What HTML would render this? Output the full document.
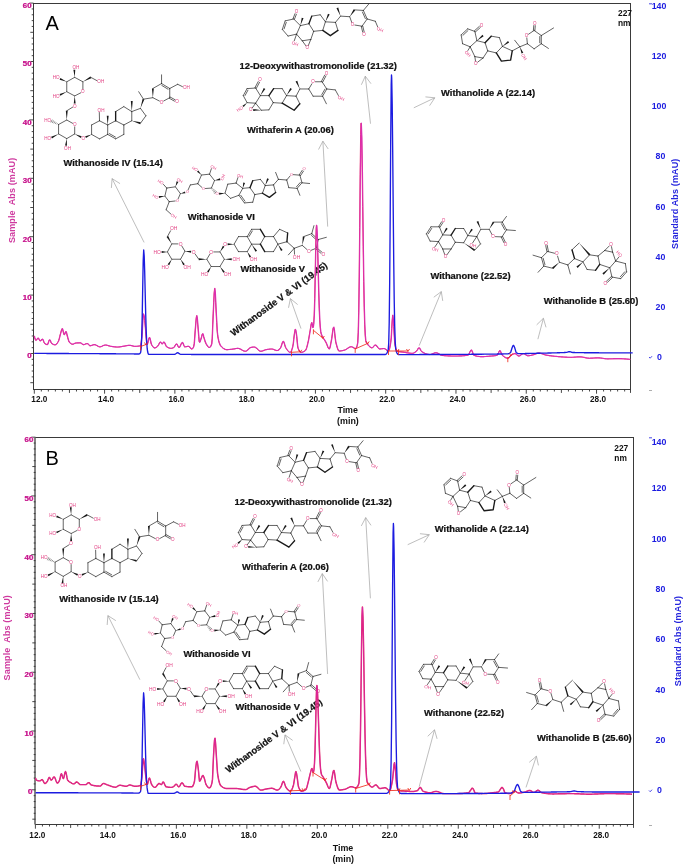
<!DOCTYPE html>
<html lang="en"><head><meta charset="utf-8"><title>Withanolide chromatograms</title>
<style>html,body{margin:0;padding:0;background:#fff}svg{display:block}</style></head>
<body>
<svg width="685" height="866" viewBox="0 0 685 866">
<rect width="685" height="866" fill="#fff"/>
<rect x="33.5" y="3.5" width="597" height="386" fill="none" stroke="#3a3a3a" stroke-width="1"/>
<path d="M33.5 382.7h-3.2M33.5 376.86h-1.8M33.5 371.02h-1.8M33.5 365.18h-1.8M33.5 359.34h-1.8M33.5 353.5h-4.2M33.5 347.66h-1.8M33.5 341.82h-1.8M33.5 335.98h-1.8M33.5 330.14h-1.8M33.5 324.3h-3.2M33.5 318.46h-1.8M33.5 312.62h-1.8M33.5 306.78h-1.8M33.5 300.94h-1.8M33.5 295.1h-4.2M33.5 289.26h-1.8M33.5 283.42h-1.8M33.5 277.58h-1.8M33.5 271.74h-1.8M33.5 265.9h-3.2M33.5 260.06h-1.8M33.5 254.22h-1.8M33.5 248.38h-1.8M33.5 242.54h-1.8M33.5 236.7h-4.2M33.5 230.86h-1.8M33.5 225.02h-1.8M33.5 219.18h-1.8M33.5 213.34h-1.8M33.5 207.5h-3.2M33.5 201.66h-1.8M33.5 195.82h-1.8M33.5 189.98h-1.8M33.5 184.14h-1.8M33.5 178.3h-4.2M33.5 172.46h-1.8M33.5 166.62h-1.8M33.5 160.78h-1.8M33.5 154.94h-1.8M33.5 149.1h-3.2M33.5 143.26h-1.8M33.5 137.42h-1.8M33.5 131.58h-1.8M33.5 125.74h-1.8M33.5 119.9h-4.2M33.5 114.06h-1.8M33.5 108.22h-1.8M33.5 102.38h-1.8M33.5 96.54h-1.8M33.5 90.7h-3.2M33.5 84.86h-1.8M33.5 79.02h-1.8M33.5 73.18h-1.8M33.5 67.34h-1.8M33.5 61.5h-4.2M33.5 55.66h-1.8M33.5 49.82h-1.8M33.5 43.98h-1.8M33.5 38.14h-1.8M33.5 32.3h-3.2M33.5 26.46h-1.8M33.5 20.62h-1.8M33.5 14.78h-1.8M33.5 8.94h-1.8M33.5 3.1h-4.2M34.3 389.5v4.2M41.33 389.5v2M48.36 389.5v2M55.38 389.5v2M62.41 389.5v2M69.44 389.5v3.4M76.47 389.5v2M83.5 389.5v2M90.52 389.5v2M97.55 389.5v2M104.58 389.5v4.2M111.61 389.5v2M118.64 389.5v2M125.66 389.5v2M132.69 389.5v2M139.72 389.5v3.4M146.75 389.5v2M153.78 389.5v2M160.8 389.5v2M167.83 389.5v2M174.86 389.5v4.2M181.89 389.5v2M188.92 389.5v2M195.94 389.5v2M202.97 389.5v2M210 389.5v3.4M217.03 389.5v2M224.06 389.5v2M231.08 389.5v2M238.11 389.5v2M245.14 389.5v4.2M252.17 389.5v2M259.2 389.5v2M266.22 389.5v2M273.25 389.5v2M280.28 389.5v3.4M287.31 389.5v2M294.34 389.5v2M301.36 389.5v2M308.39 389.5v2M315.42 389.5v4.2M322.45 389.5v2M329.48 389.5v2M336.5 389.5v2M343.53 389.5v2M350.56 389.5v3.4M357.59 389.5v2M364.62 389.5v2M371.64 389.5v2M378.67 389.5v2M385.7 389.5v4.2M392.73 389.5v2M399.76 389.5v2M406.78 389.5v2M413.81 389.5v2M420.84 389.5v3.4M427.87 389.5v2M434.9 389.5v2M441.92 389.5v2M448.95 389.5v2M455.98 389.5v4.2M463.01 389.5v2M470.04 389.5v2M477.06 389.5v2M484.09 389.5v2M491.12 389.5v3.4M498.15 389.5v2M505.18 389.5v2M512.2 389.5v2M519.23 389.5v2M526.26 389.5v4.2M533.29 389.5v2M540.32 389.5v2M547.34 389.5v2M554.37 389.5v2M561.4 389.5v3.4M568.43 389.5v2M575.46 389.5v2M582.48 389.5v2M589.51 389.5v2M596.54 389.5v4.2M603.57 389.5v2M610.6 389.5v2M617.62 389.5v2M624.65 389.5v2M630.5 389.5v3.4" stroke="#333" stroke-width="0.9" fill="none"/>
<text x="32" y="358.4" font-size="8.1" font-weight="bold" fill="#e86ab8" text-anchor="end" font-family="'Liberation Sans', Arial, sans-serif">0</text>
<text x="31.5" y="358.4" font-size="8.1" font-weight="bold" fill="#c4188e" text-anchor="end" font-family="'Liberation Sans', Arial, sans-serif">0</text>
<text x="32" y="300" font-size="8.1" font-weight="bold" fill="#e86ab8" text-anchor="end" font-family="'Liberation Sans', Arial, sans-serif">10</text>
<text x="31.5" y="300" font-size="8.1" font-weight="bold" fill="#c4188e" text-anchor="end" font-family="'Liberation Sans', Arial, sans-serif">10</text>
<text x="32" y="241.6" font-size="8.1" font-weight="bold" fill="#e86ab8" text-anchor="end" font-family="'Liberation Sans', Arial, sans-serif">20</text>
<text x="31.5" y="241.6" font-size="8.1" font-weight="bold" fill="#c4188e" text-anchor="end" font-family="'Liberation Sans', Arial, sans-serif">20</text>
<text x="32" y="183.2" font-size="8.1" font-weight="bold" fill="#e86ab8" text-anchor="end" font-family="'Liberation Sans', Arial, sans-serif">30</text>
<text x="31.5" y="183.2" font-size="8.1" font-weight="bold" fill="#c4188e" text-anchor="end" font-family="'Liberation Sans', Arial, sans-serif">30</text>
<text x="32" y="124.8" font-size="8.1" font-weight="bold" fill="#e86ab8" text-anchor="end" font-family="'Liberation Sans', Arial, sans-serif">40</text>
<text x="31.5" y="124.8" font-size="8.1" font-weight="bold" fill="#c4188e" text-anchor="end" font-family="'Liberation Sans', Arial, sans-serif">40</text>
<text x="32" y="66.4" font-size="8.1" font-weight="bold" fill="#e86ab8" text-anchor="end" font-family="'Liberation Sans', Arial, sans-serif">50</text>
<text x="31.5" y="66.4" font-size="8.1" font-weight="bold" fill="#c4188e" text-anchor="end" font-family="'Liberation Sans', Arial, sans-serif">50</text>
<text x="32" y="8" font-size="8.1" font-weight="bold" fill="#e86ab8" text-anchor="end" font-family="'Liberation Sans', Arial, sans-serif">60</text>
<text x="31.5" y="8" font-size="8.1" font-weight="bold" fill="#c4188e" text-anchor="end" font-family="'Liberation Sans', Arial, sans-serif">60</text>
<text x="39.3" y="401.9" font-size="8.2" font-weight="bold" fill="#111" text-anchor="middle" font-family="'Liberation Sans', Arial, sans-serif">12.0</text>
<text x="106.08" y="401.9" font-size="8.2" font-weight="bold" fill="#111" text-anchor="middle" font-family="'Liberation Sans', Arial, sans-serif">14.0</text>
<text x="176.36" y="401.9" font-size="8.2" font-weight="bold" fill="#111" text-anchor="middle" font-family="'Liberation Sans', Arial, sans-serif">16.0</text>
<text x="246.64" y="401.9" font-size="8.2" font-weight="bold" fill="#111" text-anchor="middle" font-family="'Liberation Sans', Arial, sans-serif">18.0</text>
<text x="316.92" y="401.9" font-size="8.2" font-weight="bold" fill="#111" text-anchor="middle" font-family="'Liberation Sans', Arial, sans-serif">20.0</text>
<text x="387.2" y="401.9" font-size="8.2" font-weight="bold" fill="#111" text-anchor="middle" font-family="'Liberation Sans', Arial, sans-serif">22.0</text>
<text x="457.48" y="401.9" font-size="8.2" font-weight="bold" fill="#111" text-anchor="middle" font-family="'Liberation Sans', Arial, sans-serif">24.0</text>
<text x="527.76" y="401.9" font-size="8.2" font-weight="bold" fill="#111" text-anchor="middle" font-family="'Liberation Sans', Arial, sans-serif">26.0</text>
<text x="598.04" y="401.9" font-size="8.2" font-weight="bold" fill="#111" text-anchor="middle" font-family="'Liberation Sans', Arial, sans-serif">28.0</text>
<text x="661.8" y="359.95" font-size="8.8" font-weight="bold" fill="#1c1ce0" text-anchor="end" font-family="'Liberation Sans', Arial, sans-serif">0</text>
<text x="665.3" y="309.81" font-size="8.8" font-weight="bold" fill="#1c1ce0" text-anchor="end" font-family="'Liberation Sans', Arial, sans-serif">20</text>
<text x="665.3" y="259.67" font-size="8.8" font-weight="bold" fill="#1c1ce0" text-anchor="end" font-family="'Liberation Sans', Arial, sans-serif">40</text>
<text x="665.3" y="209.53" font-size="8.8" font-weight="bold" fill="#1c1ce0" text-anchor="end" font-family="'Liberation Sans', Arial, sans-serif">60</text>
<text x="665.3" y="159.39" font-size="8.8" font-weight="bold" fill="#1c1ce0" text-anchor="end" font-family="'Liberation Sans', Arial, sans-serif">80</text>
<text x="666.4" y="109.25" font-size="8.8" font-weight="bold" fill="#1c1ce0" text-anchor="end" font-family="'Liberation Sans', Arial, sans-serif">100</text>
<text x="666.4" y="59.11" font-size="8.8" font-weight="bold" fill="#1c1ce0" text-anchor="end" font-family="'Liberation Sans', Arial, sans-serif">120</text>
<text x="666.4" y="8.97" font-size="8.8" font-weight="bold" fill="#1c1ce0" text-anchor="end" font-family="'Liberation Sans', Arial, sans-serif">140</text>
<text x="337.4" y="412.7" font-size="8.9" font-weight="bold" fill="#111" text-anchor="start" font-family="'Liberation Sans', Arial, sans-serif">Time</text>
<text x="337.1" y="423.5" font-size="8.9" font-weight="bold" fill="#111" text-anchor="start" font-family="'Liberation Sans', Arial, sans-serif">(min)</text>
<text x="0" y="0" font-size="9" font-weight="bold" fill="#cf3a9f" text-anchor="middle" font-family="'Liberation Sans', Arial, sans-serif" letter-spacing="0.13" style="white-space:pre" transform="translate(15 200.4) rotate(-90)">Sample  Abs (mAU)</text>
<text x="0" y="0" font-size="9" font-weight="bold" fill="#2626dd" text-anchor="middle" font-family="'Liberation Sans', Arial, sans-serif" letter-spacing="0.15" transform="translate(678.2 203.7) rotate(-90)">Standard Abs (mAU)</text>
<text x="618" y="15.6" font-size="8.4" font-weight="bold" fill="#111" text-anchor="start" font-family="'Liberation Sans', Arial, sans-serif">227</text>
<text x="618" y="26.1" font-size="8.4" font-weight="bold" fill="#111" text-anchor="start" font-family="'Liberation Sans', Arial, sans-serif">nm</text>
<text x="45.4" y="30.2" font-size="20" font-weight="normal" fill="#000" text-anchor="start" font-family="'Liberation Sans', Arial, sans-serif">A</text>
<path d="M649 3.8h3M649 357l1.2 1.2l1.8 -2" stroke="#1c1ce0" stroke-width="0.8" fill="none"/>
<path d="M649 390.5h3" stroke="#999" stroke-width="0.8"/>
<path d="M144.1 242.4L112.1 178.6M120.04 183.63L112.1 178.6L111.38 187.97" stroke="#a2a2a2" stroke-width="0.7" fill="none"/>
<path d="M301 328.6L290.4 298.6M297.65 304.58L290.4 298.6L288.52 307.81" stroke="#a2a2a2" stroke-width="0.7" fill="none"/>
<path d="M327.7 226.6L322.9 141.2M328.19 148.97L322.9 141.2L318.52 149.52" stroke="#a2a2a2" stroke-width="0.7" fill="none"/>
<path d="M370.5 123.7L365.3 76.2M370.99 83.68L365.3 76.2L361.36 84.74" stroke="#a2a2a2" stroke-width="0.7" fill="none"/>
<path d="M413.8 107.8L434.8 97.8M429.61 105.64L434.8 97.8L425.44 96.89" stroke="#a2a2a2" stroke-width="0.7" fill="none"/>
<path d="M419.2 345.6L441.3 291.6M442.73 300.89L441.3 291.6L433.77 297.22" stroke="#a2a2a2" stroke-width="0.7" fill="none"/>
<path d="M537.9 339.2L543.4 318.3M546.03 327.32L543.4 318.3L536.67 324.86" stroke="#a2a2a2" stroke-width="0.7" fill="none"/>
<text x="63.5" y="165.9" font-size="9.4" font-weight="bold" fill="#111" text-anchor="start" font-family="'Liberation Sans', Arial, sans-serif" stroke="#111" stroke-width="0.22">Withanoside IV (15.14)</text>
<text x="187.7" y="220.1" font-size="9.4" font-weight="bold" fill="#111" text-anchor="start" font-family="'Liberation Sans', Arial, sans-serif" stroke="#111" stroke-width="0.22">Withanoside VI</text>
<text x="240.5" y="272.4" font-size="9.4" font-weight="bold" fill="#111" text-anchor="start" font-family="'Liberation Sans', Arial, sans-serif" stroke="#111" stroke-width="0.22">Withanoside V</text>
<text x="0" y="0" font-size="9.4" font-weight="bold" fill="#111" text-anchor="start" font-family="'Liberation Sans', Arial, sans-serif" stroke="#111" stroke-width="0.22" transform="translate(233.4 336.5) rotate(-36.4)">Withanoside V &amp; VI (19.45)</text>
<text x="396.8" y="68.7" font-size="9.4" font-weight="bold" fill="#111" text-anchor="end" font-family="'Liberation Sans', Arial, sans-serif" stroke="#111" stroke-width="0.22">12-Deoxywithastromonolide (21.32)</text>
<text x="247.1" y="133.2" font-size="9.4" font-weight="bold" fill="#111" text-anchor="start" font-family="'Liberation Sans', Arial, sans-serif" stroke="#111" stroke-width="0.22">Withaferin A (20.06)</text>
<text x="441.1" y="95.5" font-size="9.4" font-weight="bold" fill="#111" text-anchor="start" font-family="'Liberation Sans', Arial, sans-serif" stroke="#111" stroke-width="0.22">Withanolide A (22.14)</text>
<text x="430.4" y="279" font-size="9.4" font-weight="bold" fill="#111" text-anchor="start" font-family="'Liberation Sans', Arial, sans-serif" stroke="#111" stroke-width="0.22">Withanone (22.52)</text>
<text x="543.7" y="304" font-size="9.4" font-weight="bold" fill="#111" text-anchor="start" font-family="'Liberation Sans', Arial, sans-serif" stroke="#111" stroke-width="0.22">Withanolide B (25.60)</text>
<g font-family="'Liberation Sans', Arial, sans-serif"><path d="M74.7 77.33L82.89 81.8M82.89 81.8L82.89 89.33M80.76 92.82L74.7 95.94M74.7 95.94L66.76 91.72M66.76 91.72L66.76 81.8M66.76 81.8L74.7 77.33M90.83 77.33L96.92 80.65M72.67 107.14L66.76 110.83M66.76 120.01L72.62 123.31M74.7 126.87L74.7 133.91M74.7 133.91L66.76 138.62M66.76 138.62L58.57 133.91M58.57 133.91L58.57 124.48M58.57 124.48L66.76 120.01M91.58 134.4L91.58 124.98M91.58 124.98L99.52 120.76M99.52 120.76L107.7 124.98M107.7 124.98L107.7 134.4M107.7 134.4L99.52 138.87M99.52 138.87L91.58 134.4M99.52 120.76L99.32 112.48M107.7 124.98L115.65 120.76M115.65 120.76L123.83 124.98M123.83 124.98L123.83 134.4M123.83 134.4L115.65 138.87M115.65 138.87L107.7 134.4M115.43 137.03L109.39 133.63M115.65 111.58L123.83 106.61M123.83 106.61L131.77 111.58M131.77 111.58L131.77 120.76M131.77 120.76L123.83 124.98M131.77 111.58L140.46 108.35M140.46 108.35L145.92 115.79M145.92 115.79L140.46 123.24M143.44 99.17L138.72 91.72M143.44 99.17L152.87 97.68M152.87 88.5L161.55 83.54M161.55 83.54L169.74 88.5M161.76 85.41L167.98 89.19M169.74 88.5L169.74 97.68M169.74 97.68L163.65 101M159.42 101.05L152.87 97.68M161.55 83.54L161.55 74.85M169.38 98.34L174.48 101.15M170.1 97.02L175.2 99.84M169.74 88.5L177.68 84.28M177.68 84.28L182.49 86.68" stroke="#1a1a1a" stroke-width="0.68" fill="none" stroke-linecap="round"/><path d="M57.27 123.58L57.06 124.01M55.97 122.68L55.55 123.54M54.67 121.78L54.04 123.07M53.37 120.88L52.53 122.61M52.07 119.98L51.02 122.14" stroke="#1a1a1a" stroke-width="0.5" fill="none" stroke-linecap="round"/><path d="M115.65 120.76L115.65 111.58" stroke="#1a1a1a" stroke-width="1.36" fill="none" stroke-linecap="round"/><path d="M74.7 77.33L75.27 69.75L73.38 69.84ZM66.76 81.8L60.4 77.93L59.63 79.67ZM66.76 91.72L59.59 94.06L60.4 95.78ZM82.89 81.8L91.3 78.16L90.37 76.5ZM74.7 95.94L73.75 103.48L75.65 103.48ZM66.76 120.01L67.71 110.83L65.81 110.83ZM58.57 133.91L51.09 136.69L51.95 138.38ZM66.76 138.62L65.07 145.57L66.96 145.77ZM74.7 133.91L80.82 137.94L81.65 136.23ZM91.58 134.4L85.17 136.27L85.96 138ZM107.7 124.98L108.65 115.79L106.75 115.79ZM131.77 111.58L132.72 100.91L130.82 100.91ZM131.77 120.76L140.2 124.15L140.72 122.32ZM140.46 108.35L144.34 99.46L142.53 98.88ZM152.87 97.68L153.82 88.5L151.92 88.5Z" fill="#1a1a1a"/><text x="82.89" y="93.38" font-size="4.6" text-anchor="middle" fill="#e23f82">O</text><text x="72.5" y="69.06" font-size="4.6" text-anchor="start" fill="#e23f82">OH</text><text x="59.53" y="79.48" font-size="4.6" text-anchor="end" fill="#e23f82">HO</text><text x="59.53" y="97.6" font-size="4.6" text-anchor="end" fill="#e23f82">HO</text><text x="97.32" y="83.46" font-size="4.6" text-anchor="start" fill="#e23f82">OH</text><text x="74.7" y="107.52" font-size="4.6" text-anchor="middle" fill="#e23f82">O</text><text x="74.7" y="126.13" font-size="4.6" text-anchor="middle" fill="#e23f82">O</text><text x="51.09" y="121.67" font-size="4.6" text-anchor="end" fill="#e23f82">HO</text><text x="51.09" y="140.28" font-size="4.6" text-anchor="end" fill="#e23f82">HO</text><text x="64.07" y="149.71" font-size="4.6" text-anchor="start" fill="#e23f82">OH</text><text x="83.39" y="139.78" font-size="4.6" text-anchor="middle" fill="#e23f82">O</text><text x="97.57" y="111.74" font-size="4.6" text-anchor="start" fill="#e23f82">OH</text><text x="161.55" y="103.8" font-size="4.6" text-anchor="middle" fill="#e23f82">O</text><text x="176.94" y="103.31" font-size="4.6" text-anchor="middle" fill="#e23f82">O</text><text x="182.93" y="89.41" font-size="4.6" text-anchor="start" fill="#e23f82">OH</text></g>
<g font-family="'Liberation Sans', Arial, sans-serif"><path d="M166.75 188.05L175.43 186.81M175.43 186.81L180.4 193.64M180.4 193.64L178.15 198.76M175.18 200.97L169.23 201.7M169.23 201.7L164.89 196.12M164.89 196.12L166.75 188.05M166.75 188.05L163.47 184.42M169.23 201.7L166.13 209.77M166.13 209.77L170.75 213.92M188.1 189.84L190.32 184.95M190.32 184.95L197.77 183.71M197.77 183.71L201.49 175.03M201.49 175.03L209.55 174.16M209.55 174.16L214.52 180.61M214.52 180.61L211.41 188.05M211.41 188.05L205.48 188.51M201.76 187.26L197.77 183.71M209.55 174.16L211.36 168.74M225 193.21L227.77 184.19M227.77 184.19L236.1 183.08M236.1 183.08L242.75 188.35M242.75 188.35L238.87 195.29M238.87 195.29L230.55 198.34M230.55 198.34L225 193.21M236.1 183.08L237.92 177.61M242.75 188.35L249.97 187.66M249.97 187.66L254.82 194.59M254.82 194.59L252.74 202.22M252.74 202.22L244.42 202.92M244.42 202.92L238.87 195.29M244.96 201.12L240.75 195.32M252.74 180.72L260.37 179.34M260.37 179.34L265.22 185.58M265.22 185.58L262.45 193.21M262.45 193.21L254.82 194.59M265.22 185.58L273.54 184.88M273.54 184.88L275.62 192.51M273.54 184.88L278.4 179.34M278.4 179.34L275.62 172.4M278.4 179.34L286.72 180.03M286.72 180.03L289.94 176.13M293.42 174.65L299.9 175.18M300.52 175.59L303.5 171.12M299.27 174.76L302.25 170.29M299.9 175.18L301.98 182.8M301.98 182.8L309.6 183.5M301.98 182.8L297.12 188.35M300.27 182.48L296.58 186.7M297.12 188.35L299.9 195.29M297.12 188.35L288.8 187.66M288.8 187.66L286.72 180.03" stroke="#1a1a1a" stroke-width="0.68" fill="none" stroke-linecap="round"/><path d="M212.06 189.1L212.41 188.77M212.71 190.14L213.41 189.49M213.36 191.19L214.41 190.2M214.01 192.23L215.41 190.92M214.66 193.28L216.41 191.63" stroke="#1a1a1a" stroke-width="0.5" fill="none" stroke-linecap="round"/><path d="M249.97 187.66L252.74 180.72M275.62 192.51L269.38 197.37M269.38 197.37L262.45 193.21" stroke="#1a1a1a" stroke-width="1.36" fill="none" stroke-linecap="round"/><path d="M175.43 186.81L178.37 182.07L176.61 181.36ZM164.89 196.12L158.79 196.1L159.08 197.97ZM180.4 193.64L185.41 193.25L184.91 191.42ZM201.49 175.03L198.33 170.53L196.99 171.87ZM214.52 180.61L220.36 180.17L219.91 178.33ZM225 193.21L219.02 192.85L219.21 194.74ZM242.75 188.35L245.06 183.03L243.22 182.57ZM265.22 185.58L268.88 179L267.11 178.29Z" fill="#1a1a1a"/><text x="177.3" y="202.19" font-size="4.1" text-anchor="middle" fill="#e23f82">O</text><text x="163.55" y="184.32" font-size="4.1" text-anchor="end" fill="#e23f82" transform="rotate(30 162.03 182.84)">HO</text><text x="176.77" y="181.22" font-size="4.1" text-anchor="start" fill="#e23f82" transform="rotate(30 178.29 179.74)">OH</text><text x="158.34" y="198.84" font-size="4.1" text-anchor="end" fill="#e23f82" transform="rotate(30 156.82 197.36)">HO</text><text x="170.82" y="216.83" font-size="4.1" text-anchor="start" fill="#e23f82" transform="rotate(30 172.33 215.35)">OH</text><text x="187.22" y="193.25" font-size="4.1" text-anchor="middle" fill="#e23f82">O</text><text x="203.35" y="190.15" font-size="4.1" text-anchor="middle" fill="#e23f82">O</text><text x="197.67" y="171.17" font-size="4.1" text-anchor="end" fill="#e23f82" transform="rotate(30 196.15 169.69)">HO</text><text x="210.52" y="168.19" font-size="4.1" text-anchor="start" fill="#e23f82" transform="rotate(30 212.03 166.71)">OH</text><text x="220.69" y="180.23" font-size="4.1" text-anchor="start" fill="#e23f82" transform="rotate(-70 222.21 178.75)">OH</text><text x="217" y="195.49" font-size="4.1" text-anchor="middle" fill="#e23f82">O</text><text x="237.08" y="177.07" font-size="4.1" text-anchor="start" fill="#e23f82" transform="rotate(20 238.59 175.59)">OH</text><text x="291.3" y="175.96" font-size="4.1" text-anchor="middle" fill="#e23f82">O</text><text x="304.06" y="170.41" font-size="4.1" text-anchor="middle" fill="#e23f82">O</text></g>
<g font-family="'Liberation Sans', Arial, sans-serif"><path d="M171.79 243.9L178 243.9M181.86 246.08L184.93 251.2M184.93 251.2L180.55 259.23M180.55 259.23L171.79 259.23M171.79 259.23L167.41 251.93M167.41 251.93L171.79 243.9M167.41 236.6L170.57 230.81M195.15 254.01L198.8 259.23M206.82 259.23L209.89 254.11M213.75 251.93L219.96 251.93M219.96 251.93L224.34 259.23M224.34 259.23L219.96 266.53M219.96 266.53L211.2 266.53M211.2 266.53L206.82 259.23M234.09 244.19L238.47 236.6M238.47 236.6L247.23 236.6M247.23 236.6L251.61 244.19M251.61 244.19L247.23 251.64M247.23 251.64L238.47 251.64M238.47 251.64L234.09 244.19M247.23 236.6L251.61 229.3M249.04 236.49L252.37 230.95M251.61 229.3L260.36 229.3M264.74 236.6L260.36 244.19M260.36 244.19L251.61 244.19M264.74 236.6L273.5 236.6M273.5 236.6L277.88 244.19M277.88 244.19L273.5 251.64M273.5 251.64L264.74 251.64M273.5 236.6L279.64 229.3M279.64 229.3L287.66 232.95M286.93 241.71L277.88 244.19M286.93 241.71L294.23 248.28M294.23 248.28L288.39 254.85M294.23 248.28L294.54 254.2M294.23 248.28L302.26 245.36M303.72 236.6L311.75 233.68M311.75 233.68L313.94 225.65M311.75 233.68L318.32 239.52M311.54 235.5L316.54 239.94M318.32 239.52L326.35 237.33M318.32 239.52L316.13 248.28M315.65 248.85L321 253.34M316.61 247.7L321.96 252.2M316.13 248.28L311.2 250.25M306.93 249.5L302.26 245.36" stroke="#1a1a1a" stroke-width="0.68" fill="none" stroke-linecap="round"/><path d="M260.36 229.3L264.74 236.6M264.74 251.64L260.36 244.19M287.66 232.95L286.93 241.71" stroke="#1a1a1a" stroke-width="1.36" fill="none" stroke-linecap="round"/><path d="M171.79 243.9L168.22 236.11L166.59 237.09ZM184.93 251.2L191.07 252.66L191.23 250.77ZM180.55 259.23L183.21 265.3L184.82 264.3ZM171.79 259.23L167.62 264.29L169.25 265.27ZM167.41 251.93L161.64 250.98L161.64 252.88ZM206.82 259.23L198.8 258.28L198.8 260.18ZM219.96 251.93L224.46 246.84L222.88 245.79ZM224.34 259.23L231.72 260.18L231.72 258.28ZM219.96 266.53L223.25 272.75L224.8 271.64ZM211.2 266.53L207.04 271.59L208.66 272.57ZM234.09 244.19L227.62 243.24L227.62 245.14ZM247.23 251.64L249.51 257.49L251.16 256.54ZM251.61 244.19L255.49 251.72L257.07 250.67ZM277.88 244.19L281.02 250.97L282.63 249.96ZM302.26 245.36L304.66 236.75L302.79 236.44Z" fill="#1a1a1a"/><text x="180.55" y="245.66" font-size="4.9" text-anchor="middle" fill="#e23f82">O</text><text x="169.98" y="230.33" font-size="4.9" text-anchor="start" fill="#e23f82">OH</text><text x="193.69" y="253.69" font-size="4.9" text-anchor="middle" fill="#e23f82">O</text><text x="183.55" y="268.73" font-size="4.9" text-anchor="start" fill="#e23f82">OH</text><text x="168.93" y="268.73" font-size="4.9" text-anchor="end" fill="#e23f82">HO</text><text x="160.9" y="253.69" font-size="4.9" text-anchor="end" fill="#e23f82">HO</text><text x="211.2" y="253.69" font-size="4.9" text-anchor="middle" fill="#e23f82">O</text><text x="225.07" y="245.95" font-size="4.9" text-anchor="middle" fill="#e23f82">O</text><text x="232.46" y="260.99" font-size="4.9" text-anchor="start" fill="#e23f82">OH</text><text x="223.7" y="276.03" font-size="4.9" text-anchor="start" fill="#e23f82">OH</text><text x="208.35" y="276.03" font-size="4.9" text-anchor="end" fill="#e23f82">HO</text><text x="249.79" y="260.99" font-size="4.9" text-anchor="start" fill="#e23f82">OH</text><text x="292.86" y="258.51" font-size="4.9" text-anchor="start" fill="#e23f82">OH</text><text x="323.43" y="256.17" font-size="4.9" text-anchor="middle" fill="#e23f82">O</text><text x="308.83" y="252.96" font-size="4.9" text-anchor="middle" fill="#e23f82">O</text></g>
<g font-family="'Liberation Sans', Arial, sans-serif"><path d="M294.42 19.25L296.4 14.22M293.02 18.7L295.01 13.67M293.72 18.98L285.18 20.87M285.18 20.87L282.33 29.41M286.26 22.37L284.1 28.86M282.33 29.41L288.03 36.05M288.03 36.05L296.57 34.16M296.57 34.16L300.36 25.62M300.36 25.62L293.72 18.98M296.57 34.16L294.3 40.67M300.36 25.62L308.9 23.72M308.9 23.72L313.64 31.31M313.64 31.31L310.8 39.47M310.8 39.47L302.26 40.8M302.26 40.8L296.57 34.16M302.26 40.8L306 45.93M310.8 39.47L308.27 45.65M311.75 16.13L320.28 14.8M320.28 14.8L325.41 21.82M325.41 21.82L322.75 30.36M322.75 30.36L313.64 31.31M325.41 21.82L335.46 22.39M335.46 22.39L337.93 30.36M335.46 22.39L340.59 16.13M340.59 16.13L349.7 16.7M354.44 9.87L363.36 10.44M363.36 10.44L368.67 4.17M363.36 10.44L367.15 18.98M362.44 12.07L365.33 18.56M367.15 18.98L375.31 21.25M375.31 21.25L377.62 26.69M367.15 18.98L362.03 26.19M361.3 26.36L362.66 32.05M362.76 26.01L364.12 31.71M362.03 26.19L354.85 25.04M351.76 22.46L349.7 16.7" stroke="#1a1a1a" stroke-width="0.68" fill="none" stroke-linecap="round"/><path d="M308.9 23.72L311.75 16.13M337.93 30.36L330.34 35.67M330.34 35.67L322.75 30.36" stroke="#1a1a1a" stroke-width="1.36" fill="none" stroke-linecap="round"/><path d="M300.36 25.62L303.55 18.3L301.73 17.75ZM325.41 21.82L329.69 14.62L327.96 13.84ZM340.59 16.13L338.25 7.62L336.48 8.32ZM349.7 16.7L355.22 10.41L353.66 9.33Z" fill="#1a1a1a"/><text x="296.57" y="13.38" font-size="4.5" text-anchor="middle" fill="#e23f82">O</text><text x="291.86" y="44.5" font-size="4.5" text-anchor="start" fill="#e23f82" transform="rotate(25 293.53 42.88)">OH</text><text x="307.38" y="49.44" font-size="4.5" text-anchor="middle" fill="#e23f82">O</text><text x="376.87" y="30.46" font-size="4.5" text-anchor="start" fill="#e23f82" transform="rotate(25 378.54 28.84)">OH</text><text x="363.93" y="35.78" font-size="4.5" text-anchor="middle" fill="#e23f82">O</text><text x="352.54" y="26.29" font-size="4.5" text-anchor="middle" fill="#e23f82">O</text></g>
<g font-family="'Liberation Sans', Arial, sans-serif"><path d="M256.28 88.38L259.54 82.28M254.96 87.67L258.22 81.58M255.62 88.03L247.08 88.6M247.08 88.6L243.28 95.62M247.94 90.15L245.06 95.49M243.28 95.62L247.08 102.64M247.08 102.64L255.62 103.21M255.62 103.21L260.36 95.62M260.36 95.62L255.62 88.03M255.62 103.21L252.23 107.94M255.62 103.21L261.31 110.23M261.31 110.23L268.9 109.85M268.9 109.85L273.26 102.64M273.26 102.64L268.9 95.62M268.9 95.62L260.36 95.62M273.64 88.6L282.18 88.6M282.18 88.6L286.55 95.62M286.55 95.62L282.18 103.21M282.18 103.21L273.26 102.64M286.55 95.62L296.03 96.19M296.03 96.19L299.83 103.78M296.03 96.19L299.83 88.98M299.83 88.98L308.75 88.98M308.75 88.98L311.9 83.77M315.45 81.76L322.03 81.76M322.7 82.11L325.98 75.84M321.37 81.42L324.65 75.14M322.03 81.76L326.77 88.98M326.77 88.98L335.31 89.92M335.31 89.92L338.36 95.46M326.77 88.98L322.6 96.19M324.98 89.09L321.8 94.57M322.6 96.19L326.39 103.78M322.6 96.19L313.11 96.19M313.11 96.19L308.75 88.98" stroke="#1a1a1a" stroke-width="0.68" fill="none" stroke-linecap="round"/><path d="M268.9 95.62L273.64 88.6M299.83 103.78L294.14 110.23M294.14 110.23L282.18 103.21" stroke="#1a1a1a" stroke-width="1.36" fill="none" stroke-linecap="round"/><path d="M247.08 102.64L242.45 105.66L243.74 107.05ZM260.36 95.62L265.35 89.08L263.72 88.11ZM261.31 110.23L253.25 108.98L253.18 110.88ZM286.55 95.62L291.9 89.11L290.3 88.08ZM299.83 88.98L297.29 80.63L295.54 81.38Z" fill="#1a1a1a"/><text x="259.98" y="81.49" font-size="4.5" text-anchor="middle" fill="#e23f82">O</text><text x="243.05" y="109.57" font-size="4.5" text-anchor="end" fill="#e23f82" transform="rotate(-30 241.39 107.95)">HO</text><text x="250.87" y="111.47" font-size="4.5" text-anchor="middle" fill="#e23f82">O</text><text x="313.11" y="83.38" font-size="4.5" text-anchor="middle" fill="#e23f82">O</text><text x="326.39" y="75.04" font-size="4.5" text-anchor="middle" fill="#e23f82">O</text><text x="337.82" y="99.13" font-size="4.5" text-anchor="start" fill="#e23f82" transform="rotate(25 339.49 97.51)">OH</text></g>
<g font-family="'Liberation Sans', Arial, sans-serif"><path d="M475.36 32.01L480.37 27.46M474.35 30.9L479.36 26.35M474.85 31.46L467.7 28.8M467.7 28.8L461.16 34.93M467.94 30.63L462.97 35.29M461.16 34.93L462.59 43.72M462.59 43.72L470.15 46.79M470.15 46.79L476.9 40.66M476.9 40.66L474.85 31.46M470.15 46.79L467.89 50.51M476.9 40.66L485.07 42.7M485.07 42.7L487.73 50.87M487.73 50.87L483.03 58.03M483.03 58.03L474.85 56.6M474.85 56.6L470.15 46.79M474.85 56.6L475.53 61.23M483.03 58.03L477.73 62.12M491.2 36.16L499.38 37.59M499.38 37.59L502.44 46.38M502.44 46.38L496.31 52.92M496.31 52.92L487.73 50.87M502.44 46.38L512.25 50.87M512.25 50.87L519.82 46.79M519.82 46.79L514.71 40.25M519.82 46.79L527.38 43.72M527.38 43.72L526.79 37.88M528.5 34.24L534.12 30.44M534.87 30.5L535.28 25.68M533.37 30.37L533.79 25.55M534.12 30.44L541.27 35.55M541.27 35.55L553.54 27.98M541.27 35.55L541.27 43.72M539.77 36.53L539.77 42.74M541.27 43.72L548.43 48.42M541.27 43.72L534.12 48.83M534.12 48.83L527.38 43.72" stroke="#1a1a1a" stroke-width="0.68" fill="none" stroke-linecap="round"/><path d="M485.07 42.7L491.2 36.16M512.25 50.87L510.62 60.07M510.62 60.07L501.42 61.09M501.42 61.09L496.31 52.92" stroke="#1a1a1a" stroke-width="1.36" fill="none" stroke-linecap="round"/><path d="M476.9 40.66L483.64 36.28L482.42 34.82ZM502.44 46.38L509.15 42.43L508 40.92ZM519.82 46.79L521.53 53.56L523.29 52.85Z" fill="#1a1a1a"/><text x="481.6" y="26.95" font-size="4.5" text-anchor="middle" fill="#e23f82">O</text><text x="465.01" y="54.13" font-size="4.5" text-anchor="start" fill="#e23f82" transform="rotate(45 466.68 52.51)">OH</text><text x="475.87" y="65.17" font-size="4.5" text-anchor="middle" fill="#e23f82">O</text><text x="521.62" y="56.99" font-size="4.5" text-anchor="start" fill="#e23f82" transform="rotate(60 523.29 55.37)">OH</text><text x="526.56" y="37.17" font-size="4.5" text-anchor="middle" fill="#e23f82">O</text><text x="534.73" y="24.9" font-size="4.5" text-anchor="middle" fill="#e23f82">O</text></g>
<g font-family="'Liberation Sans', Arial, sans-serif"><path d="M439.98 227.22L442.91 222.53M438.71 226.43L441.63 221.74M439.34 226.82L430.95 226.82M430.95 226.82L426.42 233.87M431.67 228.48L428.22 233.84M426.42 233.87L430.11 241.09M430.11 241.09L438.5 241.6M438.5 241.6L442.7 234.88M442.7 234.88L439.34 226.82M438.5 241.6L434.81 247.01M442.7 234.88L451.09 235.22M451.09 235.22L455.29 242.27M455.29 242.27L451.09 248.98M451.09 248.98L442.7 248.98M442.7 248.98L438.5 241.6M442.7 248.98L444.72 254.46M451.09 248.98L446.95 254.76M455.29 228.5L463.68 228.5M463.68 228.5L467.88 235.55M467.88 235.55L463.68 242.77M463.68 242.77L455.29 242.27M467.88 235.55L476.78 236.56M476.78 236.56L480.47 243.95M480.47 243.95L474.59 250.32M476.78 236.56L472.55 242.96M476.78 236.56L480.8 229.34M480.8 229.34L489.2 229.34M493.56 222.12L502.29 222.12M502.29 222.12L506.49 216.42M502.29 222.12L506.49 229.84M501.48 223.77L504.67 229.63M506.49 229.84L515.39 230.52M506.49 229.84L501.96 236.9M501.28 237.22L503.93 242.63M502.63 236.57L505.27 241.97M501.96 236.9L495.45 236.65M491.93 234.45L489.2 229.34" stroke="#1a1a1a" stroke-width="0.68" fill="none" stroke-linecap="round"/><path d="M451.09 235.22L455.29 228.5" stroke="#1a1a1a" stroke-width="1.36" fill="none" stroke-linecap="round"/><path d="M442.7 234.88L447.7 228.67L446.09 227.66ZM467.88 235.55L472.86 229.87L471.29 228.81ZM463.68 242.77L474.05 251.11L475.13 249.54ZM480.8 229.34L478.32 221.08L476.57 221.82ZM489.2 229.34L494.38 222.61L492.75 221.63Z" fill="#1a1a1a"/><text x="443.54" y="221.76" font-size="4.6" text-anchor="middle" fill="#e23f82">O</text><text x="431.76" y="250.64" font-size="4.6" text-anchor="start" fill="#e23f82" transform="rotate(15 433.47 248.98)">OH</text><text x="445.55" y="258.36" font-size="4.6" text-anchor="middle" fill="#e23f82">O</text><text x="469.53" y="246.61" font-size="4.6" text-anchor="start" fill="#e23f82" transform="rotate(10 471.24 244.95)">OH</text><text x="505.65" y="246.11" font-size="4.6" text-anchor="middle" fill="#e23f82">O</text><text x="493.06" y="238.22" font-size="4.6" text-anchor="middle" fill="#e23f82">O</text></g>
<g font-family="'Liberation Sans', Arial, sans-serif"><path d="M548.4 251.34L547.19 245.29M546.93 251.63L545.72 245.59M547.66 251.49L554.58 253.25M557.58 256.13L559.41 262.23M552.7 268.27L543.8 266.09M543.8 266.09L538.09 272.3M543.8 266.09L541.45 257.7M544.96 264.68L543.18 258.3M541.45 257.7L533.06 255.18M541.45 257.7L547.66 251.49M559.41 262.23L567.81 264.92M567.81 264.92L570.32 273.98M567.81 264.92L574.52 258.54M572 249.81L579.05 243.09M589.63 254.84L582.92 261.9M582.92 261.9L574.52 258.54M582.92 261.9L587.11 269.45M587.11 269.45L595.51 270.29M599.7 264.41L598.02 256.02M598.02 256.02L589.63 254.84M599.7 264.41L609.77 267.77M609.77 267.77L615.65 261.06M615.65 261.06L618.86 257.05M615.65 261.06L612.63 252.16M612.63 252.16L604.74 250.48M604.74 250.48L598.02 256.02M612.63 252.16L611.45 246.61M604.74 250.48L609.26 245.96M609.77 267.77L611.96 277M611.44 276.46L606.46 281.19M612.47 277.55L607.49 282.28M611.96 277L620.69 278.68M620.69 278.68L626.56 271.97M620.26 276.89L624.73 271.79M626.56 271.97L625.39 263.57M625.39 263.57L615.65 261.06" stroke="#1a1a1a" stroke-width="0.68" fill="none" stroke-linecap="round"/><path d="M574.52 258.54L572 249.81M595.51 270.29L599.7 264.41" stroke="#1a1a1a" stroke-width="1.36" fill="none" stroke-linecap="round"/><path d="M559.41 262.23L552.06 267.57L553.33 268.98ZM579.05 243.09L588.92 255.48L590.34 254.21ZM582.92 261.9L576.4 266.57L577.68 267.97ZM609.77 267.77L602.41 273.28L603.7 274.68Z" fill="#1a1a1a"/><text x="545.98" y="244.75" font-size="4.6" text-anchor="middle" fill="#e23f82">O</text><text x="556.9" y="255.49" font-size="4.6" text-anchor="middle" fill="#e23f82">O</text><text x="622.05" y="256.84" font-size="4.6" text-anchor="end" fill="#e23f82" transform="rotate(50 620.35 255.18)">HO</text><text x="610.95" y="245.92" font-size="4.6" text-anchor="middle" fill="#e23f82">O</text><text x="605.24" y="285.04" font-size="4.6" text-anchor="middle" fill="#e23f82">O</text></g>
<path d="M34.4 335.8L34.9 337.75L35.4 339.28L35.9 340.12L36.4 340.09L36.9 339.54L37.4 338.8L37.9 338.19L38.4 338.02L38.9 338.63L39.4 339.67L39.9 340.6L40.4 340.89L40.9 340.57L41.4 340L41.9 339.43L42.4 339.11L42.9 339.39L43.4 340.35L43.9 341.61L44.4 342.79L44.9 343.5L45.4 343.83L45.9 344.13L46.4 344.36L46.9 344.53L47.4 344.6L47.9 344.18L48.4 342.85L48.9 341.24L49.4 340.04L49.9 339.88L50.4 340.58L50.9 341.7L51.4 342.81L51.9 343.5L52.4 343.82L52.9 344.11L53.4 344.36L53.9 344.56L54.4 344.71L54.9 344.79L55.4 344.78L55.9 344.59L56.4 344.22L56.9 343.69L57.4 343.03L57.9 342.28L58.4 341.47L58.9 340.37L59.4 338.65L59.9 336.63L60.4 334.64L60.9 332.91L61.4 330.98L61.9 329.31L62.4 328.6L62.9 329.55L63.4 331.65L63.9 333.75L64.4 334.7L64.9 334.03L65.4 332.68L65.9 331.62L66.4 331.85L66.9 333.56L67.4 335.77L67.9 337.57L68.4 339.35L68.9 340.97L69.4 342L69.9 342.56L70.4 343.05L70.9 343.47L71.4 343.81L71.9 344.05L72.4 344.18L72.9 344.19L73.4 344.07L73.9 343.86L74.4 343.61L74.9 343.35L75.4 343.14L75.9 343.01L76.4 342.97L76.9 342.93L77.4 342.9L77.9 342.87L78.4 342.84L78.9 342.83L79.4 342.81L79.9 342.8L80.4 342.8L80.9 342.92L81.4 343.22L81.9 343.62L82.4 344.03L82.9 344.38L83.4 344.58L83.9 344.58L84.4 344.47L84.9 344.3L85.4 344.09L85.9 343.88L86.4 343.69L86.9 343.55L87.4 343.5L87.9 343.69L88.4 344.14L88.9 344.72L89.4 345.26L89.9 345.63L90.4 345.69L90.9 345.63L91.4 345.5L91.9 345.33L92.4 345.15L92.9 344.97L93.4 344.8L93.9 344.67L94.4 344.61L94.9 344.62L95.4 344.73L95.9 344.92L96.4 345.17L96.9 345.46L97.4 345.76L97.9 346.06L98.4 346.34L98.9 346.56L99.4 346.72L99.9 346.8L100.4 346.77L100.9 346.67L101.4 346.51L101.9 346.3L102.4 346.07L102.9 345.83L103.4 345.59L103.9 345.37L104.4 345.19L104.9 345.06L105.4 345L105.9 345.02L106.4 345.07L106.9 345.17L107.4 345.29L107.9 345.44L108.4 345.6L108.9 345.76L109.4 345.91L109.9 346.06L110.4 346.19L110.9 346.28L111.4 346.36L111.9 346.43L112.4 346.51L112.9 346.58L113.4 346.65L113.9 346.72L114.4 346.78L114.9 346.84L115.4 346.89L115.9 346.93L116.4 346.97L116.9 346.99L117.4 347L117.9 347L118.4 346.98L118.9 346.94L119.4 346.89L119.9 346.82L120.4 346.75L120.9 346.67L121.4 346.58L121.9 346.49L122.4 346.4L122.9 346.31L123.4 346.22L123.9 346.14L124.4 346.07L124.9 345.99L125.4 345.9L125.9 345.8L126.4 345.7L126.9 345.6L127.4 345.51L127.9 345.44L128.4 345.37L128.9 345.33L129.4 345.3L129.9 345.31L130.4 345.36L130.9 345.44L131.4 345.55L131.9 345.68L132.4 345.81L132.9 345.95L133.4 346.07L133.9 346.18L134.4 346.26L134.9 346.3L135.4 346.3L135.9 346.29L136.4 346.28L136.9 346.25L137.4 346.22L137.9 346.17L138.4 346.12L138.9 346.05L139.4 345.96L139.9 345.87L140.4 345.75L140.9 345.11L141.4 342.28L141.9 337.94L142.4 332.06L142.9 320.63L143.4 313.9L143.9 314.81L144.4 316.98L144.9 320.28L145.4 325.82L145.9 331.55L146.4 338.33L146.9 343.53L147.4 344.46L147.9 343.12L148.4 341L148.9 338.88L149.4 337.54L149.9 337.74L150.4 339.42L150.9 341.75L151.4 343.83L151.9 344.93L152.4 345.73L152.9 346.46L153.4 347.07L153.9 347.54L154.4 347.82L154.9 347.9L155.4 347.79L155.9 347.56L156.4 347.23L156.9 346.82L157.4 346.37L157.9 345.89L158.4 345.32L158.9 344.4L159.4 343.36L159.9 342.47L160.4 342.01L160.9 342.24L161.4 342.95L161.9 343.66L162.4 343.88L162.9 343.36L163.4 342.54L163.9 342.02L164.4 342.22L164.9 342.98L165.4 344.07L165.9 345.22L166.4 346.22L166.9 346.8L167.4 347.09L167.9 347.36L168.4 347.6L168.9 347.82L169.4 348L169.9 348.14L170.4 348.24L170.9 348.29L171.4 348.29L171.9 348.22L172.4 348.08L172.9 347.89L173.4 347.66L173.9 347.4L174.4 346.91L174.9 346.11L175.4 345.2L175.9 344.41L176.4 343.95L176.9 344.03L177.4 344.69L177.9 345.65L178.4 346.61L178.9 347.27L179.4 347.35L179.9 346.82L180.4 345.9L180.9 344.79L181.4 343.7L181.9 342.84L182.4 342.41L182.9 342.73L183.4 343.79L183.9 345.14L184.4 346.31L184.9 346.8L185.4 346.78L185.9 346.71L186.4 346.62L186.9 346.52L187.4 346.42L187.9 346.35L188.4 346.3L188.9 346.36L189.4 346.7L189.9 347.23L190.4 347.83L190.9 348.41L191.4 348.83L191.9 349L192.4 348.82L192.9 348.28L193.4 347.42L193.9 346.25L194.4 343.64L194.9 336.88L195.4 330L195.9 323.85L196.4 318.06L196.9 315.5L197.4 318.15L197.9 324.02L198.4 330L198.9 336.37L199.4 341.76L199.9 342.19L200.4 341.11L200.9 339.55L201.4 338L201.9 336.15L202.4 334.25L202.9 333.64L203.4 334.89L203.9 336.92L204.4 338.62L204.9 340.25L205.4 341.82L205.9 343.11L206.4 344.02L206.9 344.88L207.4 345.67L207.9 346.36L208.4 346.91L208.9 347.27L209.4 347.4L209.9 347.26L210.4 346.85L210.9 346.14L211.4 345.13L211.9 343.8L212.4 338.09L212.9 324.82L213.4 313.03L213.9 302.09L214.4 292.45L214.9 288.3L215.4 292.72L215.9 302.67L216.4 313.25L216.9 322.48L217.4 331.46L217.9 335.95L218.4 338.69L218.9 340.94L219.4 342.74L219.9 344.12L220.4 345.13L220.9 345.82L221.4 346.38L221.9 346.9L222.4 347.38L222.9 347.83L223.4 348.22L223.9 348.58L224.4 348.88L224.9 349.13L225.4 349.33L225.9 349.48L226.4 349.57L226.9 349.6L227.4 349.59L227.9 349.58L228.4 349.55L228.9 349.52L229.4 349.48L229.9 349.43L230.4 349.38L230.9 349.32L231.4 349.26L231.9 349.2L232.4 349.13L232.9 349.07L233.4 349.01L233.9 348.94L234.4 348.86L234.9 348.76L235.4 348.65L235.9 348.54L236.4 348.45L236.9 348.37L237.4 348.32L237.9 348.3L238.4 348.34L238.9 348.44L239.4 348.59L239.9 348.8L240.4 349.03L240.9 349.3L241.4 349.58L241.9 349.86L242.4 350.15L242.9 350.41L243.4 350.66L243.9 350.87L244.4 351.04L244.9 351.15L245.4 351.2L245.9 351.15L246.4 350.95L246.9 350.64L247.4 350.24L247.9 349.78L248.4 349.29L248.9 348.8L249.4 348.33L249.9 347.93L250.4 347.62L250.9 347.42L251.4 347.32L251.9 347.23L252.4 347.15L252.9 347.09L253.4 347.04L253.9 347.01L254.4 347L254.9 347.1L255.4 347.31L255.9 347.62L256.4 348.01L256.9 348.44L257.4 348.91L257.9 349.39L258.4 349.85L258.9 350.28L259.4 350.65L259.9 350.94L260.4 351.13L260.9 351.2L261.4 351.17L261.9 351.08L262.4 350.95L262.9 350.78L263.4 350.59L263.9 350.39L264.4 350.18L264.9 349.99L265.4 349.82L265.9 349.68L266.4 349.58L266.9 349.5L267.4 349.43L267.9 349.35L268.4 349.28L268.9 349.21L269.4 349.15L269.9 349.1L270.4 349.05L270.9 349.02L271.4 349L271.9 349L272.4 349.05L272.9 349.16L273.4 349.31L273.9 349.49L274.4 349.69L274.9 349.89L275.4 350.09L275.9 350.26L276.4 350.39L276.9 350.48L277.4 350.5L277.9 350.38L278.4 350.12L278.9 349.74L279.4 349.26L279.9 348.72L280.4 348.14L280.9 347.4L281.4 346.1L281.9 344.51L282.4 342.95L282.9 341.77L283.4 341.3L283.9 341.82L284.4 343.13L284.9 344.81L285.4 346.48L285.9 347.73L286.4 348.5L286.9 349.23L287.4 349.92L287.9 350.57L288.4 351.14L288.9 351.62L289.4 351.98L289.9 352.22L290.4 352.3L290.9 352.01L291.4 351.19L291.9 349.94L292.4 348.35L292.9 346.49L293.4 343.88L293.9 339.25L294.4 335L294.9 331.6L295.4 329.38L295.9 330.23L296.4 333.06L296.9 336.56L297.4 342.08L297.9 346.96L298.4 348.64L298.9 349.74L299.4 350.65L299.9 351.36L300.4 351.88L300.9 352.19L301.4 352.3L301.9 352.27L302.4 352.17L302.9 352.01L303.4 351.78L303.9 351.51L304.4 351.18L304.9 350.8L305.4 350.37L305.9 349.89L306.4 348.93L306.9 347.43L307.4 345.55L307.9 343.45L308.4 341.3L308.9 338.83L309.4 335.91L309.9 332.85L310.4 330L310.9 326.88L311.4 323.86L311.9 322.5L312.4 324.41L312.9 327.52L313.4 327.06L313.9 323.43L314.4 314.98L314.9 298.61L315.4 274.19L315.9 247.3L316.4 228.36L316.7 225.2L316.9 226.32L317.4 235.45L317.9 252.29L318.4 272.45L318.9 292.04L319.4 308.14L319.9 319.78L320.4 327.26L320.9 331.63L321.4 333.88L321.9 335.14L322.4 336.11L322.9 337.08L323.4 337.96L323.9 338.78L324.4 339.56L324.9 340.32L325.4 341.11L325.9 341.94L326.4 342.9L326.9 344.11L327.4 345.43L327.9 346.72L328.4 347.83L328.9 348.61L329.4 348.9L329.9 348.16L330.4 346.28L330.9 343.76L331.4 341.1L331.9 338.36L332.4 334.61L332.9 330.74L333.4 327.86L333.9 327.07L334.4 329.32L334.9 333.57L335.4 338.26L335.9 341.85L336.4 343.87L336.9 345.76L337.4 347.5L337.9 348.98L338.4 350.12L338.9 350.82L339.4 351L339.9 350.98L340.4 350.94L340.9 350.88L341.4 350.8L341.9 350.7L342.4 350.59L342.9 350.47L343.4 350.35L343.9 350.21L344.4 350.08L344.9 349.94L345.4 349.75L345.9 349.5L346.4 349.21L346.9 348.88L347.4 348.54L347.9 348.2L348.4 347.86L348.9 347.54L349.4 347.26L349.9 347.02L350.4 346.84L350.9 346.73L351.4 346.7L351.9 346.79L352.4 346.98L352.9 347.24L353.4 347.54L353.9 347.84L354.4 348.12L354.9 348.34L355.4 348.48L355.9 348.46L356.4 347.95L356.9 346.86L357.4 345.17L357.9 342.43L358.4 332.45L358.9 312.05L359.4 276.84L359.9 227.68L360.4 174.37L360.9 134.24L361.3 123L361.4 123.54L361.9 137.18L362.4 167.15L362.9 206.4L363.4 246.44L363.9 281.2L364.4 307.34L364.9 324.8L365.4 335.11L365.9 340.63L366.4 342.21L366.9 343.23L367.4 343.92L367.9 344.5L368.4 345.08L368.9 345.65L369.4 346.19L369.9 346.68L370.4 347.1L370.9 347.43L371.4 347.67L371.9 347.79L372.4 347.73L372.9 347.39L373.4 346.84L373.9 346.21L374.4 345.62L374.9 345.17L375.4 345L375.9 345.14L376.4 345.51L376.9 346.05L377.4 346.68L377.9 347.35L378.4 347.97L378.9 348.48L379.4 348.81L379.9 348.9L380.4 348.88L380.9 348.84L381.4 348.78L381.9 348.71L382.4 348.65L382.9 348.58L383.4 348.53L383.9 348.51L384.4 348.52L384.9 348.68L385.4 348.98L385.9 349.36L386.4 349.79L386.9 350.22L387.4 350.59L387.9 350.87L388.4 351L388.9 350.72L389.4 349.62L389.9 347.78L390.4 345.27L390.9 342.19L391.4 337.81L391.9 328.38L392.4 320.16L392.9 315L393.4 319.27L393.9 326.37L394.4 335.05L394.9 342.84L395.4 345.99L395.9 348.08L396.4 349.64L396.9 350.64L397.4 351.04L397.9 351.22L398.4 351.37L398.9 351.5L399.4 351.61L399.9 351.7L400.4 351.78L400.9 351.85L401.4 351.91L401.9 351.96L402.4 352.01L402.9 352.07L403.4 352.13L403.9 352.2L404.4 352.28L404.9 352.36L405.4 352.44L405.9 352.53L406.4 352.61L406.9 352.7L407.4 352.78L407.9 352.86L408.4 352.94L408.9 353.01L409.4 353.07L409.9 353.13L410.4 353.19L410.9 353.23L411.4 353.26L411.9 353.29L412.4 353.3L412.9 353.28L413.4 353.16L413.9 352.96L414.4 352.68L414.9 352.35L415.4 351.97L415.9 351.57L416.4 351.16L416.9 350.69L417.4 349.97L417.9 349.14L418.4 348.39L418.9 347.89L419.4 347.85L419.9 348.37L420.4 349.24L420.9 350.23L421.4 351.08L421.9 351.56L422.4 351.88L422.9 352.18L423.4 352.47L423.9 352.74L424.4 353L424.9 353.24L425.4 353.46L425.9 353.66L426.4 353.85L426.9 354.01L427.4 354.15L427.9 354.27L428.4 354.36L428.9 354.44L429.4 354.48L429.9 354.5L430.4 354.48L430.9 354.39L431.4 354.26L431.9 354.08L432.4 353.88L432.9 353.67L433.4 353.45L433.9 353.23L434.4 353.04L434.9 352.88L435.4 352.77L435.9 352.71L436.4 352.72L436.9 352.81L437.4 352.99L437.9 353.21L438.4 353.49L438.9 353.79L439.4 354.1L439.9 354.41L440.4 354.71L440.9 354.97L441.4 355.18L441.9 355.33L442.4 355.41L442.9 355.46L443.4 355.5L443.9 355.55L444.4 355.59L444.9 355.63L445.4 355.66L445.9 355.7L446.4 355.73L446.9 355.76L447.4 355.79L447.9 355.82L448.4 355.85L448.9 355.87L449.4 355.89L449.9 355.91L450.4 355.93L450.9 355.95L451.4 355.96L451.9 355.97L452.4 355.98L452.9 355.99L453.4 355.99L453.9 356L454.4 356L454.9 356L455.4 356L455.9 356L456.4 355.99L456.9 355.99L457.4 355.98L457.9 355.97L458.4 355.96L458.9 355.94L459.4 355.93L459.9 355.91L460.4 355.89L460.9 355.86L461.4 355.84L461.9 355.81L462.4 355.77L462.9 355.74L463.4 355.7L463.9 355.66L464.4 355.61L464.9 355.56L465.4 355.5L465.9 355.44L466.4 355.38L466.9 355.31L467.4 355.24L467.9 355.16L468.4 355.06L468.9 354.4L469.4 353.28L469.9 352.18L470.4 351.25L470.9 350.32L471.4 349.9L471.9 350.44L472.4 351.55L472.9 352.81L473.4 354.41L473.9 355.14L474.4 355.35L474.9 355.53L475.4 355.7L475.9 355.84L476.4 355.98L476.9 356.1L477.4 356.2L477.9 356.29L478.4 356.37L478.9 356.43L479.4 356.48L479.9 356.52L480.4 356.56L480.9 356.58L481.4 356.59L481.9 356.6L482.4 356.6L482.9 356.59L483.4 356.58L483.9 356.57L484.4 356.55L484.9 356.52L485.4 356.49L485.9 356.46L486.4 356.43L486.9 356.39L487.4 356.35L487.9 356.31L488.4 356.27L488.9 356.22L489.4 356.18L489.9 356.13L490.4 356.08L490.9 356.04L491.4 355.99L491.9 355.95L492.4 355.91L492.9 355.87L493.4 355.83L493.9 355.78L494.4 355.73L494.9 355.66L495.4 355.59L495.9 355.49L496.4 355.38L496.9 355.25L497.4 355.1L497.9 354.48L498.4 353.36L498.9 352.3L499.4 351.14L499.9 350.5L500.4 351.03L500.9 352.1L501.4 353.12L501.9 354.27L502.4 355.1L502.9 355.57L503.4 356L503.9 356.41L504.4 356.78L504.9 357.11L505.4 357.4L505.9 357.65L506.4 357.86L506.9 358.02L507.4 358.13L507.9 358.19L508.4 358.17L508.9 357.84L509.4 357.27L509.9 356.58L510.4 355.89L510.9 355.32L511.4 354.99L511.9 354.71L512.4 354.45L512.9 354.2L513.4 353.99L513.9 353.81L514.4 353.68L514.9 353.61L515.4 353.62L515.9 353.83L516.4 354.19L516.9 354.65L517.4 355.14L517.9 355.57L518.4 355.88L518.9 356L519.4 355.92L519.9 355.71L520.4 355.4L520.9 355.03L521.4 354.64L521.9 354.27L522.4 353.95L522.9 353.71L523.4 353.6L523.9 353.64L524.4 353.81L524.9 354.07L525.4 354.38L525.9 354.72L526.4 355.05L526.9 355.35L527.4 355.57L527.9 355.69L528.4 355.7L528.9 355.67L529.4 355.61L529.9 355.54L530.4 355.45L530.9 355.35L531.4 355.23L531.9 355.1L532.4 354.97L532.9 354.84L533.4 354.71L533.9 354.58L534.4 354.45L534.9 354.28L535.4 354.08L535.9 353.87L536.4 353.65L536.9 353.44L537.4 353.26L537.9 353.11L538.4 353.02L538.9 353L539.4 353.03L539.9 353.09L540.4 353.19L540.9 353.31L541.4 353.46L541.9 353.62L542.4 353.79L542.9 353.97L543.4 354.16L543.9 354.35L544.4 354.52L544.9 354.69L545.4 354.84L545.9 354.98L546.4 355.08L546.9 355.17L547.4 355.25L547.9 355.33L548.4 355.41L548.9 355.49L549.4 355.56L549.9 355.64L550.4 355.71L550.9 355.77L551.4 355.84L551.9 355.9L552.4 355.97L552.9 356.03L553.4 356.08L553.9 356.14L554.4 356.2L554.9 356.25L555.4 356.3L555.9 356.35L556.4 356.4L556.9 356.44L557.4 356.48L557.9 356.53L558.4 356.57L558.9 356.61L559.4 356.65L559.9 356.69L560.4 356.73L560.9 356.77L561.4 356.81L561.9 356.85L562.4 356.89L562.9 356.93L563.4 356.96L563.9 357L564.4 357.03L564.9 357.07L565.4 357.1L565.9 357.13L566.4 357.16L566.9 357.19L567.4 357.21L567.9 357.23L568.4 357.25L568.9 357.27L569.4 357.28L569.9 357.29L570.4 357.3L570.9 357.3L571.4 357.3L571.9 357.29L572.4 357.27L572.9 357.24L573.4 357.21L573.9 357.18L574.4 357.14L574.9 357.1L575.4 357.06L575.9 357.02L576.4 356.98L576.9 356.94L577.4 356.9L577.9 356.87L578.4 356.84L578.9 356.82L579.4 356.81L579.9 356.8L580.4 356.81L580.9 356.84L581.4 356.88L581.9 356.95L582.4 357.03L582.9 357.12L583.4 357.22L583.9 357.32L584.4 357.43L584.9 357.54L585.4 357.66L585.9 357.76L586.4 357.86L586.9 357.96L587.4 358.04L587.9 358.1L588.4 358.16L588.9 358.19L589.4 358.2L589.9 358.2L590.4 358.19L590.9 358.17L591.4 358.15L591.9 358.12L592.4 358.09L592.9 358.06L593.4 358.02L593.9 357.99L594.4 357.95L594.9 357.92L595.4 357.89L595.9 357.86L596.4 357.84L596.9 357.82L597.4 357.81L597.9 357.8L598.4 357.8L598.9 357.82L599.4 357.86L599.9 357.9L600.4 357.95L600.9 358.01L601.4 358.08L601.9 358.15L602.4 358.22L602.9 358.3L603.4 358.38L603.9 358.45L604.4 358.52L604.9 358.59L605.4 358.65L605.9 358.7L606.4 358.74L606.9 358.78L607.4 358.8L607.9 358.8L608.4 358.8L608.9 358.79L609.4 358.79L609.9 358.78L610.4 358.77L610.9 358.76L611.4 358.74L611.9 358.73L612.4 358.71L612.9 358.7L613.4 358.69L613.9 358.67L614.4 358.66L614.9 358.64L615.4 358.63L615.9 358.62L616.4 358.61L616.9 358.61L617.4 358.6L617.9 358.6L618.4 358.6L618.9 358.6L619.4 358.61L619.9 358.62L620.4 358.63L620.9 358.65L621.4 358.67L621.9 358.69L622.4 358.71L622.9 358.74L623.4 358.76L623.9 358.79L624.4 358.83L624.9 358.86L625.4 358.9L625.9 358.94L626.4 358.98L626.9 359.02L627.4 359.06L627.9 359.11L628.4 359.15L628.9 359.2L629.4 359.25L629.9 359.3L630.4 359.36" stroke="#e8356e" stroke-width="1.0" fill="none" stroke-linejoin="round" transform="translate(-0.3 0.1)"/>
<path d="M34.4 335.8L34.9 337.75L35.4 339.28L35.9 340.12L36.4 340.09L36.9 339.54L37.4 338.8L37.9 338.19L38.4 338.02L38.9 338.63L39.4 339.67L39.9 340.6L40.4 340.89L40.9 340.57L41.4 340L41.9 339.43L42.4 339.11L42.9 339.39L43.4 340.35L43.9 341.61L44.4 342.79L44.9 343.5L45.4 343.83L45.9 344.13L46.4 344.36L46.9 344.53L47.4 344.6L47.9 344.18L48.4 342.85L48.9 341.24L49.4 340.04L49.9 339.88L50.4 340.58L50.9 341.7L51.4 342.81L51.9 343.5L52.4 343.82L52.9 344.11L53.4 344.36L53.9 344.56L54.4 344.71L54.9 344.79L55.4 344.78L55.9 344.59L56.4 344.22L56.9 343.69L57.4 343.03L57.9 342.28L58.4 341.47L58.9 340.37L59.4 338.65L59.9 336.63L60.4 334.64L60.9 332.91L61.4 330.98L61.9 329.31L62.4 328.6L62.9 329.55L63.4 331.65L63.9 333.75L64.4 334.7L64.9 334.03L65.4 332.68L65.9 331.62L66.4 331.85L66.9 333.56L67.4 335.77L67.9 337.57L68.4 339.35L68.9 340.97L69.4 342L69.9 342.56L70.4 343.05L70.9 343.47L71.4 343.81L71.9 344.05L72.4 344.18L72.9 344.19L73.4 344.07L73.9 343.86L74.4 343.61L74.9 343.35L75.4 343.14L75.9 343.01L76.4 342.97L76.9 342.93L77.4 342.9L77.9 342.87L78.4 342.84L78.9 342.83L79.4 342.81L79.9 342.8L80.4 342.8L80.9 342.92L81.4 343.22L81.9 343.62L82.4 344.03L82.9 344.38L83.4 344.58L83.9 344.58L84.4 344.47L84.9 344.3L85.4 344.09L85.9 343.88L86.4 343.69L86.9 343.55L87.4 343.5L87.9 343.69L88.4 344.14L88.9 344.72L89.4 345.26L89.9 345.63L90.4 345.69L90.9 345.63L91.4 345.5L91.9 345.33L92.4 345.15L92.9 344.97L93.4 344.8L93.9 344.67L94.4 344.61L94.9 344.62L95.4 344.73L95.9 344.92L96.4 345.17L96.9 345.46L97.4 345.76L97.9 346.06L98.4 346.34L98.9 346.56L99.4 346.72L99.9 346.8L100.4 346.77L100.9 346.67L101.4 346.51L101.9 346.3L102.4 346.07L102.9 345.83L103.4 345.59L103.9 345.37L104.4 345.19L104.9 345.06L105.4 345L105.9 345.02L106.4 345.07L106.9 345.17L107.4 345.29L107.9 345.44L108.4 345.6L108.9 345.76L109.4 345.91L109.9 346.06L110.4 346.19L110.9 346.28L111.4 346.36L111.9 346.43L112.4 346.51L112.9 346.58L113.4 346.65L113.9 346.72L114.4 346.78L114.9 346.84L115.4 346.89L115.9 346.93L116.4 346.97L116.9 346.99L117.4 347L117.9 347L118.4 346.98L118.9 346.94L119.4 346.89L119.9 346.82L120.4 346.75L120.9 346.67L121.4 346.58L121.9 346.49L122.4 346.4L122.9 346.31L123.4 346.22L123.9 346.14L124.4 346.07L124.9 345.99L125.4 345.9L125.9 345.8L126.4 345.7L126.9 345.6L127.4 345.51L127.9 345.44L128.4 345.37L128.9 345.33L129.4 345.3L129.9 345.31L130.4 345.36L130.9 345.44L131.4 345.55L131.9 345.68L132.4 345.81L132.9 345.95L133.4 346.07L133.9 346.18L134.4 346.26L134.9 346.3L135.4 346.3L135.9 346.29L136.4 346.28L136.9 346.25L137.4 346.22L137.9 346.17L138.4 346.12L138.9 346.05L139.4 345.96L139.9 345.87L140.4 345.75L140.9 345.11L141.4 342.28L141.9 337.94L142.4 332.06L142.9 320.63L143.4 313.9L143.9 314.81L144.4 316.98L144.9 320.28L145.4 325.82L145.9 331.55L146.4 338.33L146.9 343.53L147.4 344.46L147.9 343.12L148.4 341L148.9 338.88L149.4 337.54L149.9 337.74L150.4 339.42L150.9 341.75L151.4 343.83L151.9 344.93L152.4 345.73L152.9 346.46L153.4 347.07L153.9 347.54L154.4 347.82L154.9 347.9L155.4 347.79L155.9 347.56L156.4 347.23L156.9 346.82L157.4 346.37L157.9 345.89L158.4 345.32L158.9 344.4L159.4 343.36L159.9 342.47L160.4 342.01L160.9 342.24L161.4 342.95L161.9 343.66L162.4 343.88L162.9 343.36L163.4 342.54L163.9 342.02L164.4 342.22L164.9 342.98L165.4 344.07L165.9 345.22L166.4 346.22L166.9 346.8L167.4 347.09L167.9 347.36L168.4 347.6L168.9 347.82L169.4 348L169.9 348.14L170.4 348.24L170.9 348.29L171.4 348.29L171.9 348.22L172.4 348.08L172.9 347.89L173.4 347.66L173.9 347.4L174.4 346.91L174.9 346.11L175.4 345.2L175.9 344.41L176.4 343.95L176.9 344.03L177.4 344.69L177.9 345.65L178.4 346.61L178.9 347.27L179.4 347.35L179.9 346.82L180.4 345.9L180.9 344.79L181.4 343.7L181.9 342.84L182.4 342.41L182.9 342.73L183.4 343.79L183.9 345.14L184.4 346.31L184.9 346.8L185.4 346.78L185.9 346.71L186.4 346.62L186.9 346.52L187.4 346.42L187.9 346.35L188.4 346.3L188.9 346.36L189.4 346.7L189.9 347.23L190.4 347.83L190.9 348.41L191.4 348.83L191.9 349L192.4 348.82L192.9 348.28L193.4 347.42L193.9 346.25L194.4 343.64L194.9 336.88L195.4 330L195.9 323.85L196.4 318.06L196.9 315.5L197.4 318.15L197.9 324.02L198.4 330L198.9 336.37L199.4 341.76L199.9 342.19L200.4 341.11L200.9 339.55L201.4 338L201.9 336.15L202.4 334.25L202.9 333.64L203.4 334.89L203.9 336.92L204.4 338.62L204.9 340.25L205.4 341.82L205.9 343.11L206.4 344.02L206.9 344.88L207.4 345.67L207.9 346.36L208.4 346.91L208.9 347.27L209.4 347.4L209.9 347.26L210.4 346.85L210.9 346.14L211.4 345.13L211.9 343.8L212.4 338.09L212.9 324.82L213.4 313.03L213.9 302.09L214.4 292.45L214.9 288.3L215.4 292.72L215.9 302.67L216.4 313.25L216.9 322.48L217.4 331.46L217.9 335.95L218.4 338.69L218.9 340.94L219.4 342.74L219.9 344.12L220.4 345.13L220.9 345.82L221.4 346.38L221.9 346.9L222.4 347.38L222.9 347.83L223.4 348.22L223.9 348.58L224.4 348.88L224.9 349.13L225.4 349.33L225.9 349.48L226.4 349.57L226.9 349.6L227.4 349.59L227.9 349.58L228.4 349.55L228.9 349.52L229.4 349.48L229.9 349.43L230.4 349.38L230.9 349.32L231.4 349.26L231.9 349.2L232.4 349.13L232.9 349.07L233.4 349.01L233.9 348.94L234.4 348.86L234.9 348.76L235.4 348.65L235.9 348.54L236.4 348.45L236.9 348.37L237.4 348.32L237.9 348.3L238.4 348.34L238.9 348.44L239.4 348.59L239.9 348.8L240.4 349.03L240.9 349.3L241.4 349.58L241.9 349.86L242.4 350.15L242.9 350.41L243.4 350.66L243.9 350.87L244.4 351.04L244.9 351.15L245.4 351.2L245.9 351.15L246.4 350.95L246.9 350.64L247.4 350.24L247.9 349.78L248.4 349.29L248.9 348.8L249.4 348.33L249.9 347.93L250.4 347.62L250.9 347.42L251.4 347.32L251.9 347.23L252.4 347.15L252.9 347.09L253.4 347.04L253.9 347.01L254.4 347L254.9 347.1L255.4 347.31L255.9 347.62L256.4 348.01L256.9 348.44L257.4 348.91L257.9 349.39L258.4 349.85L258.9 350.28L259.4 350.65L259.9 350.94L260.4 351.13L260.9 351.2L261.4 351.17L261.9 351.08L262.4 350.95L262.9 350.78L263.4 350.59L263.9 350.39L264.4 350.18L264.9 349.99L265.4 349.82L265.9 349.68L266.4 349.58L266.9 349.5L267.4 349.43L267.9 349.35L268.4 349.28L268.9 349.21L269.4 349.15L269.9 349.1L270.4 349.05L270.9 349.02L271.4 349L271.9 349L272.4 349.05L272.9 349.16L273.4 349.31L273.9 349.49L274.4 349.69L274.9 349.89L275.4 350.09L275.9 350.26L276.4 350.39L276.9 350.48L277.4 350.5L277.9 350.38L278.4 350.12L278.9 349.74L279.4 349.26L279.9 348.72L280.4 348.14L280.9 347.4L281.4 346.1L281.9 344.51L282.4 342.95L282.9 341.77L283.4 341.3L283.9 341.82L284.4 343.13L284.9 344.81L285.4 346.48L285.9 347.73L286.4 348.5L286.9 349.23L287.4 349.92L287.9 350.57L288.4 351.14L288.9 351.62L289.4 351.98L289.9 352.22L290.4 352.3L290.9 352.01L291.4 351.19L291.9 349.94L292.4 348.35L292.9 346.49L293.4 343.88L293.9 339.25L294.4 335L294.9 331.6L295.4 329.38L295.9 330.23L296.4 333.06L296.9 336.56L297.4 342.08L297.9 346.96L298.4 348.64L298.9 349.74L299.4 350.65L299.9 351.36L300.4 351.88L300.9 352.19L301.4 352.3L301.9 352.27L302.4 352.17L302.9 352.01L303.4 351.78L303.9 351.51L304.4 351.18L304.9 350.8L305.4 350.37L305.9 349.89L306.4 348.93L306.9 347.43L307.4 345.55L307.9 343.45L308.4 341.3L308.9 338.83L309.4 335.91L309.9 332.85L310.4 330L310.9 326.88L311.4 323.86L311.9 322.5L312.4 324.41L312.9 327.52L313.4 327.06L313.9 323.43L314.4 314.98L314.9 298.61L315.4 274.19L315.9 247.3L316.4 228.36L316.7 225.2L316.9 226.32L317.4 235.45L317.9 252.29L318.4 272.45L318.9 292.04L319.4 308.14L319.9 319.78L320.4 327.26L320.9 331.63L321.4 333.88L321.9 335.14L322.4 336.11L322.9 337.08L323.4 337.96L323.9 338.78L324.4 339.56L324.9 340.32L325.4 341.11L325.9 341.94L326.4 342.9L326.9 344.11L327.4 345.43L327.9 346.72L328.4 347.83L328.9 348.61L329.4 348.9L329.9 348.16L330.4 346.28L330.9 343.76L331.4 341.1L331.9 338.36L332.4 334.61L332.9 330.74L333.4 327.86L333.9 327.07L334.4 329.32L334.9 333.57L335.4 338.26L335.9 341.85L336.4 343.87L336.9 345.76L337.4 347.5L337.9 348.98L338.4 350.12L338.9 350.82L339.4 351L339.9 350.98L340.4 350.94L340.9 350.88L341.4 350.8L341.9 350.7L342.4 350.59L342.9 350.47L343.4 350.35L343.9 350.21L344.4 350.08L344.9 349.94L345.4 349.75L345.9 349.5L346.4 349.21L346.9 348.88L347.4 348.54L347.9 348.2L348.4 347.86L348.9 347.54L349.4 347.26L349.9 347.02L350.4 346.84L350.9 346.73L351.4 346.7L351.9 346.79L352.4 346.98L352.9 347.24L353.4 347.54L353.9 347.84L354.4 348.12L354.9 348.34L355.4 348.48L355.9 348.46L356.4 347.95L356.9 346.86L357.4 345.17L357.9 342.43L358.4 332.45L358.9 312.05L359.4 276.84L359.9 227.68L360.4 174.37L360.9 134.24L361.3 123L361.4 123.54L361.9 137.18L362.4 167.15L362.9 206.4L363.4 246.44L363.9 281.2L364.4 307.34L364.9 324.8L365.4 335.11L365.9 340.63L366.4 342.21L366.9 343.23L367.4 343.92L367.9 344.5L368.4 345.08L368.9 345.65L369.4 346.19L369.9 346.68L370.4 347.1L370.9 347.43L371.4 347.67L371.9 347.79L372.4 347.73L372.9 347.39L373.4 346.84L373.9 346.21L374.4 345.62L374.9 345.17L375.4 345L375.9 345.14L376.4 345.51L376.9 346.05L377.4 346.68L377.9 347.35L378.4 347.97L378.9 348.48L379.4 348.81L379.9 348.9L380.4 348.88L380.9 348.84L381.4 348.78L381.9 348.71L382.4 348.65L382.9 348.58L383.4 348.53L383.9 348.51L384.4 348.52L384.9 348.68L385.4 348.98L385.9 349.36L386.4 349.79L386.9 350.22L387.4 350.59L387.9 350.87L388.4 351L388.9 350.72L389.4 349.62L389.9 347.78L390.4 345.27L390.9 342.19L391.4 337.81L391.9 328.38L392.4 320.16L392.9 315L393.4 319.27L393.9 326.37L394.4 335.05L394.9 342.84L395.4 345.99L395.9 348.08L396.4 349.64L396.9 350.64L397.4 351.04L397.9 351.22L398.4 351.37L398.9 351.5L399.4 351.61L399.9 351.7L400.4 351.78L400.9 351.85L401.4 351.91L401.9 351.96L402.4 352.01L402.9 352.07L403.4 352.13L403.9 352.2L404.4 352.28L404.9 352.36L405.4 352.44L405.9 352.53L406.4 352.61L406.9 352.7L407.4 352.78L407.9 352.86L408.4 352.94L408.9 353.01L409.4 353.07L409.9 353.13L410.4 353.19L410.9 353.23L411.4 353.26L411.9 353.29L412.4 353.3L412.9 353.28L413.4 353.16L413.9 352.96L414.4 352.68L414.9 352.35L415.4 351.97L415.9 351.57L416.4 351.16L416.9 350.69L417.4 349.97L417.9 349.14L418.4 348.39L418.9 347.89L419.4 347.85L419.9 348.37L420.4 349.24L420.9 350.23L421.4 351.08L421.9 351.56L422.4 351.88L422.9 352.18L423.4 352.47L423.9 352.74L424.4 353L424.9 353.24L425.4 353.46L425.9 353.66L426.4 353.85L426.9 354.01L427.4 354.15L427.9 354.27L428.4 354.36L428.9 354.44L429.4 354.48L429.9 354.5L430.4 354.48L430.9 354.39L431.4 354.26L431.9 354.08L432.4 353.88L432.9 353.67L433.4 353.45L433.9 353.23L434.4 353.04L434.9 352.88L435.4 352.77L435.9 352.71L436.4 352.72L436.9 352.81L437.4 352.99L437.9 353.21L438.4 353.49L438.9 353.79L439.4 354.1L439.9 354.41L440.4 354.71L440.9 354.97L441.4 355.18L441.9 355.33L442.4 355.41L442.9 355.46L443.4 355.5L443.9 355.55L444.4 355.59L444.9 355.63L445.4 355.66L445.9 355.7L446.4 355.73L446.9 355.76L447.4 355.79L447.9 355.82L448.4 355.85L448.9 355.87L449.4 355.89L449.9 355.91L450.4 355.93L450.9 355.95L451.4 355.96L451.9 355.97L452.4 355.98L452.9 355.99L453.4 355.99L453.9 356L454.4 356L454.9 356L455.4 356L455.9 356L456.4 355.99L456.9 355.99L457.4 355.98L457.9 355.97L458.4 355.96L458.9 355.94L459.4 355.93L459.9 355.91L460.4 355.89L460.9 355.86L461.4 355.84L461.9 355.81L462.4 355.77L462.9 355.74L463.4 355.7L463.9 355.66L464.4 355.61L464.9 355.56L465.4 355.5L465.9 355.44L466.4 355.38L466.9 355.31L467.4 355.24L467.9 355.16L468.4 355.06L468.9 354.4L469.4 353.28L469.9 352.18L470.4 351.25L470.9 350.32L471.4 349.9L471.9 350.44L472.4 351.55L472.9 352.81L473.4 354.41L473.9 355.14L474.4 355.35L474.9 355.53L475.4 355.7L475.9 355.84L476.4 355.98L476.9 356.1L477.4 356.2L477.9 356.29L478.4 356.37L478.9 356.43L479.4 356.48L479.9 356.52L480.4 356.56L480.9 356.58L481.4 356.59L481.9 356.6L482.4 356.6L482.9 356.59L483.4 356.58L483.9 356.57L484.4 356.55L484.9 356.52L485.4 356.49L485.9 356.46L486.4 356.43L486.9 356.39L487.4 356.35L487.9 356.31L488.4 356.27L488.9 356.22L489.4 356.18L489.9 356.13L490.4 356.08L490.9 356.04L491.4 355.99L491.9 355.95L492.4 355.91L492.9 355.87L493.4 355.83L493.9 355.78L494.4 355.73L494.9 355.66L495.4 355.59L495.9 355.49L496.4 355.38L496.9 355.25L497.4 355.1L497.9 354.48L498.4 353.36L498.9 352.3L499.4 351.14L499.9 350.5L500.4 351.03L500.9 352.1L501.4 353.12L501.9 354.27L502.4 355.1L502.9 355.57L503.4 356L503.9 356.41L504.4 356.78L504.9 357.11L505.4 357.4L505.9 357.65L506.4 357.86L506.9 358.02L507.4 358.13L507.9 358.19L508.4 358.17L508.9 357.84L509.4 357.27L509.9 356.58L510.4 355.89L510.9 355.32L511.4 354.99L511.9 354.71L512.4 354.45L512.9 354.2L513.4 353.99L513.9 353.81L514.4 353.68L514.9 353.61L515.4 353.62L515.9 353.83L516.4 354.19L516.9 354.65L517.4 355.14L517.9 355.57L518.4 355.88L518.9 356L519.4 355.92L519.9 355.71L520.4 355.4L520.9 355.03L521.4 354.64L521.9 354.27L522.4 353.95L522.9 353.71L523.4 353.6L523.9 353.64L524.4 353.81L524.9 354.07L525.4 354.38L525.9 354.72L526.4 355.05L526.9 355.35L527.4 355.57L527.9 355.69L528.4 355.7L528.9 355.67L529.4 355.61L529.9 355.54L530.4 355.45L530.9 355.35L531.4 355.23L531.9 355.1L532.4 354.97L532.9 354.84L533.4 354.71L533.9 354.58L534.4 354.45L534.9 354.28L535.4 354.08L535.9 353.87L536.4 353.65L536.9 353.44L537.4 353.26L537.9 353.11L538.4 353.02L538.9 353L539.4 353.03L539.9 353.09L540.4 353.19L540.9 353.31L541.4 353.46L541.9 353.62L542.4 353.79L542.9 353.97L543.4 354.16L543.9 354.35L544.4 354.52L544.9 354.69L545.4 354.84L545.9 354.98L546.4 355.08L546.9 355.17L547.4 355.25L547.9 355.33L548.4 355.41L548.9 355.49L549.4 355.56L549.9 355.64L550.4 355.71L550.9 355.77L551.4 355.84L551.9 355.9L552.4 355.97L552.9 356.03L553.4 356.08L553.9 356.14L554.4 356.2L554.9 356.25L555.4 356.3L555.9 356.35L556.4 356.4L556.9 356.44L557.4 356.48L557.9 356.53L558.4 356.57L558.9 356.61L559.4 356.65L559.9 356.69L560.4 356.73L560.9 356.77L561.4 356.81L561.9 356.85L562.4 356.89L562.9 356.93L563.4 356.96L563.9 357L564.4 357.03L564.9 357.07L565.4 357.1L565.9 357.13L566.4 357.16L566.9 357.19L567.4 357.21L567.9 357.23L568.4 357.25L568.9 357.27L569.4 357.28L569.9 357.29L570.4 357.3L570.9 357.3L571.4 357.3L571.9 357.29L572.4 357.27L572.9 357.24L573.4 357.21L573.9 357.18L574.4 357.14L574.9 357.1L575.4 357.06L575.9 357.02L576.4 356.98L576.9 356.94L577.4 356.9L577.9 356.87L578.4 356.84L578.9 356.82L579.4 356.81L579.9 356.8L580.4 356.81L580.9 356.84L581.4 356.88L581.9 356.95L582.4 357.03L582.9 357.12L583.4 357.22L583.9 357.32L584.4 357.43L584.9 357.54L585.4 357.66L585.9 357.76L586.4 357.86L586.9 357.96L587.4 358.04L587.9 358.1L588.4 358.16L588.9 358.19L589.4 358.2L589.9 358.2L590.4 358.19L590.9 358.17L591.4 358.15L591.9 358.12L592.4 358.09L592.9 358.06L593.4 358.02L593.9 357.99L594.4 357.95L594.9 357.92L595.4 357.89L595.9 357.86L596.4 357.84L596.9 357.82L597.4 357.81L597.9 357.8L598.4 357.8L598.9 357.82L599.4 357.86L599.9 357.9L600.4 357.95L600.9 358.01L601.4 358.08L601.9 358.15L602.4 358.22L602.9 358.3L603.4 358.38L603.9 358.45L604.4 358.52L604.9 358.59L605.4 358.65L605.9 358.7L606.4 358.74L606.9 358.78L607.4 358.8L607.9 358.8L608.4 358.8L608.9 358.79L609.4 358.79L609.9 358.78L610.4 358.77L610.9 358.76L611.4 358.74L611.9 358.73L612.4 358.71L612.9 358.7L613.4 358.69L613.9 358.67L614.4 358.66L614.9 358.64L615.4 358.63L615.9 358.62L616.4 358.61L616.9 358.61L617.4 358.6L617.9 358.6L618.4 358.6L618.9 358.6L619.4 358.61L619.9 358.62L620.4 358.63L620.9 358.65L621.4 358.67L621.9 358.69L622.4 358.71L622.9 358.74L623.4 358.76L623.9 358.79L624.4 358.83L624.9 358.86L625.4 358.9L625.9 358.94L626.4 358.98L626.9 359.02L627.4 359.06L627.9 359.11L628.4 359.15L628.9 359.2L629.4 359.25L629.9 359.3L630.4 359.36" stroke="#dc2eae" stroke-width="1.15" fill="none" stroke-linejoin="round"/>
<path d="M34.2 353.4L34.7 353.4L35.2 353.4L35.7 353.41L36.2 353.41L36.7 353.41L37.2 353.41L37.7 353.41L38.2 353.41L38.7 353.42L39.2 353.42L39.7 353.42L40.2 353.42L40.7 353.42L41.2 353.43L41.7 353.43L42.2 353.43L42.7 353.43L43.2 353.43L43.7 353.44L44.2 353.44L44.7 353.44L45.2 353.44L45.7 353.44L46.2 353.45L46.7 353.45L47.2 353.45L47.7 353.45L48.2 353.45L48.7 353.46L49.2 353.46L49.7 353.46L50.2 353.46L50.7 353.46L51.2 353.47L51.7 353.47L52.2 353.47L52.7 353.47L53.2 353.47L53.7 353.48L54.2 353.48L54.7 353.48L55.2 353.48L55.7 353.49L56.2 353.49L56.7 353.49L57.2 353.49L57.7 353.49L58.2 353.5L58.7 353.5L59.2 353.5L59.7 353.5L60.2 353.51L60.7 353.51L61.2 353.51L61.7 353.51L62.2 353.51L62.7 353.52L63.2 353.52L63.7 353.52L64.2 353.52L64.7 353.53L65.2 353.53L65.7 353.53L66.2 353.53L66.7 353.54L67.2 353.54L67.7 353.54L68.2 353.54L68.7 353.54L69.2 353.55L69.7 353.55L70.2 353.55L70.7 353.55L71.2 353.56L71.7 353.56L72.2 353.56L72.7 353.56L73.2 353.57L73.7 353.57L74.2 353.57L74.7 353.57L75.2 353.58L75.7 353.58L76.2 353.58L76.7 353.58L77.2 353.59L77.7 353.59L78.2 353.59L78.7 353.59L79.2 353.6L79.7 353.6L80.2 353.6L80.7 353.6L81.2 353.61L81.7 353.61L82.2 353.61L82.7 353.61L83.2 353.62L83.7 353.62L84.2 353.62L84.7 353.62L85.2 353.63L85.7 353.63L86.2 353.63L86.7 353.63L87.2 353.64L87.7 353.64L88.2 353.64L88.7 353.64L89.2 353.65L89.7 353.65L90.2 353.65L90.7 353.65L91.2 353.66L91.7 353.66L92.2 353.66L92.7 353.66L93.2 353.67L93.7 353.67L94.2 353.67L94.7 353.67L95.2 353.68L95.7 353.68L96.2 353.68L96.7 353.68L97.2 353.69L97.7 353.69L98.2 353.69L98.7 353.69L99.2 353.7L99.7 353.7L100.2 353.7L100.7 353.71L101.2 353.71L101.7 353.71L102.2 353.71L102.7 353.72L103.2 353.72L103.7 353.72L104.2 353.72L104.7 353.73L105.2 353.73L105.7 353.73L106.2 353.74L106.7 353.74L107.2 353.74L107.7 353.74L108.2 353.75L108.7 353.75L109.2 353.75L109.7 353.76L110.2 353.76L110.7 353.76L111.2 353.77L111.7 353.77L112.2 353.77L112.7 353.77L113.2 353.78L113.7 353.78L114.2 353.78L114.7 353.79L115.2 353.79L115.7 353.79L116.2 353.8L116.7 353.8L117.2 353.8L117.7 353.81L118.2 353.81L118.7 353.81L119.2 353.82L119.7 353.82L120.2 353.82L120.7 353.83L121.2 353.83L121.7 353.84L122.2 353.84L122.7 353.84L123.2 353.85L123.7 353.85L124.2 353.85L124.7 353.86L125.2 353.86L125.7 353.87L126.2 353.87L126.7 353.87L127.2 353.88L127.7 353.88L128.2 353.89L128.7 353.89L129.2 353.89L129.7 353.9L130.2 353.9L130.7 353.91L131.2 353.91L131.7 353.92L132.2 353.93L132.7 353.93L133.2 353.94L133.7 353.95L134.2 353.96L134.7 353.96L135.2 353.97L135.7 353.98L136.2 353.98L136.7 353.99L137.2 353.99L137.7 354L138.2 354L138.7 354L139.2 353.98L139.7 353.71L140.2 353.11L140.7 352.15L141.2 347.97L141.7 337.13L142.2 316.56L142.7 287.96L143.2 261.1L143.7 250L144.2 256.05L144.7 272.08L145.2 293.22L145.7 314.04L146.2 330.73L146.7 342.06L147.2 348.68L147.7 352.06L148.2 353.78L148.7 354.4L149.2 354.4L149.7 354.4L150.2 354.4L150.7 354.4L151.2 354.4L151.7 354.4L152.2 354.4L152.7 354.4L153.2 354.4L153.7 354.4L154.2 354.4L154.7 354.4L155.2 354.4L155.7 354.4L156.2 354.4L156.7 354.4L157.2 354.4L157.7 354.4L158.2 354.4L158.7 354.4L159.2 354.4L159.7 354.4L160.2 354.4L160.7 354.4L161.2 354.4L161.7 354.4L162.2 354.4L162.7 354.4L163.2 354.4L163.7 354.4L164.2 354.4L164.7 354.39L165.2 354.39L165.7 354.39L166.2 354.39L166.7 354.39L167.2 354.38L167.7 354.38L168.2 354.38L168.7 354.37L169.2 354.37L169.7 354.37L170.2 354.36L170.7 354.36L171.2 354.35L171.7 354.34L172.2 354.34L172.7 354.33L173.2 354.32L173.7 354.31L174.2 354.31L174.7 354.27L175.2 354.07L175.7 353.77L176.2 353.49L176.7 353.15L177.2 352.84L177.7 352.7L178.2 352.88L178.7 353.28L179.2 353.68L179.7 353.95L180.2 354.19L180.7 354.37L181.2 354.4L181.7 354.4L182.2 354.41L182.7 354.41L183.2 354.41L183.7 354.42L184.2 354.42L184.7 354.42L185.2 354.42L185.7 354.43L186.2 354.43L186.7 354.43L187.2 354.43L187.7 354.43L188.2 354.44L188.7 354.44L189.2 354.44L189.7 354.44L190.2 354.44L190.7 354.45L191.2 354.45L191.7 354.45L192.2 354.45L192.7 354.45L193.2 354.46L193.7 354.46L194.2 354.46L194.7 354.46L195.2 354.46L195.7 354.46L196.2 354.47L196.7 354.47L197.2 354.47L197.7 354.47L198.2 354.47L198.7 354.47L199.2 354.47L199.7 354.47L200.2 354.48L200.7 354.48L201.2 354.48L201.7 354.48L202.2 354.48L202.7 354.48L203.2 354.48L203.7 354.48L204.2 354.48L204.7 354.48L205.2 354.49L205.7 354.49L206.2 354.49L206.7 354.49L207.2 354.49L207.7 354.49L208.2 354.49L208.7 354.49L209.2 354.49L209.7 354.49L210.2 354.49L210.7 354.49L211.2 354.49L211.7 354.49L212.2 354.49L212.7 354.49L213.2 354.5L213.7 354.5L214.2 354.5L214.7 354.5L215.2 354.5L215.7 354.5L216.2 354.5L216.7 354.5L217.2 354.5L217.7 354.5L218.2 354.5L218.7 354.5L219.2 354.5L219.7 354.5L220.2 354.5L220.7 354.5L221.2 354.5L221.7 354.5L222.2 354.5L222.7 354.5L223.2 354.5L223.7 354.5L224.2 354.5L224.7 354.5L225.2 354.5L225.7 354.5L226.2 354.5L226.7 354.5L227.2 354.5L227.7 354.5L228.2 354.5L228.7 354.5L229.2 354.5L229.7 354.5L230.2 354.5L230.7 354.5L231.2 354.5L231.7 354.5L232.2 354.5L232.7 354.5L233.2 354.5L233.7 354.5L234.2 354.5L234.7 354.5L235.2 354.5L235.7 354.5L236.2 354.5L236.7 354.5L237.2 354.5L237.7 354.5L238.2 354.5L238.7 354.5L239.2 354.5L239.7 354.5L240.2 354.5L240.7 354.5L241.2 354.5L241.7 354.5L242.2 354.5L242.7 354.5L243.2 354.5L243.7 354.5L244.2 354.5L244.7 354.5L245.2 354.5L245.7 354.5L246.2 354.5L246.7 354.5L247.2 354.5L247.7 354.5L248.2 354.5L248.7 354.5L249.2 354.5L249.7 354.5L250.2 354.5L250.7 354.5L251.2 354.5L251.7 354.5L252.2 354.5L252.7 354.5L253.2 354.5L253.7 354.5L254.2 354.5L254.7 354.5L255.2 354.5L255.7 354.5L256.2 354.5L256.7 354.5L257.2 354.5L257.7 354.5L258.2 354.5L258.7 354.5L259.2 354.5L259.7 354.5L260.2 354.5L260.7 354.5L261.2 354.5L261.7 354.5L262.2 354.5L262.7 354.5L263.2 354.5L263.7 354.5L264.2 354.5L264.7 354.5L265.2 354.5L265.7 354.5L266.2 354.5L266.7 354.5L267.2 354.5L267.7 354.5L268.2 354.5L268.7 354.5L269.2 354.5L269.7 354.5L270.2 354.5L270.7 354.5L271.2 354.5L271.7 354.5L272.2 354.5L272.7 354.5L273.2 354.5L273.7 354.5L274.2 354.5L274.7 354.5L275.2 354.5L275.7 354.5L276.2 354.5L276.7 354.5L277.2 354.5L277.7 354.5L278.2 354.5L278.7 354.5L279.2 354.5L279.7 354.5L280.2 354.5L280.7 354.5L281.2 354.5L281.7 354.5L282.2 354.5L282.7 354.5L283.2 354.5L283.7 354.5L284.2 354.5L284.7 354.5L285.2 354.5L285.7 354.5L286.2 354.5L286.7 354.5L287.2 354.5L287.7 354.5L288.2 354.5L288.7 354.5L289.2 354.5L289.7 354.5L290.2 354.5L290.7 354.5L291.2 354.5L291.7 354.5L292.2 354.5L292.7 354.5L293.2 354.5L293.7 354.5L294.2 354.5L294.7 354.5L295.2 354.5L295.7 354.5L296.2 354.5L296.7 354.5L297.2 354.5L297.7 354.5L298.2 354.5L298.7 354.5L299.2 354.5L299.7 354.5L300.2 354.5L300.7 354.5L301.2 354.5L301.7 354.5L302.2 354.5L302.7 354.5L303.2 354.5L303.7 354.5L304.2 354.5L304.7 354.5L305.2 354.5L305.7 354.5L306.2 354.5L306.7 354.5L307.2 354.5L307.7 354.5L308.2 354.5L308.7 354.5L309.2 354.5L309.7 354.5L310.2 354.5L310.7 354.5L311.2 354.5L311.7 354.5L312.2 354.5L312.7 354.5L313.2 354.5L313.7 354.5L314.2 354.5L314.7 354.5L315.2 354.5L315.7 354.5L316.2 354.5L316.7 354.5L317.2 354.5L317.7 354.5L318.2 354.5L318.7 354.5L319.2 354.5L319.7 354.5L320.2 354.5L320.7 354.5L321.2 354.5L321.7 354.5L322.2 354.5L322.7 354.5L323.2 354.5L323.7 354.5L324.2 354.5L324.7 354.5L325.2 354.5L325.7 354.5L326.2 354.5L326.7 354.5L327.2 354.5L327.7 354.5L328.2 354.5L328.7 354.5L329.2 354.5L329.7 354.5L330.2 354.5L330.7 354.5L331.2 354.5L331.7 354.5L332.2 354.5L332.7 354.5L333.2 354.5L333.7 354.5L334.2 354.5L334.7 354.5L335.2 354.5L335.7 354.5L336.2 354.5L336.7 354.5L337.2 354.5L337.7 354.5L338.2 354.5L338.7 354.5L339.2 354.5L339.7 354.5L340.2 354.5L340.7 354.5L341.2 354.5L341.7 354.5L342.2 354.5L342.7 354.5L343.2 354.5L343.7 354.5L344.2 354.5L344.7 354.5L345.2 354.5L345.7 354.5L346.2 354.5L346.7 354.5L347.2 354.5L347.7 354.5L348.2 354.5L348.7 354.5L349.2 354.5L349.7 354.5L350.2 354.5L350.7 354.5L351.2 354.5L351.7 354.5L352.2 354.5L352.7 354.5L353.2 354.5L353.7 354.5L354.2 354.5L354.7 354.5L355.2 354.5L355.7 354.5L356.2 354.5L356.7 354.5L357.2 354.5L357.7 354.5L358.2 354.5L358.7 354.5L359.2 354.5L359.7 354.5L360.2 354.5L360.7 354.5L361.2 354.5L361.7 354.5L362.2 354.5L362.7 354.5L363.2 354.5L363.7 354.5L364.2 354.5L364.7 354.5L365.2 354.5L365.7 354.5L366.2 354.5L366.7 354.5L367.2 354.5L367.7 354.5L368.2 354.5L368.7 354.5L369.2 354.5L369.7 354.5L370.2 354.5L370.7 354.5L371.2 354.5L371.7 354.5L372.2 354.5L372.7 354.5L373.2 354.5L373.7 354.5L374.2 354.5L374.7 354.5L375.2 354.5L375.7 354.5L376.2 354.5L376.7 354.5L377.2 354.5L377.7 354.5L378.2 354.5L378.7 354.5L379.2 354.5L379.7 354.5L380.2 354.5L380.7 354.5L381.2 354.5L381.7 354.5L382.2 354.5L382.7 354.5L383.2 354.5L383.7 354.5L384.2 354.5L384.7 354.5L385.2 354.49L385.7 354.35L386.2 354.01L386.7 353.43L387.2 352.57L387.7 351.37L388.2 349.8L388.7 343.58L389.2 323.11L389.7 281.22L390.2 215.51L390.7 139.97L391.2 84.91L391.5 75L391.7 77.88L392.2 103.71L392.7 151.56L393.2 207.51L393.7 259.18L394.2 299.25L394.7 325.86L395.2 341.22L395.7 349.03L396.2 350.96L396.7 352.44L397.2 353.51L397.7 354.2L398.2 354.55L398.7 354.6L399.2 354.6L399.7 354.6L400.2 354.6L400.7 354.6L401.2 354.6L401.7 354.6L402.2 354.6L402.7 354.6L403.2 354.6L403.7 354.6L404.2 354.59L404.7 354.59L405.2 354.59L405.7 354.59L406.2 354.59L406.7 354.59L407.2 354.59L407.7 354.59L408.2 354.59L408.7 354.58L409.2 354.58L409.7 354.58L410.2 354.58L410.7 354.58L411.2 354.58L411.7 354.57L412.2 354.57L412.7 354.57L413.2 354.57L413.7 354.57L414.2 354.57L414.7 354.56L415.2 354.56L415.7 354.56L416.2 354.56L416.7 354.56L417.2 354.55L417.7 354.55L418.2 354.55L418.7 354.55L419.2 354.55L419.7 354.54L420.2 354.54L420.7 354.54L421.2 354.54L421.7 354.53L422.2 354.53L422.7 354.53L423.2 354.53L423.7 354.53L424.2 354.52L424.7 354.52L425.2 354.52L425.7 354.52L426.2 354.52L426.7 354.51L427.2 354.51L427.7 354.51L428.2 354.51L428.7 354.51L429.2 354.5L429.7 354.5L430.2 354.5L430.7 354.5L431.2 354.5L431.7 354.49L432.2 354.49L432.7 354.49L433.2 354.49L433.7 354.49L434.2 354.48L434.7 354.48L435.2 354.48L435.7 354.48L436.2 354.48L436.7 354.47L437.2 354.47L437.7 354.47L438.2 354.47L438.7 354.47L439.2 354.46L439.7 354.46L440.2 354.46L440.7 354.46L441.2 354.45L441.7 354.45L442.2 354.45L442.7 354.45L443.2 354.45L443.7 354.44L444.2 354.44L444.7 354.44L445.2 354.44L445.7 354.43L446.2 354.43L446.7 354.43L447.2 354.43L447.7 354.43L448.2 354.42L448.7 354.42L449.2 354.42L449.7 354.42L450.2 354.41L450.7 354.41L451.2 354.41L451.7 354.41L452.2 354.4L452.7 354.4L453.2 354.4L453.7 354.4L454.2 354.39L454.7 354.39L455.2 354.39L455.7 354.39L456.2 354.38L456.7 354.38L457.2 354.38L457.7 354.37L458.2 354.37L458.7 354.37L459.2 354.37L459.7 354.36L460.2 354.36L460.7 354.36L461.2 354.36L461.7 354.35L462.2 354.35L462.7 354.35L463.2 354.34L463.7 354.34L464.2 354.34L464.7 354.33L465.2 354.33L465.7 354.33L466.2 354.32L466.7 354.32L467.2 354.32L467.7 354.32L468.2 354.31L468.7 354.31L469.2 354.31L469.7 354.3L470.2 354.3L470.7 354.3L471.2 354.29L471.7 354.29L472.2 354.28L472.7 354.28L473.2 354.28L473.7 354.27L474.2 354.27L474.7 354.27L475.2 354.26L475.7 354.26L476.2 354.26L476.7 354.25L477.2 354.25L477.7 354.24L478.2 354.24L478.7 354.24L479.2 354.23L479.7 354.23L480.2 354.23L480.7 354.22L481.2 354.22L481.7 354.21L482.2 354.21L482.7 354.2L483.2 354.2L483.7 354.19L484.2 354.19L484.7 354.19L485.2 354.18L485.7 354.18L486.2 354.17L486.7 354.17L487.2 354.16L487.7 354.16L488.2 354.15L488.7 354.15L489.2 354.14L489.7 354.14L490.2 354.13L490.7 354.12L491.2 354.12L491.7 354.11L492.2 354.11L492.7 354.1L493.2 354.09L493.7 354.09L494.2 354.08L494.7 354.08L495.2 354.07L495.7 354.06L496.2 354.06L496.7 354.05L497.2 354.04L497.7 354.03L498.2 354.03L498.7 354.02L499.2 354.01L499.7 354L500.2 354L500.7 353.99L501.2 353.98L501.7 353.98L502.2 353.97L502.7 353.96L503.2 353.96L503.7 353.95L504.2 353.94L504.7 353.93L505.2 353.91L505.7 353.9L506.2 353.88L506.7 353.86L507.2 353.84L507.7 353.82L508.2 353.78L508.7 353.66L509.2 353.45L509.7 353.15L510.2 352.76L510.7 352.21L511.2 350.81L511.7 349L512.2 347.5L512.7 346.29L513.2 345.4L513.7 345.52L514.2 346.53L514.7 347.74L515.2 349.37L515.7 351.16L516.2 352.38L516.7 352.83L517.2 353.18L517.7 353.43L518.2 353.58L518.7 353.6L519.2 353.6L519.7 353.6L520.2 353.6L520.7 353.59L521.2 353.59L521.7 353.58L522.2 353.58L522.7 353.57L523.2 353.57L523.7 353.56L524.2 353.55L524.7 353.55L525.2 353.54L525.7 353.53L526.2 353.52L526.7 353.51L527.2 353.5L527.7 353.49L528.2 353.48L528.7 353.47L529.2 353.46L529.7 353.45L530.2 353.44L530.7 353.42L531.2 353.41L531.7 353.4L532.2 353.39L532.7 353.38L533.2 353.36L533.7 353.35L534.2 353.34L534.7 353.33L535.2 353.31L535.7 353.3L536.2 353.29L536.7 353.28L537.2 353.26L537.7 353.25L538.2 353.24L538.7 353.23L539.2 353.22L539.7 353.21L540.2 353.2L540.7 353.19L541.2 353.17L541.7 353.16L542.2 353.15L542.7 353.14L543.2 353.13L543.7 353.12L544.2 353.11L544.7 353.1L545.2 353.09L545.7 353.08L546.2 353.07L546.7 353.06L547.2 353.05L547.7 353.04L548.2 353.03L548.7 353.01L549.2 353L549.7 352.99L550.2 352.98L550.7 352.97L551.2 352.96L551.7 352.94L552.2 352.93L552.7 352.92L553.2 352.91L553.7 352.89L554.2 352.88L554.7 352.87L555.2 352.85L555.7 352.84L556.2 352.82L556.7 352.81L557.2 352.79L557.7 352.78L558.2 352.76L558.7 352.74L559.2 352.73L559.7 352.71L560.2 352.69L560.7 352.68L561.2 352.66L561.7 352.64L562.2 352.62L562.7 352.6L563.2 352.58L563.7 352.55L564.2 352.53L564.7 352.5L565.2 352.46L565.7 352.42L566.2 352.38L566.7 352.29L567.2 352.17L567.7 352.03L568.2 351.89L568.7 351.78L569.2 351.71L569.7 351.71L570.2 351.78L570.7 351.91L571.2 352.07L571.7 352.24L572.2 352.38L572.7 352.48L573.2 352.51L573.7 352.52L574.2 352.53L574.7 352.54L575.2 352.56L575.7 352.57L576.2 352.58L576.7 352.59L577.2 352.6L577.7 352.61L578.2 352.62L578.7 352.63L579.2 352.64L579.7 352.64L580.2 352.65L580.7 352.66L581.2 352.67L581.7 352.67L582.2 352.68L582.7 352.69L583.2 352.69L583.7 352.7L584.2 352.7L584.7 352.71L585.2 352.72L585.7 352.72L586.2 352.72L586.7 352.73L587.2 352.73L587.7 352.74L588.2 352.74L588.7 352.74L589.2 352.75L589.7 352.75L590.2 352.75L590.7 352.76L591.2 352.76L591.7 352.76L592.2 352.76L592.7 352.77L593.2 352.77L593.7 352.77L594.2 352.77L594.7 352.78L595.2 352.78L595.7 352.78L596.2 352.78L596.7 352.79L597.2 352.79L597.7 352.79L598.2 352.79L598.7 352.79L599.2 352.8L599.7 352.8L600.2 352.8L600.7 352.8L601.2 352.81L601.7 352.81L602.2 352.81L602.7 352.81L603.2 352.82L603.7 352.82L604.2 352.82L604.7 352.82L605.2 352.82L605.7 352.83L606.2 352.83L606.7 352.83L607.2 352.83L607.7 352.84L608.2 352.84L608.7 352.84L609.2 352.84L609.7 352.84L610.2 352.85L610.7 352.85L611.2 352.85L611.7 352.85L612.2 352.85L612.7 352.86L613.2 352.86L613.7 352.86L614.2 352.86L614.7 352.86L615.2 352.87L615.7 352.87L616.2 352.87L616.7 352.87L617.2 352.87L617.7 352.87L618.2 352.88L618.7 352.88L619.2 352.88L619.7 352.88L620.2 352.88L620.7 352.88L621.2 352.88L621.7 352.89L622.2 352.89L622.7 352.89L623.2 352.89L623.7 352.89L624.2 352.89L624.7 352.89L625.2 352.89L625.7 352.89L626.2 352.89L626.7 352.9L627.2 352.9L627.7 352.9L628.2 352.9L628.7 352.9L629.2 352.9L629.7 352.9L630.2 352.9L630.7 352.9L631.2 352.9L631.7 352.9L632.2 352.9L632.7 352.9" stroke="#1c1ce0" stroke-width="1.35" fill="none" stroke-linejoin="round"/>
<path d="M291.5 352.3L300.3 351.8M291.5 351.3v5M298.8 349.8l1.5 2.5l1.5 -2.5M313.4 330.3L322.8 338M313.4 329.3v5M321.3 336l1.5 2.5l1.5 -2.5M355.2 348.9L367.7 343.4M355.2 347.9v5M366.2 341.4l1.5 2.5l1.5 -2.5M388.5 351L397.5 351M388.5 350v5M396 349l1.5 2.5l1.5 -2.5M398.5 351L408 351M398.5 350v5M406.5 349l1.5 2.5l1.5 -2.5M140.6 346.5L146 344.5M140.6 345.5v5M144.5 342.5l1.5 2.5l1.5 -2.5M507.8 358.2L511 355.5M507.8 357.2v5M509.5 353.5l1.5 2.5l1.5 -2.5" stroke="#f02a1c" stroke-width="0.85" fill="none"/>
<rect x="35.5" y="437.5" width="598" height="387" fill="none" stroke="#3a3a3a" stroke-width="1"/>
<path d="M35 437.5V824.5" stroke="#858585" stroke-width="2"/>
<path d="M35.5 819.18h-3.2M35.5 813.31h-1.8M35.5 807.43h-1.8M35.5 801.55h-1.8M35.5 795.68h-1.8M35.5 789.8h-4.2M35.5 783.92h-1.8M35.5 778.05h-1.8M35.5 772.17h-1.8M35.5 766.29h-1.8M35.5 760.41h-3.2M35.5 754.54h-1.8M35.5 748.66h-1.8M35.5 742.78h-1.8M35.5 736.91h-1.8M35.5 731.03h-4.2M35.5 725.15h-1.8M35.5 719.28h-1.8M35.5 713.4h-1.8M35.5 707.52h-1.8M35.5 701.64h-3.2M35.5 695.77h-1.8M35.5 689.89h-1.8M35.5 684.01h-1.8M35.5 678.14h-1.8M35.5 672.26h-4.2M35.5 666.38h-1.8M35.5 660.51h-1.8M35.5 654.63h-1.8M35.5 648.75h-1.8M35.5 642.88h-3.2M35.5 637h-1.8M35.5 631.12h-1.8M35.5 625.24h-1.8M35.5 619.37h-1.8M35.5 613.49h-4.2M35.5 607.61h-1.8M35.5 601.74h-1.8M35.5 595.86h-1.8M35.5 589.98h-1.8M35.5 584.11h-3.2M35.5 578.23h-1.8M35.5 572.35h-1.8M35.5 566.47h-1.8M35.5 560.6h-1.8M35.5 554.72h-4.2M35.5 548.84h-1.8M35.5 542.97h-1.8M35.5 537.09h-1.8M35.5 531.21h-1.8M35.5 525.34h-3.2M35.5 519.46h-1.8M35.5 513.58h-1.8M35.5 507.7h-1.8M35.5 501.83h-1.8M35.5 495.95h-4.2M35.5 490.07h-1.8M35.5 484.2h-1.8M35.5 478.32h-1.8M35.5 472.44h-1.8M35.5 466.56h-3.2M35.5 460.69h-1.8M35.5 454.81h-1.8M35.5 448.93h-1.8M35.5 443.06h-1.8M35.5 437.18h-4.2M35.4 824.5v4.2M42.45 824.5v2M49.5 824.5v2M56.54 824.5v2M63.59 824.5v2M70.64 824.5v3.4M77.69 824.5v2M84.74 824.5v2M91.78 824.5v2M98.83 824.5v2M105.88 824.5v4.2M112.93 824.5v2M119.98 824.5v2M127.02 824.5v2M134.07 824.5v2M141.12 824.5v3.4M148.17 824.5v2M155.22 824.5v2M162.26 824.5v2M169.31 824.5v2M176.36 824.5v4.2M183.41 824.5v2M190.46 824.5v2M197.5 824.5v2M204.55 824.5v2M211.6 824.5v3.4M218.65 824.5v2M225.7 824.5v2M232.74 824.5v2M239.79 824.5v2M246.84 824.5v4.2M253.89 824.5v2M260.94 824.5v2M267.98 824.5v2M275.03 824.5v2M282.08 824.5v3.4M289.13 824.5v2M296.18 824.5v2M303.22 824.5v2M310.27 824.5v2M317.32 824.5v4.2M324.37 824.5v2M331.42 824.5v2M338.46 824.5v2M345.51 824.5v2M352.56 824.5v3.4M359.61 824.5v2M366.66 824.5v2M373.7 824.5v2M380.75 824.5v2M387.8 824.5v4.2M394.85 824.5v2M401.9 824.5v2M408.94 824.5v2M415.99 824.5v2M423.04 824.5v3.4M430.09 824.5v2M437.14 824.5v2M444.18 824.5v2M451.23 824.5v2M458.28 824.5v4.2M465.33 824.5v2M472.38 824.5v2M479.42 824.5v2M486.47 824.5v2M493.52 824.5v3.4M500.57 824.5v2M507.62 824.5v2M514.66 824.5v2M521.71 824.5v2M528.76 824.5v4.2M535.81 824.5v2M542.86 824.5v2M549.9 824.5v2M556.95 824.5v2M564 824.5v3.4M571.05 824.5v2M578.1 824.5v2M585.14 824.5v2M592.19 824.5v2M599.24 824.5v4.2M606.29 824.5v2M613.34 824.5v2M620.38 824.5v2M627.43 824.5v2M633.5 824.5v3.4" stroke="#333" stroke-width="0.9" fill="none"/>
<text x="32.8" y="794.2" font-size="8.1" font-weight="bold" fill="#e86ab8" text-anchor="end" font-family="'Liberation Sans', Arial, sans-serif">0</text>
<text x="32.3" y="794.2" font-size="8.1" font-weight="bold" fill="#c4188e" text-anchor="end" font-family="'Liberation Sans', Arial, sans-serif">0</text>
<text x="33.7" y="735.93" font-size="8.1" font-weight="bold" fill="#e86ab8" text-anchor="end" font-family="'Liberation Sans', Arial, sans-serif">10</text>
<text x="33.2" y="735.93" font-size="8.1" font-weight="bold" fill="#c4188e" text-anchor="end" font-family="'Liberation Sans', Arial, sans-serif">10</text>
<text x="33.7" y="677.16" font-size="8.1" font-weight="bold" fill="#e86ab8" text-anchor="end" font-family="'Liberation Sans', Arial, sans-serif">20</text>
<text x="33.2" y="677.16" font-size="8.1" font-weight="bold" fill="#c4188e" text-anchor="end" font-family="'Liberation Sans', Arial, sans-serif">20</text>
<text x="33.7" y="618.39" font-size="8.1" font-weight="bold" fill="#e86ab8" text-anchor="end" font-family="'Liberation Sans', Arial, sans-serif">30</text>
<text x="33.2" y="618.39" font-size="8.1" font-weight="bold" fill="#c4188e" text-anchor="end" font-family="'Liberation Sans', Arial, sans-serif">30</text>
<text x="33.7" y="559.62" font-size="8.1" font-weight="bold" fill="#e86ab8" text-anchor="end" font-family="'Liberation Sans', Arial, sans-serif">40</text>
<text x="33.2" y="559.62" font-size="8.1" font-weight="bold" fill="#c4188e" text-anchor="end" font-family="'Liberation Sans', Arial, sans-serif">40</text>
<text x="33.7" y="500.85" font-size="8.1" font-weight="bold" fill="#e86ab8" text-anchor="end" font-family="'Liberation Sans', Arial, sans-serif">50</text>
<text x="33.2" y="500.85" font-size="8.1" font-weight="bold" fill="#c4188e" text-anchor="end" font-family="'Liberation Sans', Arial, sans-serif">50</text>
<text x="33.7" y="442.08" font-size="8.1" font-weight="bold" fill="#e86ab8" text-anchor="end" font-family="'Liberation Sans', Arial, sans-serif">60</text>
<text x="33.2" y="442.08" font-size="8.1" font-weight="bold" fill="#c4188e" text-anchor="end" font-family="'Liberation Sans', Arial, sans-serif">60</text>
<text x="37.3" y="837.5" font-size="8.2" font-weight="bold" fill="#111" text-anchor="middle" font-family="'Liberation Sans', Arial, sans-serif">12.0</text>
<text x="107.78" y="837.5" font-size="8.2" font-weight="bold" fill="#111" text-anchor="middle" font-family="'Liberation Sans', Arial, sans-serif">14.0</text>
<text x="178.26" y="837.5" font-size="8.2" font-weight="bold" fill="#111" text-anchor="middle" font-family="'Liberation Sans', Arial, sans-serif">16.0</text>
<text x="248.74" y="837.5" font-size="8.2" font-weight="bold" fill="#111" text-anchor="middle" font-family="'Liberation Sans', Arial, sans-serif">18.0</text>
<text x="319.22" y="837.5" font-size="8.2" font-weight="bold" fill="#111" text-anchor="middle" font-family="'Liberation Sans', Arial, sans-serif">20.0</text>
<text x="389.7" y="837.5" font-size="8.2" font-weight="bold" fill="#111" text-anchor="middle" font-family="'Liberation Sans', Arial, sans-serif">22.0</text>
<text x="460.18" y="837.5" font-size="8.2" font-weight="bold" fill="#111" text-anchor="middle" font-family="'Liberation Sans', Arial, sans-serif">24.0</text>
<text x="530.66" y="837.5" font-size="8.2" font-weight="bold" fill="#111" text-anchor="middle" font-family="'Liberation Sans', Arial, sans-serif">26.0</text>
<text x="601.14" y="837.5" font-size="8.2" font-weight="bold" fill="#111" text-anchor="middle" font-family="'Liberation Sans', Arial, sans-serif">28.0</text>
<text x="661.8" y="793.45" font-size="8.8" font-weight="bold" fill="#1c1ce0" text-anchor="end" font-family="'Liberation Sans', Arial, sans-serif">0</text>
<text x="665.3" y="743.11" font-size="8.8" font-weight="bold" fill="#1c1ce0" text-anchor="end" font-family="'Liberation Sans', Arial, sans-serif">20</text>
<text x="665.3" y="692.77" font-size="8.8" font-weight="bold" fill="#1c1ce0" text-anchor="end" font-family="'Liberation Sans', Arial, sans-serif">40</text>
<text x="665.3" y="642.43" font-size="8.8" font-weight="bold" fill="#1c1ce0" text-anchor="end" font-family="'Liberation Sans', Arial, sans-serif">60</text>
<text x="665.3" y="592.09" font-size="8.8" font-weight="bold" fill="#1c1ce0" text-anchor="end" font-family="'Liberation Sans', Arial, sans-serif">80</text>
<text x="666.4" y="541.75" font-size="8.8" font-weight="bold" fill="#1c1ce0" text-anchor="end" font-family="'Liberation Sans', Arial, sans-serif">100</text>
<text x="666.4" y="491.41" font-size="8.8" font-weight="bold" fill="#1c1ce0" text-anchor="end" font-family="'Liberation Sans', Arial, sans-serif">120</text>
<text x="666.4" y="445.45" font-size="8.8" font-weight="bold" fill="#1c1ce0" text-anchor="end" font-family="'Liberation Sans', Arial, sans-serif">140</text>
<text x="332.7" y="851.2" font-size="8.9" font-weight="bold" fill="#111" text-anchor="start" font-family="'Liberation Sans', Arial, sans-serif">Time</text>
<text x="332.4" y="862" font-size="8.9" font-weight="bold" fill="#111" text-anchor="start" font-family="'Liberation Sans', Arial, sans-serif">(min)</text>
<text x="0" y="0" font-size="9" font-weight="bold" fill="#cf3a9f" text-anchor="middle" font-family="'Liberation Sans', Arial, sans-serif" letter-spacing="0.13" style="white-space:pre" transform="translate(10.2 637.7) rotate(-90)">Sample  Abs (mAU)</text>
<text x="0" y="0" font-size="9" font-weight="bold" fill="#2626dd" text-anchor="middle" font-family="'Liberation Sans', Arial, sans-serif" letter-spacing="0.15" transform="translate(680.7 641) rotate(-90)">Standard Abs (mAU)</text>
<text x="614.3" y="450.9" font-size="8.4" font-weight="bold" fill="#111" text-anchor="start" font-family="'Liberation Sans', Arial, sans-serif">227</text>
<text x="614.3" y="461.1" font-size="8.4" font-weight="bold" fill="#111" text-anchor="start" font-family="'Liberation Sans', Arial, sans-serif">nm</text>
<text x="45.6" y="464.8" font-size="20" font-weight="normal" fill="#000" text-anchor="start" font-family="'Liberation Sans', Arial, sans-serif">B</text>
<path d="M649 437.8h3M649 790.5l1.2 1.2l1.8 -2" stroke="#1c1ce0" stroke-width="0.8" fill="none"/>
<path d="M649 825.5h3" stroke="#999" stroke-width="0.8"/>
<path d="M139.9 679.7L107.9 615.6M115.83 620.65L107.9 615.6L107.17 624.97" stroke="#a2a2a2" stroke-width="0.7" fill="none"/>
<path d="M300.9 771.5L285 734.9M292.65 740.36L285 734.9L283.77 744.22" stroke="#a2a2a2" stroke-width="0.7" fill="none"/>
<path d="M327.6 674L322.3 573.6M327.56 581.39L322.3 573.6L317.89 581.9" stroke="#a2a2a2" stroke-width="0.7" fill="none"/>
<path d="M370.4 598.3L365.7 517.6M371 525.36L365.7 517.6L361.34 525.93" stroke="#a2a2a2" stroke-width="0.7" fill="none"/>
<path d="M407.7 544.7L429.3 534.7M424.02 542.48L429.3 534.7L419.95 533.69" stroke="#a2a2a2" stroke-width="0.7" fill="none"/>
<path d="M419.2 786.7L434.5 729.8M437.08 738.84L434.5 729.8L427.73 736.32" stroke="#a2a2a2" stroke-width="0.7" fill="none"/>
<path d="M526 787.4L536.4 756.2M538.44 765.37L536.4 756.2L529.26 762.31" stroke="#a2a2a2" stroke-width="0.7" fill="none"/>
<text x="59.3" y="602.4" font-size="9.4" font-weight="bold" fill="#111" text-anchor="start" font-family="'Liberation Sans', Arial, sans-serif" stroke="#111" stroke-width="0.22">Withanoside IV (15.14)</text>
<text x="183.5" y="656.5" font-size="9.4" font-weight="bold" fill="#111" text-anchor="start" font-family="'Liberation Sans', Arial, sans-serif" stroke="#111" stroke-width="0.22">Withanoside VI</text>
<text x="235.4" y="709.8" font-size="9.4" font-weight="bold" fill="#111" text-anchor="start" font-family="'Liberation Sans', Arial, sans-serif" stroke="#111" stroke-width="0.22">Withanoside V</text>
<text x="0" y="0" font-size="9.4" font-weight="bold" fill="#111" text-anchor="start" font-family="'Liberation Sans', Arial, sans-serif" stroke="#111" stroke-width="0.22" transform="translate(228.4 773.3) rotate(-36.4)">Withanoside V &amp; VI (19.45)</text>
<text x="391.8" y="505.2" font-size="9.4" font-weight="bold" fill="#111" text-anchor="end" font-family="'Liberation Sans', Arial, sans-serif" stroke="#111" stroke-width="0.22">12-Deoxywithastromonolide (21.32)</text>
<text x="242.1" y="569.7" font-size="9.4" font-weight="bold" fill="#111" text-anchor="start" font-family="'Liberation Sans', Arial, sans-serif" stroke="#111" stroke-width="0.22">Withaferin A (20.06)</text>
<text x="434.8" y="532.1" font-size="9.4" font-weight="bold" fill="#111" text-anchor="start" font-family="'Liberation Sans', Arial, sans-serif" stroke="#111" stroke-width="0.22">Withanolide A (22.14)</text>
<text x="423.9" y="716.4" font-size="9.4" font-weight="bold" fill="#111" text-anchor="start" font-family="'Liberation Sans', Arial, sans-serif" stroke="#111" stroke-width="0.22">Withanone (22.52)</text>
<text x="537" y="741" font-size="9.4" font-weight="bold" fill="#111" text-anchor="start" font-family="'Liberation Sans', Arial, sans-serif" stroke="#111" stroke-width="0.22">Withanolide B (25.60)</text>
<g transform="matrix(0.9948 0 0 1.004 -3.17 437.2)" font-family="'Liberation Sans', Arial, sans-serif"><path d="M74.7 77.33L82.89 81.8M82.89 81.8L82.89 89.33M80.76 92.82L74.7 95.94M74.7 95.94L66.76 91.72M66.76 91.72L66.76 81.8M66.76 81.8L74.7 77.33M90.83 77.33L96.92 80.65M72.67 107.14L66.76 110.83M66.76 120.01L72.62 123.31M74.7 126.87L74.7 133.91M74.7 133.91L66.76 138.62M66.76 138.62L58.57 133.91M58.57 133.91L58.57 124.48M58.57 124.48L66.76 120.01M91.58 134.4L91.58 124.98M91.58 124.98L99.52 120.76M99.52 120.76L107.7 124.98M107.7 124.98L107.7 134.4M107.7 134.4L99.52 138.87M99.52 138.87L91.58 134.4M99.52 120.76L99.32 112.48M107.7 124.98L115.65 120.76M115.65 120.76L123.83 124.98M123.83 124.98L123.83 134.4M123.83 134.4L115.65 138.87M115.65 138.87L107.7 134.4M115.43 137.03L109.39 133.63M115.65 111.58L123.83 106.61M123.83 106.61L131.77 111.58M131.77 111.58L131.77 120.76M131.77 120.76L123.83 124.98M131.77 111.58L140.46 108.35M140.46 108.35L145.92 115.79M145.92 115.79L140.46 123.24M143.44 99.17L138.72 91.72M143.44 99.17L152.87 97.68M152.87 88.5L161.55 83.54M161.55 83.54L169.74 88.5M161.76 85.41L167.98 89.19M169.74 88.5L169.74 97.68M169.74 97.68L163.65 101M159.42 101.05L152.87 97.68M161.55 83.54L161.55 74.85M169.38 98.34L174.48 101.15M170.1 97.02L175.2 99.84M169.74 88.5L177.68 84.28M177.68 84.28L182.49 86.68" stroke="#1a1a1a" stroke-width="0.68" fill="none" stroke-linecap="round"/><path d="M57.27 123.58L57.06 124.01M55.97 122.68L55.55 123.54M54.67 121.78L54.04 123.07M53.37 120.88L52.53 122.61M52.07 119.98L51.02 122.14" stroke="#1a1a1a" stroke-width="0.5" fill="none" stroke-linecap="round"/><path d="M115.65 120.76L115.65 111.58" stroke="#1a1a1a" stroke-width="1.36" fill="none" stroke-linecap="round"/><path d="M74.7 77.33L75.27 69.75L73.38 69.84ZM66.76 81.8L60.4 77.93L59.63 79.67ZM66.76 91.72L59.59 94.06L60.4 95.78ZM82.89 81.8L91.3 78.16L90.37 76.5ZM74.7 95.94L73.75 103.48L75.65 103.48ZM66.76 120.01L67.71 110.83L65.81 110.83ZM58.57 133.91L51.09 136.69L51.95 138.38ZM66.76 138.62L65.07 145.57L66.96 145.77ZM74.7 133.91L80.82 137.94L81.65 136.23ZM91.58 134.4L85.17 136.27L85.96 138ZM107.7 124.98L108.65 115.79L106.75 115.79ZM131.77 111.58L132.72 100.91L130.82 100.91ZM131.77 120.76L140.2 124.15L140.72 122.32ZM140.46 108.35L144.34 99.46L142.53 98.88ZM152.87 97.68L153.82 88.5L151.92 88.5Z" fill="#1a1a1a"/><text x="82.89" y="93.38" font-size="4.6" text-anchor="middle" fill="#e23f82">O</text><text x="72.5" y="69.06" font-size="4.6" text-anchor="start" fill="#e23f82">OH</text><text x="59.53" y="79.48" font-size="4.6" text-anchor="end" fill="#e23f82">HO</text><text x="59.53" y="97.6" font-size="4.6" text-anchor="end" fill="#e23f82">HO</text><text x="97.32" y="83.46" font-size="4.6" text-anchor="start" fill="#e23f82">OH</text><text x="74.7" y="107.52" font-size="4.6" text-anchor="middle" fill="#e23f82">O</text><text x="74.7" y="126.13" font-size="4.6" text-anchor="middle" fill="#e23f82">O</text><text x="51.09" y="121.67" font-size="4.6" text-anchor="end" fill="#e23f82">HO</text><text x="51.09" y="140.28" font-size="4.6" text-anchor="end" fill="#e23f82">HO</text><text x="64.07" y="149.71" font-size="4.6" text-anchor="start" fill="#e23f82">OH</text><text x="83.39" y="139.78" font-size="4.6" text-anchor="middle" fill="#e23f82">O</text><text x="97.57" y="111.74" font-size="4.6" text-anchor="start" fill="#e23f82">OH</text><text x="161.55" y="103.8" font-size="4.6" text-anchor="middle" fill="#e23f82">O</text><text x="176.94" y="103.31" font-size="4.6" text-anchor="middle" fill="#e23f82">O</text><text x="182.93" y="89.41" font-size="4.6" text-anchor="start" fill="#e23f82">OH</text></g>
<g transform="matrix(0.9948 0 0 1.004 -3.67 436)" font-family="'Liberation Sans', Arial, sans-serif"><path d="M166.75 188.05L175.43 186.81M175.43 186.81L180.4 193.64M180.4 193.64L178.15 198.76M175.18 200.97L169.23 201.7M169.23 201.7L164.89 196.12M164.89 196.12L166.75 188.05M166.75 188.05L163.47 184.42M169.23 201.7L166.13 209.77M166.13 209.77L170.75 213.92M188.1 189.84L190.32 184.95M190.32 184.95L197.77 183.71M197.77 183.71L201.49 175.03M201.49 175.03L209.55 174.16M209.55 174.16L214.52 180.61M214.52 180.61L211.41 188.05M211.41 188.05L205.48 188.51M201.76 187.26L197.77 183.71M209.55 174.16L211.36 168.74M225 193.21L227.77 184.19M227.77 184.19L236.1 183.08M236.1 183.08L242.75 188.35M242.75 188.35L238.87 195.29M238.87 195.29L230.55 198.34M230.55 198.34L225 193.21M236.1 183.08L237.92 177.61M242.75 188.35L249.97 187.66M249.97 187.66L254.82 194.59M254.82 194.59L252.74 202.22M252.74 202.22L244.42 202.92M244.42 202.92L238.87 195.29M244.96 201.12L240.75 195.32M252.74 180.72L260.37 179.34M260.37 179.34L265.22 185.58M265.22 185.58L262.45 193.21M262.45 193.21L254.82 194.59M265.22 185.58L273.54 184.88M273.54 184.88L275.62 192.51M273.54 184.88L278.4 179.34M278.4 179.34L275.62 172.4M278.4 179.34L286.72 180.03M286.72 180.03L289.94 176.13M293.42 174.65L299.9 175.18M300.52 175.59L303.5 171.12M299.27 174.76L302.25 170.29M299.9 175.18L301.98 182.8M301.98 182.8L309.6 183.5M301.98 182.8L297.12 188.35M300.27 182.48L296.58 186.7M297.12 188.35L299.9 195.29M297.12 188.35L288.8 187.66M288.8 187.66L286.72 180.03" stroke="#1a1a1a" stroke-width="0.68" fill="none" stroke-linecap="round"/><path d="M212.06 189.1L212.41 188.77M212.71 190.14L213.41 189.49M213.36 191.19L214.41 190.2M214.01 192.23L215.41 190.92M214.66 193.28L216.41 191.63" stroke="#1a1a1a" stroke-width="0.5" fill="none" stroke-linecap="round"/><path d="M249.97 187.66L252.74 180.72M275.62 192.51L269.38 197.37M269.38 197.37L262.45 193.21" stroke="#1a1a1a" stroke-width="1.36" fill="none" stroke-linecap="round"/><path d="M175.43 186.81L178.37 182.07L176.61 181.36ZM164.89 196.12L158.79 196.1L159.08 197.97ZM180.4 193.64L185.41 193.25L184.91 191.42ZM201.49 175.03L198.33 170.53L196.99 171.87ZM214.52 180.61L220.36 180.17L219.91 178.33ZM225 193.21L219.02 192.85L219.21 194.74ZM242.75 188.35L245.06 183.03L243.22 182.57ZM265.22 185.58L268.88 179L267.11 178.29Z" fill="#1a1a1a"/><text x="177.3" y="202.19" font-size="4.1" text-anchor="middle" fill="#e23f82">O</text><text x="163.55" y="184.32" font-size="4.1" text-anchor="end" fill="#e23f82" transform="rotate(30 162.03 182.84)">HO</text><text x="176.77" y="181.22" font-size="4.1" text-anchor="start" fill="#e23f82" transform="rotate(30 178.29 179.74)">OH</text><text x="158.34" y="198.84" font-size="4.1" text-anchor="end" fill="#e23f82" transform="rotate(30 156.82 197.36)">HO</text><text x="170.82" y="216.83" font-size="4.1" text-anchor="start" fill="#e23f82" transform="rotate(30 172.33 215.35)">OH</text><text x="187.22" y="193.25" font-size="4.1" text-anchor="middle" fill="#e23f82">O</text><text x="203.35" y="190.15" font-size="4.1" text-anchor="middle" fill="#e23f82">O</text><text x="197.67" y="171.17" font-size="4.1" text-anchor="end" fill="#e23f82" transform="rotate(30 196.15 169.69)">HO</text><text x="210.52" y="168.19" font-size="4.1" text-anchor="start" fill="#e23f82" transform="rotate(30 212.03 166.71)">OH</text><text x="220.69" y="180.23" font-size="4.1" text-anchor="start" fill="#e23f82" transform="rotate(-70 222.21 178.75)">OH</text><text x="217" y="195.49" font-size="4.1" text-anchor="middle" fill="#e23f82">O</text><text x="237.08" y="177.07" font-size="4.1" text-anchor="start" fill="#e23f82" transform="rotate(20 238.59 175.59)">OH</text><text x="291.3" y="175.96" font-size="4.1" text-anchor="middle" fill="#e23f82">O</text><text x="304.06" y="170.41" font-size="4.1" text-anchor="middle" fill="#e23f82">O</text></g>
<g transform="matrix(0.9948 0 0 1.004 -3.67 436)" font-family="'Liberation Sans', Arial, sans-serif"><path d="M171.79 243.9L178 243.9M181.86 246.08L184.93 251.2M184.93 251.2L180.55 259.23M180.55 259.23L171.79 259.23M171.79 259.23L167.41 251.93M167.41 251.93L171.79 243.9M167.41 236.6L170.57 230.81M195.15 254.01L198.8 259.23M206.82 259.23L209.89 254.11M213.75 251.93L219.96 251.93M219.96 251.93L224.34 259.23M224.34 259.23L219.96 266.53M219.96 266.53L211.2 266.53M211.2 266.53L206.82 259.23M234.09 244.19L238.47 236.6M238.47 236.6L247.23 236.6M247.23 236.6L251.61 244.19M251.61 244.19L247.23 251.64M247.23 251.64L238.47 251.64M238.47 251.64L234.09 244.19M247.23 236.6L251.61 229.3M249.04 236.49L252.37 230.95M251.61 229.3L260.36 229.3M264.74 236.6L260.36 244.19M260.36 244.19L251.61 244.19M264.74 236.6L273.5 236.6M273.5 236.6L277.88 244.19M277.88 244.19L273.5 251.64M273.5 251.64L264.74 251.64M273.5 236.6L279.64 229.3M279.64 229.3L287.66 232.95M286.93 241.71L277.88 244.19M286.93 241.71L294.23 248.28M294.23 248.28L288.39 254.85M294.23 248.28L294.54 254.2M294.23 248.28L302.26 245.36M303.72 236.6L311.75 233.68M311.75 233.68L313.94 225.65M311.75 233.68L318.32 239.52M311.54 235.5L316.54 239.94M318.32 239.52L326.35 237.33M318.32 239.52L316.13 248.28M315.65 248.85L321 253.34M316.61 247.7L321.96 252.2M316.13 248.28L311.2 250.25M306.93 249.5L302.26 245.36" stroke="#1a1a1a" stroke-width="0.68" fill="none" stroke-linecap="round"/><path d="M260.36 229.3L264.74 236.6M264.74 251.64L260.36 244.19M287.66 232.95L286.93 241.71" stroke="#1a1a1a" stroke-width="1.36" fill="none" stroke-linecap="round"/><path d="M171.79 243.9L168.22 236.11L166.59 237.09ZM184.93 251.2L191.07 252.66L191.23 250.77ZM180.55 259.23L183.21 265.3L184.82 264.3ZM171.79 259.23L167.62 264.29L169.25 265.27ZM167.41 251.93L161.64 250.98L161.64 252.88ZM206.82 259.23L198.8 258.28L198.8 260.18ZM219.96 251.93L224.46 246.84L222.88 245.79ZM224.34 259.23L231.72 260.18L231.72 258.28ZM219.96 266.53L223.25 272.75L224.8 271.64ZM211.2 266.53L207.04 271.59L208.66 272.57ZM234.09 244.19L227.62 243.24L227.62 245.14ZM247.23 251.64L249.51 257.49L251.16 256.54ZM251.61 244.19L255.49 251.72L257.07 250.67ZM277.88 244.19L281.02 250.97L282.63 249.96ZM302.26 245.36L304.66 236.75L302.79 236.44Z" fill="#1a1a1a"/><text x="180.55" y="245.66" font-size="4.9" text-anchor="middle" fill="#e23f82">O</text><text x="169.98" y="230.33" font-size="4.9" text-anchor="start" fill="#e23f82">OH</text><text x="193.69" y="253.69" font-size="4.9" text-anchor="middle" fill="#e23f82">O</text><text x="183.55" y="268.73" font-size="4.9" text-anchor="start" fill="#e23f82">OH</text><text x="168.93" y="268.73" font-size="4.9" text-anchor="end" fill="#e23f82">HO</text><text x="160.9" y="253.69" font-size="4.9" text-anchor="end" fill="#e23f82">HO</text><text x="211.2" y="253.69" font-size="4.9" text-anchor="middle" fill="#e23f82">O</text><text x="225.07" y="245.95" font-size="4.9" text-anchor="middle" fill="#e23f82">O</text><text x="232.46" y="260.99" font-size="4.9" text-anchor="start" fill="#e23f82">OH</text><text x="223.7" y="276.03" font-size="4.9" text-anchor="start" fill="#e23f82">OH</text><text x="208.35" y="276.03" font-size="4.9" text-anchor="end" fill="#e23f82">HO</text><text x="249.79" y="260.99" font-size="4.9" text-anchor="start" fill="#e23f82">OH</text><text x="292.86" y="258.51" font-size="4.9" text-anchor="start" fill="#e23f82">OH</text><text x="323.43" y="256.17" font-size="4.9" text-anchor="middle" fill="#e23f82">O</text><text x="308.83" y="252.96" font-size="4.9" text-anchor="middle" fill="#e23f82">O</text></g>
<g transform="matrix(0.9948 0 0 1.004 -3.67 436.5)" font-family="'Liberation Sans', Arial, sans-serif"><path d="M294.42 19.25L296.4 14.22M293.02 18.7L295.01 13.67M293.72 18.98L285.18 20.87M285.18 20.87L282.33 29.41M286.26 22.37L284.1 28.86M282.33 29.41L288.03 36.05M288.03 36.05L296.57 34.16M296.57 34.16L300.36 25.62M300.36 25.62L293.72 18.98M296.57 34.16L294.3 40.67M300.36 25.62L308.9 23.72M308.9 23.72L313.64 31.31M313.64 31.31L310.8 39.47M310.8 39.47L302.26 40.8M302.26 40.8L296.57 34.16M302.26 40.8L306 45.93M310.8 39.47L308.27 45.65M311.75 16.13L320.28 14.8M320.28 14.8L325.41 21.82M325.41 21.82L322.75 30.36M322.75 30.36L313.64 31.31M325.41 21.82L335.46 22.39M335.46 22.39L337.93 30.36M335.46 22.39L340.59 16.13M340.59 16.13L349.7 16.7M354.44 9.87L363.36 10.44M363.36 10.44L368.67 4.17M363.36 10.44L367.15 18.98M362.44 12.07L365.33 18.56M367.15 18.98L375.31 21.25M375.31 21.25L377.62 26.69M367.15 18.98L362.03 26.19M361.3 26.36L362.66 32.05M362.76 26.01L364.12 31.71M362.03 26.19L354.85 25.04M351.76 22.46L349.7 16.7" stroke="#1a1a1a" stroke-width="0.68" fill="none" stroke-linecap="round"/><path d="M308.9 23.72L311.75 16.13M337.93 30.36L330.34 35.67M330.34 35.67L322.75 30.36" stroke="#1a1a1a" stroke-width="1.36" fill="none" stroke-linecap="round"/><path d="M300.36 25.62L303.55 18.3L301.73 17.75ZM325.41 21.82L329.69 14.62L327.96 13.84ZM340.59 16.13L338.25 7.62L336.48 8.32ZM349.7 16.7L355.22 10.41L353.66 9.33Z" fill="#1a1a1a"/><text x="296.57" y="13.38" font-size="4.5" text-anchor="middle" fill="#e23f82">O</text><text x="291.86" y="44.5" font-size="4.5" text-anchor="start" fill="#e23f82" transform="rotate(25 293.53 42.88)">OH</text><text x="307.38" y="49.44" font-size="4.5" text-anchor="middle" fill="#e23f82">O</text><text x="376.87" y="30.46" font-size="4.5" text-anchor="start" fill="#e23f82" transform="rotate(25 378.54 28.84)">OH</text><text x="363.93" y="35.78" font-size="4.5" text-anchor="middle" fill="#e23f82">O</text><text x="352.54" y="26.29" font-size="4.5" text-anchor="middle" fill="#e23f82">O</text></g>
<g transform="matrix(0.9948 0 0 1.004 -3.67 436.5)" font-family="'Liberation Sans', Arial, sans-serif"><path d="M256.28 88.38L259.54 82.28M254.96 87.67L258.22 81.58M255.62 88.03L247.08 88.6M247.08 88.6L243.28 95.62M247.94 90.15L245.06 95.49M243.28 95.62L247.08 102.64M247.08 102.64L255.62 103.21M255.62 103.21L260.36 95.62M260.36 95.62L255.62 88.03M255.62 103.21L252.23 107.94M255.62 103.21L261.31 110.23M261.31 110.23L268.9 109.85M268.9 109.85L273.26 102.64M273.26 102.64L268.9 95.62M268.9 95.62L260.36 95.62M273.64 88.6L282.18 88.6M282.18 88.6L286.55 95.62M286.55 95.62L282.18 103.21M282.18 103.21L273.26 102.64M286.55 95.62L296.03 96.19M296.03 96.19L299.83 103.78M296.03 96.19L299.83 88.98M299.83 88.98L308.75 88.98M308.75 88.98L311.9 83.77M315.45 81.76L322.03 81.76M322.7 82.11L325.98 75.84M321.37 81.42L324.65 75.14M322.03 81.76L326.77 88.98M326.77 88.98L335.31 89.92M335.31 89.92L338.36 95.46M326.77 88.98L322.6 96.19M324.98 89.09L321.8 94.57M322.6 96.19L326.39 103.78M322.6 96.19L313.11 96.19M313.11 96.19L308.75 88.98" stroke="#1a1a1a" stroke-width="0.68" fill="none" stroke-linecap="round"/><path d="M268.9 95.62L273.64 88.6M299.83 103.78L294.14 110.23M294.14 110.23L282.18 103.21" stroke="#1a1a1a" stroke-width="1.36" fill="none" stroke-linecap="round"/><path d="M247.08 102.64L242.45 105.66L243.74 107.05ZM260.36 95.62L265.35 89.08L263.72 88.11ZM261.31 110.23L253.25 108.98L253.18 110.88ZM286.55 95.62L291.9 89.11L290.3 88.08ZM299.83 88.98L297.29 80.63L295.54 81.38Z" fill="#1a1a1a"/><text x="259.98" y="81.49" font-size="4.5" text-anchor="middle" fill="#e23f82">O</text><text x="243.05" y="109.57" font-size="4.5" text-anchor="end" fill="#e23f82" transform="rotate(-30 241.39 107.95)">HO</text><text x="250.87" y="111.47" font-size="4.5" text-anchor="middle" fill="#e23f82">O</text><text x="313.11" y="83.38" font-size="4.5" text-anchor="middle" fill="#e23f82">O</text><text x="326.39" y="75.04" font-size="4.5" text-anchor="middle" fill="#e23f82">O</text><text x="337.82" y="99.13" font-size="4.5" text-anchor="start" fill="#e23f82" transform="rotate(25 339.49 97.51)">OH</text></g>
<g transform="matrix(0.9948 0 0 1.004 -14.77 449.4)" font-family="'Liberation Sans', Arial, sans-serif"><path d="M475.36 32.01L480.37 27.46M474.35 30.9L479.36 26.35M474.85 31.46L467.7 28.8M467.7 28.8L461.16 34.93M467.94 30.63L462.97 35.29M461.16 34.93L462.59 43.72M462.59 43.72L470.15 46.79M470.15 46.79L476.9 40.66M476.9 40.66L474.85 31.46M470.15 46.79L467.89 50.51M476.9 40.66L485.07 42.7M485.07 42.7L487.73 50.87M487.73 50.87L483.03 58.03M483.03 58.03L474.85 56.6M474.85 56.6L470.15 46.79M474.85 56.6L475.53 61.23M483.03 58.03L477.73 62.12M491.2 36.16L499.38 37.59M499.38 37.59L502.44 46.38M502.44 46.38L496.31 52.92M496.31 52.92L487.73 50.87M502.44 46.38L512.25 50.87M512.25 50.87L519.82 46.79M519.82 46.79L514.71 40.25M519.82 46.79L527.38 43.72M527.38 43.72L526.79 37.88M528.5 34.24L534.12 30.44M534.87 30.5L535.28 25.68M533.37 30.37L533.79 25.55M534.12 30.44L541.27 35.55M541.27 35.55L553.54 27.98M541.27 35.55L541.27 43.72M539.77 36.53L539.77 42.74M541.27 43.72L548.43 48.42M541.27 43.72L534.12 48.83M534.12 48.83L527.38 43.72" stroke="#1a1a1a" stroke-width="0.68" fill="none" stroke-linecap="round"/><path d="M485.07 42.7L491.2 36.16M512.25 50.87L510.62 60.07M510.62 60.07L501.42 61.09M501.42 61.09L496.31 52.92" stroke="#1a1a1a" stroke-width="1.36" fill="none" stroke-linecap="round"/><path d="M476.9 40.66L483.64 36.28L482.42 34.82ZM502.44 46.38L509.15 42.43L508 40.92ZM519.82 46.79L521.53 53.56L523.29 52.85Z" fill="#1a1a1a"/><text x="481.6" y="26.95" font-size="4.5" text-anchor="middle" fill="#e23f82">O</text><text x="465.01" y="54.13" font-size="4.5" text-anchor="start" fill="#e23f82" transform="rotate(45 466.68 52.51)">OH</text><text x="475.87" y="65.17" font-size="4.5" text-anchor="middle" fill="#e23f82">O</text><text x="521.62" y="56.99" font-size="4.5" text-anchor="start" fill="#e23f82" transform="rotate(60 523.29 55.37)">OH</text><text x="526.56" y="37.17" font-size="4.5" text-anchor="middle" fill="#e23f82">O</text><text x="534.73" y="24.9" font-size="4.5" text-anchor="middle" fill="#e23f82">O</text></g>
<g transform="matrix(0.9948 0 0 1.004 -5.17 436.6)" font-family="'Liberation Sans', Arial, sans-serif"><path d="M439.98 227.22L442.91 222.53M438.71 226.43L441.63 221.74M439.34 226.82L430.95 226.82M430.95 226.82L426.42 233.87M431.67 228.48L428.22 233.84M426.42 233.87L430.11 241.09M430.11 241.09L438.5 241.6M438.5 241.6L442.7 234.88M442.7 234.88L439.34 226.82M438.5 241.6L434.81 247.01M442.7 234.88L451.09 235.22M451.09 235.22L455.29 242.27M455.29 242.27L451.09 248.98M451.09 248.98L442.7 248.98M442.7 248.98L438.5 241.6M442.7 248.98L444.72 254.46M451.09 248.98L446.95 254.76M455.29 228.5L463.68 228.5M463.68 228.5L467.88 235.55M467.88 235.55L463.68 242.77M463.68 242.77L455.29 242.27M467.88 235.55L476.78 236.56M476.78 236.56L480.47 243.95M480.47 243.95L474.59 250.32M476.78 236.56L472.55 242.96M476.78 236.56L480.8 229.34M480.8 229.34L489.2 229.34M493.56 222.12L502.29 222.12M502.29 222.12L506.49 216.42M502.29 222.12L506.49 229.84M501.48 223.77L504.67 229.63M506.49 229.84L515.39 230.52M506.49 229.84L501.96 236.9M501.28 237.22L503.93 242.63M502.63 236.57L505.27 241.97M501.96 236.9L495.45 236.65M491.93 234.45L489.2 229.34" stroke="#1a1a1a" stroke-width="0.68" fill="none" stroke-linecap="round"/><path d="M451.09 235.22L455.29 228.5" stroke="#1a1a1a" stroke-width="1.36" fill="none" stroke-linecap="round"/><path d="M442.7 234.88L447.7 228.67L446.09 227.66ZM467.88 235.55L472.86 229.87L471.29 228.81ZM463.68 242.77L474.05 251.11L475.13 249.54ZM480.8 229.34L478.32 221.08L476.57 221.82ZM489.2 229.34L494.38 222.61L492.75 221.63Z" fill="#1a1a1a"/><text x="443.54" y="221.76" font-size="4.6" text-anchor="middle" fill="#e23f82">O</text><text x="431.76" y="250.64" font-size="4.6" text-anchor="start" fill="#e23f82" transform="rotate(15 433.47 248.98)">OH</text><text x="445.55" y="258.36" font-size="4.6" text-anchor="middle" fill="#e23f82">O</text><text x="469.53" y="246.61" font-size="4.6" text-anchor="start" fill="#e23f82" transform="rotate(10 471.24 244.95)">OH</text><text x="505.65" y="246.11" font-size="4.6" text-anchor="middle" fill="#e23f82">O</text><text x="493.06" y="238.22" font-size="4.6" text-anchor="middle" fill="#e23f82">O</text></g>
<g transform="matrix(0.9948 0 0 1.004 -3.67 436.3)" font-family="'Liberation Sans', Arial, sans-serif"><path d="M548.4 251.34L547.19 245.29M546.93 251.63L545.72 245.59M547.66 251.49L554.58 253.25M557.58 256.13L559.41 262.23M552.7 268.27L543.8 266.09M543.8 266.09L538.09 272.3M543.8 266.09L541.45 257.7M544.96 264.68L543.18 258.3M541.45 257.7L533.06 255.18M541.45 257.7L547.66 251.49M559.41 262.23L567.81 264.92M567.81 264.92L570.32 273.98M567.81 264.92L574.52 258.54M572 249.81L579.05 243.09M589.63 254.84L582.92 261.9M582.92 261.9L574.52 258.54M582.92 261.9L587.11 269.45M587.11 269.45L595.51 270.29M599.7 264.41L598.02 256.02M598.02 256.02L589.63 254.84M599.7 264.41L609.77 267.77M609.77 267.77L615.65 261.06M615.65 261.06L618.86 257.05M615.65 261.06L612.63 252.16M612.63 252.16L604.74 250.48M604.74 250.48L598.02 256.02M612.63 252.16L611.45 246.61M604.74 250.48L609.26 245.96M609.77 267.77L611.96 277M611.44 276.46L606.46 281.19M612.47 277.55L607.49 282.28M611.96 277L620.69 278.68M620.69 278.68L626.56 271.97M620.26 276.89L624.73 271.79M626.56 271.97L625.39 263.57M625.39 263.57L615.65 261.06" stroke="#1a1a1a" stroke-width="0.68" fill="none" stroke-linecap="round"/><path d="M574.52 258.54L572 249.81M595.51 270.29L599.7 264.41" stroke="#1a1a1a" stroke-width="1.36" fill="none" stroke-linecap="round"/><path d="M559.41 262.23L552.06 267.57L553.33 268.98ZM579.05 243.09L588.92 255.48L590.34 254.21ZM582.92 261.9L576.4 266.57L577.68 267.97ZM609.77 267.77L602.41 273.28L603.7 274.68Z" fill="#1a1a1a"/><text x="545.98" y="244.75" font-size="4.6" text-anchor="middle" fill="#e23f82">O</text><text x="556.9" y="255.49" font-size="4.6" text-anchor="middle" fill="#e23f82">O</text><text x="622.05" y="256.84" font-size="4.6" text-anchor="end" fill="#e23f82" transform="rotate(50 620.35 255.18)">HO</text><text x="610.95" y="245.92" font-size="4.6" text-anchor="middle" fill="#e23f82">O</text><text x="605.24" y="285.04" font-size="4.6" text-anchor="middle" fill="#e23f82">O</text></g>
<path d="M35.5 778L36 779.26L36.5 780.13L37 780.37L37.5 780.54L38 780.68L38.5 780.78L39 780.85L39.5 780.89L40 780.89L40.5 780.64L41 780.2L41.5 779.79L42 779.6L42.5 779.91L43 780.67L43.5 781.65L44 782.61L44.5 783.3L45 783.49L45.5 783.31L46 782.92L46.5 782.39L47 781.82L47.5 781.02L48 779.77L48.5 778.48L49 777.58L49.5 777.49L50 778.26L50.5 779.34L51 780.11L51.5 780.1L52 779.59L52.5 778.81L53 777.96L53.5 777.27L54 776.91L54.5 777.15L55 778.03L55.5 779.3L56 780.7L56.5 781.97L57 782.85L57.5 783.09L58 782.81L58.5 782.2L59 781.37L59.5 780.4L60 778.81L60.5 776.21L61 774.06L61.5 773.74L62 775.04L62.5 776.9L63 778.39L63.5 778.53L64 776.98L64.5 774.61L65 772.45L65.5 771.5L66 772.53L66.5 774.92L67 777.68L67.5 779.77L68 780.58L68.5 781.09L69 781.5L69.5 781.83L70 782.12L70.5 782.4L71 782.7L71.5 783.01L72 783.31L72.5 783.57L73 783.76L73.5 783.88L74 783.87L74.5 783.6L75 783.15L75.5 782.65L76 782.22L76.5 782.01L77 782.08L77.5 782.37L78 782.8L78.5 783.3L79 783.8L79.5 784.23L80 784.52L80.5 784.6L81 784.6L81.5 784.6L82 784.6L82.5 784.6L83 784.6L83.5 784.6L84 784.6L84.5 784.6L85 784.6L85.5 784.6L86 784.57L86.5 784.31L87 783.86L87.5 783.34L88 782.89L88.5 782.63L89 782.68L89.5 783.1L90 783.72L90.5 784.36L91 784.85L91.5 785.05L92 785.17L92.5 785.28L93 785.39L93.5 785.49L94 785.58L94.5 785.66L95 785.74L95.5 785.81L96 785.87L96.5 785.92L97 785.97L97.5 786.01L98 786.04L98.5 786.06L99 786.08L99.5 786.1L100 786.1L100.5 785.99L101 785.63L101.5 785.09L102 784.51L102.5 783.97L103 783.61L103.5 783.5L104 783.56L104.5 783.68L105 783.85L105.5 784.06L106 784.28L106.5 784.52L107 784.74L107.5 784.93L108 785.1L108.5 785.27L109 785.45L109.5 785.64L110 785.83L110.5 786.02L111 786.21L111.5 786.39L112 786.56L112.5 786.71L113 786.86L113.5 786.98L114 787.07L114.5 787.15L115 787.19L115.5 787.2L116 787.1L116.5 786.9L117 786.63L117.5 786.31L118 785.99L118.5 785.7L119 785.47L119.5 785.33L120 785.3L120.5 785.33L121 785.39L121.5 785.47L122 785.57L122.5 785.67L123 785.79L123.5 785.9L124 786.01L124.5 786.11L125 786.2L125.5 786.26L126 786.29L126.5 786.29L127 786.15L127.5 785.91L128 785.62L128.5 785.34L129 785.11L129.5 785L130 785.02L130.5 785.09L131 785.21L131.5 785.36L132 785.53L132.5 785.7L133 785.88L133.5 786.03L134 786.16L134.5 786.26L135 786.3L135.5 786.3L136 786.28L136.5 786.25L137 786.21L137.5 786.15L138 786.07L138.5 785.97L139 785.85L139.5 785.71L140 785.54L140.5 785.34L141 784.15L141.5 780.65L142 775.97L142.5 768.42L143 759.47L143.5 758.84L144 761.42L144.5 764.68L145 769.17L145.5 773.92L146 777.9L146.5 781.84L147 784.34L147.5 784.23L148 782.46L148.5 780.14L149 778.37L149.5 778.11L150 779.16L150.5 780.88L151 782.76L151.5 784.24L152 785.01L152.5 785.68L153 786.27L153.5 786.78L154 787.15L154.5 787.36L155 787.38L155.5 787.14L156 786.69L156.5 786.1L157 785.45L157.5 784.8L158 784.21L158.5 783.76L159 783.52L159.5 783.56L160 783.83L160.5 784.2L161 784.5L161.5 784.57L162 783.86L162.5 782.74L163 782.03L163.5 782.21L164 782.93L164.5 783.97L165 785.09L165.5 786.08L166 786.7L166.5 786.87L167 786.98L167.5 787.07L168 787.15L168.5 787.22L169 787.28L169.5 787.33L170 787.37L170.5 787.39L171 787.4L171.5 787.38L172 787.26L172.5 787.07L173 786.82L173.5 786.53L174 786.23L174.5 785.73L175 785.09L175.5 784.51L176 784.21L176.5 784.35L177 784.87L177.5 785.57L178 786.25L178.5 786.71L179 786.76L179.5 786.31L180 785.53L180.5 784.61L181 783.73L181.5 783.06L182 782.8L182.5 783.07L183 783.73L183.5 784.58L184 785.43L184.5 786.07L185 786.32L185.5 786.39L186 786.45L186.5 786.51L187 786.57L187.5 786.61L188 786.66L188.5 786.69L189 786.72L189.5 786.75L190 786.77L190.5 786.78L191 786.79L191.5 786.8L192 786.79L192.5 786.48L193 785.74L193.5 784.62L194 783.13L194.5 781.3L195 776.18L195.5 770L196 765.74L196.5 762.27L197 761.27L197.5 763.25L198 766.89L198.5 770.84L199 776.74L199.5 781.13L200 781.01L200.5 780.07L201 778.86L201.5 777.8L202 776.62L202.5 775.61L203 775.49L203.5 776.28L204 777.51L204.5 778.88L205 780.85L205.5 782.89L206 784.41L206.5 785.24L207 785.98L207.5 786.64L208 787.18L208.5 787.59L209 787.84L209.5 787.89L210 787.63L210.5 786.98L211 785.94L211.5 784.49L212 782.62L212.5 779.14L213 767.25L213.5 756.3L214 747.38L214.5 740.21L215 738.15L215.5 742.47L216 750.24L216.5 758L217 765.78L217.5 772.97L218 776.48L218.5 779.11L219 781.32L219.5 783.09L220 784.44L220.5 785.36L221 785.87L221.5 786.29L222 786.67L222.5 787.02L223 787.33L223.5 787.6L224 787.84L224.5 788.05L225 788.22L225.5 788.34L226 788.44L226.5 788.49L227 788.5L227.5 788.5L228 788.5L228.5 788.5L229 788.5L229.5 788.5L230 788.5L230.5 788.5L231 788.5L231.5 788.5L232 788.5L232.5 788.5L233 788.5L233.5 788.5L234 788.5L234.5 788.5L235 788.5L235.5 788.5L236 788.5L236.5 788.52L237 788.55L237.5 788.6L238 788.65L238.5 788.72L239 788.79L239.5 788.87L240 788.95L240.5 789.03L241 789.12L241.5 789.2L242 789.28L242.5 789.35L243 789.42L243.5 789.48L244 789.53L244.5 789.57L245 789.59L245.5 789.6L246 789.54L246.5 789.36L247 789.11L247.5 788.79L248 788.45L248.5 788.12L249 787.8L249.5 787.55L250 787.37L250.5 787.23L251 787.08L251.5 786.94L252 786.81L252.5 786.69L253 786.57L253.5 786.48L254 786.4L254.5 786.34L255 786.31L255.5 786.3L256 786.43L256.5 786.7L257 787.08L257.5 787.54L258 788.04L258.5 788.56L259 789.05L259.5 789.49L260 789.83L260.5 790.04L261 790.1L261.5 790.07L262 790.01L262.5 789.92L263 789.81L263.5 789.68L264 789.55L264.5 789.41L265 789.28L265.5 789.16L266 789.05L266.5 788.97L267 788.89L267.5 788.8L268 788.71L268.5 788.63L269 788.55L269.5 788.48L270 788.41L270.5 788.36L271 788.32L271.5 788.3L272 788.31L272.5 788.38L273 788.52L273.5 788.71L274 788.93L274.5 789.18L275 789.42L275.5 789.65L276 789.85L276.5 790L277 790.08L277.5 790.09L278 789.93L278.5 789.62L279 789.2L279.5 788.69L280 788.12L280.5 787.52L281 786.71L281.5 785.42L282 783.93L282.5 782.55L283 781.58L283.5 781.32L284 781.98L284.5 783.3L285 784.89L285.5 786.38L286 787.4L286.5 788.05L287 788.68L287.5 789.28L288 789.82L288.5 790.3L289 790.69L289.5 790.98L290 791.15L290.5 791.19L291 790.89L291.5 790.21L292 789.22L292.5 787.99L293 786.59L293.5 784.95L294 782.11L294.5 778.79L295 775.8L295.5 772.66L296 771.57L296.5 773.42L297 776.43L297.5 779.85L298 784.02L298.5 786.8L299 788.07L299.5 789.17L300 790.06L300.5 790.71L301 791.1L301.5 791.2L302 791.17L302.5 791.09L303 790.98L303.5 790.82L304 790.62L304.5 790.39L305 790.11L305.5 789.8L306 789.39L306.5 788.36L307 786.77L307.5 784.85L308 782.83L308.5 780.93L309 778.88L309.5 776.67L310 774.53L310.5 772.64L311 770.62L311.5 768.93L312 768.46L312.5 770.13L313 772.28L313.5 772.16L314 769.38L314.5 763.21L315 750.8L315.5 731.37L316 708.56L316.5 690.57L316.9 685.5L317 685.75L317.5 691.78L318 704.58L318.5 721.02L319 737.54L319.5 751.52L320 761.84L320.5 768.54L321 772.47L321.5 774.48L322 775.38L322.5 776.05L323 776.84L323.5 777.69L324 778.56L324.5 779.43L325 780.32L325.5 781.22L326 782.12L326.5 783.11L327 784.3L327.5 785.54L328 786.72L328.5 787.69L329 788.33L329.5 788.47L330 787.46L330.5 785.43L331 782.94L331.5 780.53L332 778.14L332.5 775.23L333 772.48L333.5 770.65L334 770.52L334.5 772.66L335 776.12L335.5 779.72L336 782.3L336.5 783.99L337 785.62L337.5 787.13L338 788.4L338.5 789.36L339 789.9L339.5 790L340 789.98L340.5 789.95L341 789.91L341.5 789.85L342 789.78L342.5 789.7L343 789.62L343.5 789.53L344 789.43L344.5 789.34L345 789.23L345.5 789.08L346 788.88L346.5 788.64L347 788.39L347.5 788.12L348 787.84L348.5 787.58L349 787.33L349.5 787.11L350 786.92L350.5 786.79L351 786.71L351.5 786.71L352 786.77L352.5 786.9L353 787.07L353.5 787.25L354 787.43L354.5 787.6L355 787.73L355.5 787.79L356 787.77L356.5 787.58L357 787.19L357.5 786.58L358 785.72L358.5 784.58L359 782.72L359.5 774.71L360 758.37L360.5 730.18L361 690.81L361.5 648.13L362 615.99L362.4 607L362.5 607.43L363 618.36L363.5 642.37L364 673.81L364.5 705.89L365 733.73L365.5 754.67L366 768.66L366.5 776.92L367 781.34L367.5 782.66L368 783.49L368.5 784.07L369 784.61L369.5 785.18L370 785.74L370.5 786.25L371 786.67L371.5 786.96L372 787.1L372.5 787.03L373 786.77L373.5 786.39L374 785.96L374.5 785.52L375 785.16L375.5 784.94L376 784.93L376.5 785.19L377 785.68L377.5 786.3L378 786.97L378.5 787.61L379 788.13L379.5 788.44L380 788.5L380.5 788.47L381 788.41L381.5 788.34L382 788.25L382.5 788.15L383 788.05L383.5 787.96L384 787.89L384.5 787.83L385 787.8L385.5 787.84L386 788.04L386.5 788.39L387 788.82L387.5 789.3L388 789.76L388.5 790.16L389 790.46L389.5 790.6L390 790.33L390.5 789.31L391 787.64L391.5 785.46L392 782.91L392.5 780.1L393 775.46L393.5 770L394 764.79L394.5 762.73L395 766.08L395.5 771.01L396 777.9L396.5 783.88L397 786.31L397.5 788.19L398 789.59L398.5 790.41L399 790.64L399.5 790.73L400 790.81L400.5 790.87L401 790.92L401.5 790.96L402 790.99L402.5 791.02L403 791.05L403.5 791.08L404 791.11L404.5 791.14L405 791.17L405.5 791.2L406 791.24L406.5 791.27L407 791.3L407.5 791.33L408 791.36L408.5 791.38L409 791.41L409.5 791.43L410 791.45L410.5 791.47L411 791.48L411.5 791.49L412 791.5L412.5 791.5L413 791.49L413.5 791.46L414 791.41L414.5 791.34L415 791.25L415.5 791.15L416 791.02L416.5 790.89L417 790.73L417.5 790.56L418 790.12L418.5 789.42L419 788.64L419.5 787.94L420 787.49L420.5 787.46L421 788L421.5 788.91L422 789.91L422.5 790.74L423 791.14L423.5 791.35L424 791.55L424.5 791.73L425 791.89L425.5 792.04L426 792.18L426.5 792.3L427 792.41L427.5 792.49L428 792.57L428.5 792.63L429 792.67L429.5 792.69L430 792.7L430.5 792.68L431 792.61L431.5 792.5L432 792.37L432.5 792.22L433 792.07L433.5 791.91L434 791.76L434.5 791.62L435 791.51L435.5 791.44L436 791.4L436.5 791.42L437 791.48L437.5 791.59L438 791.74L438.5 791.91L439 792.1L439.5 792.31L440 792.52L440.5 792.73L441 792.94L441.5 793.13L442 793.3L442.5 793.43L443 793.53L443.5 793.59L444 793.6L444.5 793.6L445 793.6L445.5 793.6L446 793.6L446.5 793.6L447 793.6L447.5 793.6L448 793.6L448.5 793.6L449 793.6L449.5 793.6L450 793.6L450.5 793.6L451 793.6L451.5 793.6L452 793.6L452.5 793.6L453 793.6L453.5 793.6L454 793.6L454.5 793.6L455 793.6L455.5 793.6L456 793.6L456.5 793.6L457 793.6L457.5 793.6L458 793.6L458.5 793.6L459 793.59L459.5 793.58L460 793.56L460.5 793.55L461 793.52L461.5 793.5L462 793.47L462.5 793.44L463 793.4L463.5 793.36L464 793.31L464.5 793.26L465 793.2L465.5 793.14L466 793.08L466.5 793L467 792.93L467.5 792.84L468 792.76L468.5 792.64L469 792.28L469.5 791.72L470 791.05L470.5 790.37L471 789.73L471.5 788.91L472 788.24L472.5 788.15L473 788.67L473.5 789.49L474 790.42L474.5 791.89L475 792.95L475.5 793.07L476 793.15L476.5 793.22L477 793.28L477.5 793.34L478 793.39L478.5 793.43L479 793.47L479.5 793.5L480 793.52L480.5 793.55L481 793.56L481.5 793.58L482 793.59L482.5 793.59L483 793.6L483.5 793.6L484 793.6L484.5 793.58L485 793.56L485.5 793.54L486 793.5L486.5 793.46L487 793.41L487.5 793.36L488 793.3L488.5 793.25L489 793.18L489.5 793.12L490 793.05L490.5 792.99L491 792.92L491.5 792.86L492 792.8L492.5 792.73L493 792.68L493.5 792.63L494 792.58L494.5 792.54L495 792.49L495.5 792.44L496 792.39L496.5 792.32L497 792.24L497.5 792.14L498 792.03L498.5 791.78L499 791.26L499.5 790.56L500 789.81L500.5 789.12L501 788.44L501.5 787.73L502 787.4L502.5 787.7L503 788.38L503.5 789.17L504 790.38L504.5 791.75L505 792.64L505.5 792.84L506 793L506.5 793.14L507 793.26L507.5 793.36L508 793.44L508.5 793.5L509 793.55L509.5 793.58L510 793.6L510.5 793.58L511 793.4L511.5 793.06L512 792.63L512.5 792.16L513 791.72L513.5 791.36L514 791.14L514.5 791.11L515 791.22L515.5 791.42L516 791.69L516.5 791.99L517 792.3L517.5 792.58L518 792.81L518.5 792.96L519 793L519.5 792.98L520 792.95L520.5 792.9L521 792.83L521.5 792.75L522 792.66L522.5 792.56L523 792.45L523.5 792.34L524 792.23L524.5 792.11L525 792L525.5 791.86L526 791.68L526.5 791.47L527 791.25L527.5 791.04L528 790.84L528.5 790.67L529 790.55L529.5 790.5L530 790.54L530.5 790.69L531 790.92L531.5 791.2L532 791.51L532.5 791.81L533 792.08L533.5 792.28L534 792.39L534.5 792.36L535 792.14L535.5 791.78L536 791.34L536.5 790.91L537 790.53L537.5 790.27L538 790.2L538.5 790.34L539 790.62L539.5 791L540 791.43L540.5 791.87L541 792.26L541.5 792.56L542 792.72L542.5 792.82L543 792.92L543.5 793.02L544 793.11L544.5 793.19L545 793.28L545.5 793.35L546 793.43L546.5 793.49L547 793.56L547.5 793.61L548 793.67L548.5 793.71L549 793.75L549.5 793.79L550 793.82L550.5 793.85L551 793.87L551.5 793.89L552 793.9L552.5 793.9L553 793.9L553.5 793.9L554 793.9L554.5 793.89L555 793.89L555.5 793.88L556 793.87L556.5 793.87L557 793.86L557.5 793.85L558 793.84L558.5 793.83L559 793.82L559.5 793.81L560 793.79L560.5 793.78L561 793.77L561.5 793.76L562 793.75L562.5 793.73L563 793.72L563.5 793.71L564 793.7L564.5 793.69L565 793.67L565.5 793.66L566 793.65L566.5 793.65L567 793.64L567.5 793.63L568 793.62L568.5 793.62L569 793.61L569.5 793.61L570 793.6L570.5 793.6L571 793.6L571.5 793.6L572 793.61L572.5 793.61L573 793.62L573.5 793.63L574 793.64L574.5 793.66L575 793.67L575.5 793.69L576 793.71L576.5 793.73L577 793.75L577.5 793.77L578 793.79L578.5 793.82L579 793.84L579.5 793.87L580 793.89L580.5 793.91L581 793.94L581.5 793.96L582 793.99L582.5 794.01L583 794.03L583.5 794.05L584 794.08L584.5 794.1L585 794.11L585.5 794.13L586 794.15L586.5 794.16L587 794.17L587.5 794.18L588 794.19L588.5 794.2L589 794.2L589.5 794.2L590 794.2L590.5 794.19L591 794.19L591.5 794.18L592 794.17L592.5 794.15L593 794.14L593.5 794.12L594 794.11L594.5 794.09L595 794.07L595.5 794.05L596 794.02L596.5 794L597 793.98L597.5 793.95L598 793.93L598.5 793.9L599 793.88L599.5 793.86L600 793.83L600.5 793.81L601 793.79L601.5 793.76L602 793.74L602.5 793.72L603 793.7L603.5 793.68L604 793.67L604.5 793.65L605 793.64L605.5 793.63L606 793.62L606.5 793.61L607 793.6L607.5 793.6L608 793.6L608.5 793.6L609 793.6L609.5 793.6L610 793.6L610.5 793.61L611 793.61L611.5 793.61L612 793.61L612.5 793.62L613 793.62L613.5 793.62L614 793.63L614.5 793.63L615 793.64L615.5 793.65L616 793.65L616.5 793.66L617 793.67L617.5 793.68L618 793.68L618.5 793.69L619 793.7L619.5 793.71L620 793.72L620.5 793.74L621 793.75L621.5 793.76L622 793.77L622.5 793.79L623 793.8L623.5 793.82L624 793.83L624.5 793.85L625 793.87L625.5 793.88L626 793.9L626.5 793.92L627 793.94L627.5 793.96L628 793.98L628.5 794.01L629 794.03L629.5 794.05L630 794.08L630.5 794.1L631 794.13L631.5 794.16L632 794.18" stroke="#e2245c" stroke-width="1.45" fill="none" stroke-linejoin="round"/>
<path d="M35.5 778L36 779.26L36.5 780.13L37 780.37L37.5 780.54L38 780.68L38.5 780.78L39 780.85L39.5 780.89L40 780.89L40.5 780.64L41 780.2L41.5 779.79L42 779.6L42.5 779.91L43 780.67L43.5 781.65L44 782.61L44.5 783.3L45 783.49L45.5 783.31L46 782.92L46.5 782.39L47 781.82L47.5 781.02L48 779.77L48.5 778.48L49 777.58L49.5 777.49L50 778.26L50.5 779.34L51 780.11L51.5 780.1L52 779.59L52.5 778.81L53 777.96L53.5 777.27L54 776.91L54.5 777.15L55 778.03L55.5 779.3L56 780.7L56.5 781.97L57 782.85L57.5 783.09L58 782.81L58.5 782.2L59 781.37L59.5 780.4L60 778.81L60.5 776.21L61 774.06L61.5 773.74L62 775.04L62.5 776.9L63 778.39L63.5 778.53L64 776.98L64.5 774.61L65 772.45L65.5 771.5L66 772.53L66.5 774.92L67 777.68L67.5 779.77L68 780.58L68.5 781.09L69 781.5L69.5 781.83L70 782.12L70.5 782.4L71 782.7L71.5 783.01L72 783.31L72.5 783.57L73 783.76L73.5 783.88L74 783.87L74.5 783.6L75 783.15L75.5 782.65L76 782.22L76.5 782.01L77 782.08L77.5 782.37L78 782.8L78.5 783.3L79 783.8L79.5 784.23L80 784.52L80.5 784.6L81 784.6L81.5 784.6L82 784.6L82.5 784.6L83 784.6L83.5 784.6L84 784.6L84.5 784.6L85 784.6L85.5 784.6L86 784.57L86.5 784.31L87 783.86L87.5 783.34L88 782.89L88.5 782.63L89 782.68L89.5 783.1L90 783.72L90.5 784.36L91 784.85L91.5 785.05L92 785.17L92.5 785.28L93 785.39L93.5 785.49L94 785.58L94.5 785.66L95 785.74L95.5 785.81L96 785.87L96.5 785.92L97 785.97L97.5 786.01L98 786.04L98.5 786.06L99 786.08L99.5 786.1L100 786.1L100.5 785.99L101 785.63L101.5 785.09L102 784.51L102.5 783.97L103 783.61L103.5 783.5L104 783.56L104.5 783.68L105 783.85L105.5 784.06L106 784.28L106.5 784.52L107 784.74L107.5 784.93L108 785.1L108.5 785.27L109 785.45L109.5 785.64L110 785.83L110.5 786.02L111 786.21L111.5 786.39L112 786.56L112.5 786.71L113 786.86L113.5 786.98L114 787.07L114.5 787.15L115 787.19L115.5 787.2L116 787.1L116.5 786.9L117 786.63L117.5 786.31L118 785.99L118.5 785.7L119 785.47L119.5 785.33L120 785.3L120.5 785.33L121 785.39L121.5 785.47L122 785.57L122.5 785.67L123 785.79L123.5 785.9L124 786.01L124.5 786.11L125 786.2L125.5 786.26L126 786.29L126.5 786.29L127 786.15L127.5 785.91L128 785.62L128.5 785.34L129 785.11L129.5 785L130 785.02L130.5 785.09L131 785.21L131.5 785.36L132 785.53L132.5 785.7L133 785.88L133.5 786.03L134 786.16L134.5 786.26L135 786.3L135.5 786.3L136 786.28L136.5 786.25L137 786.21L137.5 786.15L138 786.07L138.5 785.97L139 785.85L139.5 785.71L140 785.54L140.5 785.34L141 784.15L141.5 780.65L142 775.97L142.5 768.42L143 759.47L143.5 758.84L144 761.42L144.5 764.68L145 769.17L145.5 773.92L146 777.9L146.5 781.84L147 784.34L147.5 784.23L148 782.46L148.5 780.14L149 778.37L149.5 778.11L150 779.16L150.5 780.88L151 782.76L151.5 784.24L152 785.01L152.5 785.68L153 786.27L153.5 786.78L154 787.15L154.5 787.36L155 787.38L155.5 787.14L156 786.69L156.5 786.1L157 785.45L157.5 784.8L158 784.21L158.5 783.76L159 783.52L159.5 783.56L160 783.83L160.5 784.2L161 784.5L161.5 784.57L162 783.86L162.5 782.74L163 782.03L163.5 782.21L164 782.93L164.5 783.97L165 785.09L165.5 786.08L166 786.7L166.5 786.87L167 786.98L167.5 787.07L168 787.15L168.5 787.22L169 787.28L169.5 787.33L170 787.37L170.5 787.39L171 787.4L171.5 787.38L172 787.26L172.5 787.07L173 786.82L173.5 786.53L174 786.23L174.5 785.73L175 785.09L175.5 784.51L176 784.21L176.5 784.35L177 784.87L177.5 785.57L178 786.25L178.5 786.71L179 786.76L179.5 786.31L180 785.53L180.5 784.61L181 783.73L181.5 783.06L182 782.8L182.5 783.07L183 783.73L183.5 784.58L184 785.43L184.5 786.07L185 786.32L185.5 786.39L186 786.45L186.5 786.51L187 786.57L187.5 786.61L188 786.66L188.5 786.69L189 786.72L189.5 786.75L190 786.77L190.5 786.78L191 786.79L191.5 786.8L192 786.79L192.5 786.48L193 785.74L193.5 784.62L194 783.13L194.5 781.3L195 776.18L195.5 770L196 765.74L196.5 762.27L197 761.27L197.5 763.25L198 766.89L198.5 770.84L199 776.74L199.5 781.13L200 781.01L200.5 780.07L201 778.86L201.5 777.8L202 776.62L202.5 775.61L203 775.49L203.5 776.28L204 777.51L204.5 778.88L205 780.85L205.5 782.89L206 784.41L206.5 785.24L207 785.98L207.5 786.64L208 787.18L208.5 787.59L209 787.84L209.5 787.89L210 787.63L210.5 786.98L211 785.94L211.5 784.49L212 782.62L212.5 779.14L213 767.25L213.5 756.3L214 747.38L214.5 740.21L215 738.15L215.5 742.47L216 750.24L216.5 758L217 765.78L217.5 772.97L218 776.48L218.5 779.11L219 781.32L219.5 783.09L220 784.44L220.5 785.36L221 785.87L221.5 786.29L222 786.67L222.5 787.02L223 787.33L223.5 787.6L224 787.84L224.5 788.05L225 788.22L225.5 788.34L226 788.44L226.5 788.49L227 788.5L227.5 788.5L228 788.5L228.5 788.5L229 788.5L229.5 788.5L230 788.5L230.5 788.5L231 788.5L231.5 788.5L232 788.5L232.5 788.5L233 788.5L233.5 788.5L234 788.5L234.5 788.5L235 788.5L235.5 788.5L236 788.5L236.5 788.52L237 788.55L237.5 788.6L238 788.65L238.5 788.72L239 788.79L239.5 788.87L240 788.95L240.5 789.03L241 789.12L241.5 789.2L242 789.28L242.5 789.35L243 789.42L243.5 789.48L244 789.53L244.5 789.57L245 789.59L245.5 789.6L246 789.54L246.5 789.36L247 789.11L247.5 788.79L248 788.45L248.5 788.12L249 787.8L249.5 787.55L250 787.37L250.5 787.23L251 787.08L251.5 786.94L252 786.81L252.5 786.69L253 786.57L253.5 786.48L254 786.4L254.5 786.34L255 786.31L255.5 786.3L256 786.43L256.5 786.7L257 787.08L257.5 787.54L258 788.04L258.5 788.56L259 789.05L259.5 789.49L260 789.83L260.5 790.04L261 790.1L261.5 790.07L262 790.01L262.5 789.92L263 789.81L263.5 789.68L264 789.55L264.5 789.41L265 789.28L265.5 789.16L266 789.05L266.5 788.97L267 788.89L267.5 788.8L268 788.71L268.5 788.63L269 788.55L269.5 788.48L270 788.41L270.5 788.36L271 788.32L271.5 788.3L272 788.31L272.5 788.38L273 788.52L273.5 788.71L274 788.93L274.5 789.18L275 789.42L275.5 789.65L276 789.85L276.5 790L277 790.08L277.5 790.09L278 789.93L278.5 789.62L279 789.2L279.5 788.69L280 788.12L280.5 787.52L281 786.71L281.5 785.42L282 783.93L282.5 782.55L283 781.58L283.5 781.32L284 781.98L284.5 783.3L285 784.89L285.5 786.38L286 787.4L286.5 788.05L287 788.68L287.5 789.28L288 789.82L288.5 790.3L289 790.69L289.5 790.98L290 791.15L290.5 791.19L291 790.89L291.5 790.21L292 789.22L292.5 787.99L293 786.59L293.5 784.95L294 782.11L294.5 778.79L295 775.8L295.5 772.66L296 771.57L296.5 773.42L297 776.43L297.5 779.85L298 784.02L298.5 786.8L299 788.07L299.5 789.17L300 790.06L300.5 790.71L301 791.1L301.5 791.2L302 791.17L302.5 791.09L303 790.98L303.5 790.82L304 790.62L304.5 790.39L305 790.11L305.5 789.8L306 789.39L306.5 788.36L307 786.77L307.5 784.85L308 782.83L308.5 780.93L309 778.88L309.5 776.67L310 774.53L310.5 772.64L311 770.62L311.5 768.93L312 768.46L312.5 770.13L313 772.28L313.5 772.16L314 769.38L314.5 763.21L315 750.8L315.5 731.37L316 708.56L316.5 690.57L316.9 685.5L317 685.75L317.5 691.78L318 704.58L318.5 721.02L319 737.54L319.5 751.52L320 761.84L320.5 768.54L321 772.47L321.5 774.48L322 775.38L322.5 776.05L323 776.84L323.5 777.69L324 778.56L324.5 779.43L325 780.32L325.5 781.22L326 782.12L326.5 783.11L327 784.3L327.5 785.54L328 786.72L328.5 787.69L329 788.33L329.5 788.47L330 787.46L330.5 785.43L331 782.94L331.5 780.53L332 778.14L332.5 775.23L333 772.48L333.5 770.65L334 770.52L334.5 772.66L335 776.12L335.5 779.72L336 782.3L336.5 783.99L337 785.62L337.5 787.13L338 788.4L338.5 789.36L339 789.9L339.5 790L340 789.98L340.5 789.95L341 789.91L341.5 789.85L342 789.78L342.5 789.7L343 789.62L343.5 789.53L344 789.43L344.5 789.34L345 789.23L345.5 789.08L346 788.88L346.5 788.64L347 788.39L347.5 788.12L348 787.84L348.5 787.58L349 787.33L349.5 787.11L350 786.92L350.5 786.79L351 786.71L351.5 786.71L352 786.77L352.5 786.9L353 787.07L353.5 787.25L354 787.43L354.5 787.6L355 787.73L355.5 787.79L356 787.77L356.5 787.58L357 787.19L357.5 786.58L358 785.72L358.5 784.58L359 782.72L359.5 774.71L360 758.37L360.5 730.18L361 690.81L361.5 648.13L362 615.99L362.4 607L362.5 607.43L363 618.36L363.5 642.37L364 673.81L364.5 705.89L365 733.73L365.5 754.67L366 768.66L366.5 776.92L367 781.34L367.5 782.66L368 783.49L368.5 784.07L369 784.61L369.5 785.18L370 785.74L370.5 786.25L371 786.67L371.5 786.96L372 787.1L372.5 787.03L373 786.77L373.5 786.39L374 785.96L374.5 785.52L375 785.16L375.5 784.94L376 784.93L376.5 785.19L377 785.68L377.5 786.3L378 786.97L378.5 787.61L379 788.13L379.5 788.44L380 788.5L380.5 788.47L381 788.41L381.5 788.34L382 788.25L382.5 788.15L383 788.05L383.5 787.96L384 787.89L384.5 787.83L385 787.8L385.5 787.84L386 788.04L386.5 788.39L387 788.82L387.5 789.3L388 789.76L388.5 790.16L389 790.46L389.5 790.6L390 790.33L390.5 789.31L391 787.64L391.5 785.46L392 782.91L392.5 780.1L393 775.46L393.5 770L394 764.79L394.5 762.73L395 766.08L395.5 771.01L396 777.9L396.5 783.88L397 786.31L397.5 788.19L398 789.59L398.5 790.41L399 790.64L399.5 790.73L400 790.81L400.5 790.87L401 790.92L401.5 790.96L402 790.99L402.5 791.02L403 791.05L403.5 791.08L404 791.11L404.5 791.14L405 791.17L405.5 791.2L406 791.24L406.5 791.27L407 791.3L407.5 791.33L408 791.36L408.5 791.38L409 791.41L409.5 791.43L410 791.45L410.5 791.47L411 791.48L411.5 791.49L412 791.5L412.5 791.5L413 791.49L413.5 791.46L414 791.41L414.5 791.34L415 791.25L415.5 791.15L416 791.02L416.5 790.89L417 790.73L417.5 790.56L418 790.12L418.5 789.42L419 788.64L419.5 787.94L420 787.49L420.5 787.46L421 788L421.5 788.91L422 789.91L422.5 790.74L423 791.14L423.5 791.35L424 791.55L424.5 791.73L425 791.89L425.5 792.04L426 792.18L426.5 792.3L427 792.41L427.5 792.49L428 792.57L428.5 792.63L429 792.67L429.5 792.69L430 792.7L430.5 792.68L431 792.61L431.5 792.5L432 792.37L432.5 792.22L433 792.07L433.5 791.91L434 791.76L434.5 791.62L435 791.51L435.5 791.44L436 791.4L436.5 791.42L437 791.48L437.5 791.59L438 791.74L438.5 791.91L439 792.1L439.5 792.31L440 792.52L440.5 792.73L441 792.94L441.5 793.13L442 793.3L442.5 793.43L443 793.53L443.5 793.59L444 793.6L444.5 793.6L445 793.6L445.5 793.6L446 793.6L446.5 793.6L447 793.6L447.5 793.6L448 793.6L448.5 793.6L449 793.6L449.5 793.6L450 793.6L450.5 793.6L451 793.6L451.5 793.6L452 793.6L452.5 793.6L453 793.6L453.5 793.6L454 793.6L454.5 793.6L455 793.6L455.5 793.6L456 793.6L456.5 793.6L457 793.6L457.5 793.6L458 793.6L458.5 793.6L459 793.59L459.5 793.58L460 793.56L460.5 793.55L461 793.52L461.5 793.5L462 793.47L462.5 793.44L463 793.4L463.5 793.36L464 793.31L464.5 793.26L465 793.2L465.5 793.14L466 793.08L466.5 793L467 792.93L467.5 792.84L468 792.76L468.5 792.64L469 792.28L469.5 791.72L470 791.05L470.5 790.37L471 789.73L471.5 788.91L472 788.24L472.5 788.15L473 788.67L473.5 789.49L474 790.42L474.5 791.89L475 792.95L475.5 793.07L476 793.15L476.5 793.22L477 793.28L477.5 793.34L478 793.39L478.5 793.43L479 793.47L479.5 793.5L480 793.52L480.5 793.55L481 793.56L481.5 793.58L482 793.59L482.5 793.59L483 793.6L483.5 793.6L484 793.6L484.5 793.58L485 793.56L485.5 793.54L486 793.5L486.5 793.46L487 793.41L487.5 793.36L488 793.3L488.5 793.25L489 793.18L489.5 793.12L490 793.05L490.5 792.99L491 792.92L491.5 792.86L492 792.8L492.5 792.73L493 792.68L493.5 792.63L494 792.58L494.5 792.54L495 792.49L495.5 792.44L496 792.39L496.5 792.32L497 792.24L497.5 792.14L498 792.03L498.5 791.78L499 791.26L499.5 790.56L500 789.81L500.5 789.12L501 788.44L501.5 787.73L502 787.4L502.5 787.7L503 788.38L503.5 789.17L504 790.38L504.5 791.75L505 792.64L505.5 792.84L506 793L506.5 793.14L507 793.26L507.5 793.36L508 793.44L508.5 793.5L509 793.55L509.5 793.58L510 793.6L510.5 793.58L511 793.4L511.5 793.06L512 792.63L512.5 792.16L513 791.72L513.5 791.36L514 791.14L514.5 791.11L515 791.22L515.5 791.42L516 791.69L516.5 791.99L517 792.3L517.5 792.58L518 792.81L518.5 792.96L519 793L519.5 792.98L520 792.95L520.5 792.9L521 792.83L521.5 792.75L522 792.66L522.5 792.56L523 792.45L523.5 792.34L524 792.23L524.5 792.11L525 792L525.5 791.86L526 791.68L526.5 791.47L527 791.25L527.5 791.04L528 790.84L528.5 790.67L529 790.55L529.5 790.5L530 790.54L530.5 790.69L531 790.92L531.5 791.2L532 791.51L532.5 791.81L533 792.08L533.5 792.28L534 792.39L534.5 792.36L535 792.14L535.5 791.78L536 791.34L536.5 790.91L537 790.53L537.5 790.27L538 790.2L538.5 790.34L539 790.62L539.5 791L540 791.43L540.5 791.87L541 792.26L541.5 792.56L542 792.72L542.5 792.82L543 792.92L543.5 793.02L544 793.11L544.5 793.19L545 793.28L545.5 793.35L546 793.43L546.5 793.49L547 793.56L547.5 793.61L548 793.67L548.5 793.71L549 793.75L549.5 793.79L550 793.82L550.5 793.85L551 793.87L551.5 793.89L552 793.9L552.5 793.9L553 793.9L553.5 793.9L554 793.9L554.5 793.89L555 793.89L555.5 793.88L556 793.87L556.5 793.87L557 793.86L557.5 793.85L558 793.84L558.5 793.83L559 793.82L559.5 793.81L560 793.79L560.5 793.78L561 793.77L561.5 793.76L562 793.75L562.5 793.73L563 793.72L563.5 793.71L564 793.7L564.5 793.69L565 793.67L565.5 793.66L566 793.65L566.5 793.65L567 793.64L567.5 793.63L568 793.62L568.5 793.62L569 793.61L569.5 793.61L570 793.6L570.5 793.6L571 793.6L571.5 793.6L572 793.61L572.5 793.61L573 793.62L573.5 793.63L574 793.64L574.5 793.66L575 793.67L575.5 793.69L576 793.71L576.5 793.73L577 793.75L577.5 793.77L578 793.79L578.5 793.82L579 793.84L579.5 793.87L580 793.89L580.5 793.91L581 793.94L581.5 793.96L582 793.99L582.5 794.01L583 794.03L583.5 794.05L584 794.08L584.5 794.1L585 794.11L585.5 794.13L586 794.15L586.5 794.16L587 794.17L587.5 794.18L588 794.19L588.5 794.2L589 794.2L589.5 794.2L590 794.2L590.5 794.19L591 794.19L591.5 794.18L592 794.17L592.5 794.15L593 794.14L593.5 794.12L594 794.11L594.5 794.09L595 794.07L595.5 794.05L596 794.02L596.5 794L597 793.98L597.5 793.95L598 793.93L598.5 793.9L599 793.88L599.5 793.86L600 793.83L600.5 793.81L601 793.79L601.5 793.76L602 793.74L602.5 793.72L603 793.7L603.5 793.68L604 793.67L604.5 793.65L605 793.64L605.5 793.63L606 793.62L606.5 793.61L607 793.6L607.5 793.6L608 793.6L608.5 793.6L609 793.6L609.5 793.6L610 793.6L610.5 793.61L611 793.61L611.5 793.61L612 793.61L612.5 793.62L613 793.62L613.5 793.62L614 793.63L614.5 793.63L615 793.64L615.5 793.65L616 793.65L616.5 793.66L617 793.67L617.5 793.68L618 793.68L618.5 793.69L619 793.7L619.5 793.71L620 793.72L620.5 793.74L621 793.75L621.5 793.76L622 793.77L622.5 793.79L623 793.8L623.5 793.82L624 793.83L624.5 793.85L625 793.87L625.5 793.88L626 793.9L626.5 793.92L627 793.94L627.5 793.96L628 793.98L628.5 794.01L629 794.03L629.5 794.05L630 794.08L630.5 794.1L631 794.13L631.5 794.16L632 794.18" stroke="#d828b4" stroke-width="0.7" fill="none" stroke-linejoin="round"/>
<path d="M35.6 792.7L36.1 792.7L36.6 792.7L37.1 792.7L37.6 792.7L38.1 792.7L38.6 792.7L39.1 792.71L39.6 792.71L40.1 792.71L40.6 792.71L41.1 792.71L41.6 792.71L42.1 792.71L42.6 792.71L43.1 792.71L43.6 792.71L44.1 792.71L44.6 792.71L45.1 792.72L45.6 792.72L46.1 792.72L46.6 792.72L47.1 792.72L47.6 792.72L48.1 792.72L48.6 792.72L49.1 792.72L49.6 792.72L50.1 792.73L50.6 792.73L51.1 792.73L51.6 792.73L52.1 792.73L52.6 792.73L53.1 792.73L53.6 792.73L54.1 792.73L54.6 792.73L55.1 792.74L55.6 792.74L56.1 792.74L56.6 792.74L57.1 792.74L57.6 792.74L58.1 792.74L58.6 792.74L59.1 792.75L59.6 792.75L60.1 792.75L60.6 792.75L61.1 792.75L61.6 792.75L62.1 792.75L62.6 792.75L63.1 792.75L63.6 792.76L64.1 792.76L64.6 792.76L65.1 792.76L65.6 792.76L66.1 792.76L66.6 792.76L67.1 792.76L67.6 792.77L68.1 792.77L68.6 792.77L69.1 792.77L69.6 792.77L70.1 792.77L70.6 792.77L71.1 792.78L71.6 792.78L72.1 792.78L72.6 792.78L73.1 792.78L73.6 792.78L74.1 792.78L74.6 792.78L75.1 792.79L75.6 792.79L76.1 792.79L76.6 792.79L77.1 792.79L77.6 792.79L78.1 792.79L78.6 792.8L79.1 792.8L79.6 792.8L80.1 792.8L80.6 792.8L81.1 792.8L81.6 792.8L82.1 792.81L82.6 792.81L83.1 792.81L83.6 792.81L84.1 792.81L84.6 792.81L85.1 792.81L85.6 792.82L86.1 792.82L86.6 792.82L87.1 792.82L87.6 792.82L88.1 792.82L88.6 792.82L89.1 792.83L89.6 792.83L90.1 792.83L90.6 792.83L91.1 792.83L91.6 792.83L92.1 792.83L92.6 792.84L93.1 792.84L93.6 792.84L94.1 792.84L94.6 792.84L95.1 792.84L95.6 792.84L96.1 792.85L96.6 792.85L97.1 792.85L97.6 792.85L98.1 792.85L98.6 792.85L99.1 792.86L99.6 792.86L100.1 792.86L100.6 792.86L101.1 792.86L101.6 792.86L102.1 792.87L102.6 792.87L103.1 792.87L103.6 792.87L104.1 792.87L104.6 792.87L105.1 792.88L105.6 792.88L106.1 792.88L106.6 792.88L107.1 792.88L107.6 792.89L108.1 792.89L108.6 792.89L109.1 792.89L109.6 792.89L110.1 792.9L110.6 792.9L111.1 792.9L111.6 792.9L112.1 792.9L112.6 792.91L113.1 792.91L113.6 792.91L114.1 792.91L114.6 792.91L115.1 792.92L115.6 792.92L116.1 792.92L116.6 792.92L117.1 792.93L117.6 792.93L118.1 792.93L118.6 792.93L119.1 792.94L119.6 792.94L120.1 792.94L120.6 792.94L121.1 792.95L121.6 792.95L122.1 792.95L122.6 792.95L123.1 792.96L123.6 792.96L124.1 792.96L124.6 792.97L125.1 792.97L125.6 792.97L126.1 792.97L126.6 792.98L127.1 792.98L127.6 792.98L128.1 792.99L128.6 792.99L129.1 792.99L129.6 793L130.1 793L130.6 793L131.1 793.01L131.6 793.02L132.1 793.02L132.6 793.03L133.1 793.04L133.6 793.05L134.1 793.05L134.6 793.06L135.1 793.07L135.6 793.08L136.1 793.08L136.6 793.09L137.1 793.09L137.6 793.1L138.1 793.1L138.6 793.1L139.1 792.98L139.6 792.66L140.1 792.11L140.6 791.29L141.1 787.28L141.6 776.82L142.1 756.99L142.6 729.41L143.1 703.51L143.6 692.8L144.1 698.63L144.6 714.08L145.1 734.46L145.6 754.53L146.1 770.62L146.6 781.53L147.1 787.91L147.6 791.13L148.1 793.28L148.6 793.4L149.1 793.4L149.6 793.4L150.1 793.4L150.6 793.4L151.1 793.4L151.6 793.4L152.1 793.4L152.6 793.4L153.1 793.4L153.6 793.4L154.1 793.4L154.6 793.4L155.1 793.4L155.6 793.4L156.1 793.4L156.6 793.4L157.1 793.4L157.6 793.4L158.1 793.4L158.6 793.4L159.1 793.4L159.6 793.4L160.1 793.4L160.6 793.4L161.1 793.4L161.6 793.4L162.1 793.4L162.6 793.4L163.1 793.4L163.6 793.4L164.1 793.4L164.6 793.39L165.1 793.39L165.6 793.39L166.1 793.39L166.6 793.39L167.1 793.38L167.6 793.38L168.1 793.38L168.6 793.37L169.1 793.37L169.6 793.36L170.1 793.36L170.6 793.35L171.1 793.35L171.6 793.34L172.1 793.33L172.6 793.32L173.1 793.32L173.6 793.31L174.1 793.29L174.6 793.14L175.1 792.87L175.6 792.6L176.1 792.3L176.6 791.99L177.1 791.81L177.6 791.91L178.1 792.24L178.6 792.62L179.1 792.9L179.6 793.15L180.1 793.34L180.6 793.4L181.1 793.4L181.6 793.4L182.1 793.4L182.6 793.4L183.1 793.4L183.6 793.4L184.1 793.4L184.6 793.4L185.1 793.4L185.6 793.4L186.1 793.4L186.6 793.4L187.1 793.4L187.6 793.4L188.1 793.4L188.6 793.4L189.1 793.4L189.6 793.4L190.1 793.4L190.6 793.4L191.1 793.4L191.6 793.4L192.1 793.4L192.6 793.4L193.1 793.4L193.6 793.4L194.1 793.4L194.6 793.4L195.1 793.4L195.6 793.4L196.1 793.4L196.6 793.4L197.1 793.4L197.6 793.4L198.1 793.4L198.6 793.4L199.1 793.4L199.6 793.4L200.1 793.4L200.6 793.4L201.1 793.4L201.6 793.4L202.1 793.4L202.6 793.4L203.1 793.4L203.6 793.4L204.1 793.4L204.6 793.4L205.1 793.4L205.6 793.4L206.1 793.4L206.6 793.4L207.1 793.4L207.6 793.4L208.1 793.4L208.6 793.4L209.1 793.4L209.6 793.4L210.1 793.4L210.6 793.4L211.1 793.4L211.6 793.4L212.1 793.4L212.6 793.4L213.1 793.4L213.6 793.4L214.1 793.4L214.6 793.4L215.1 793.4L215.6 793.4L216.1 793.4L216.6 793.4L217.1 793.4L217.6 793.4L218.1 793.4L218.6 793.4L219.1 793.4L219.6 793.4L220.1 793.4L220.6 793.4L221.1 793.4L221.6 793.4L222.1 793.4L222.6 793.4L223.1 793.4L223.6 793.4L224.1 793.4L224.6 793.4L225.1 793.4L225.6 793.4L226.1 793.4L226.6 793.4L227.1 793.4L227.6 793.4L228.1 793.4L228.6 793.4L229.1 793.4L229.6 793.4L230.1 793.4L230.6 793.4L231.1 793.4L231.6 793.4L232.1 793.4L232.6 793.4L233.1 793.4L233.6 793.4L234.1 793.4L234.6 793.4L235.1 793.4L235.6 793.4L236.1 793.4L236.6 793.4L237.1 793.4L237.6 793.4L238.1 793.4L238.6 793.4L239.1 793.4L239.6 793.4L240.1 793.4L240.6 793.4L241.1 793.4L241.6 793.4L242.1 793.4L242.6 793.4L243.1 793.4L243.6 793.4L244.1 793.4L244.6 793.4L245.1 793.4L245.6 793.4L246.1 793.4L246.6 793.4L247.1 793.4L247.6 793.4L248.1 793.4L248.6 793.4L249.1 793.4L249.6 793.4L250.1 793.4L250.6 793.4L251.1 793.4L251.6 793.4L252.1 793.4L252.6 793.4L253.1 793.4L253.6 793.4L254.1 793.4L254.6 793.4L255.1 793.4L255.6 793.4L256.1 793.4L256.6 793.4L257.1 793.4L257.6 793.4L258.1 793.4L258.6 793.4L259.1 793.4L259.6 793.4L260.1 793.4L260.6 793.4L261.1 793.4L261.6 793.4L262.1 793.4L262.6 793.4L263.1 793.4L263.6 793.4L264.1 793.4L264.6 793.4L265.1 793.4L265.6 793.4L266.1 793.4L266.6 793.4L267.1 793.4L267.6 793.4L268.1 793.4L268.6 793.4L269.1 793.4L269.6 793.4L270.1 793.4L270.6 793.4L271.1 793.4L271.6 793.4L272.1 793.4L272.6 793.4L273.1 793.4L273.6 793.4L274.1 793.4L274.6 793.4L275.1 793.4L275.6 793.4L276.1 793.4L276.6 793.4L277.1 793.4L277.6 793.4L278.1 793.4L278.6 793.4L279.1 793.4L279.6 793.4L280.1 793.4L280.6 793.4L281.1 793.4L281.6 793.4L282.1 793.4L282.6 793.4L283.1 793.4L283.6 793.4L284.1 793.4L284.6 793.4L285.1 793.4L285.6 793.4L286.1 793.4L286.6 793.4L287.1 793.4L287.6 793.4L288.1 793.4L288.6 793.4L289.1 793.4L289.6 793.4L290.1 793.4L290.6 793.4L291.1 793.4L291.6 793.4L292.1 793.4L292.6 793.4L293.1 793.4L293.6 793.4L294.1 793.4L294.6 793.4L295.1 793.4L295.6 793.4L296.1 793.4L296.6 793.4L297.1 793.4L297.6 793.4L298.1 793.4L298.6 793.4L299.1 793.4L299.6 793.4L300.1 793.4L300.6 793.4L301.1 793.4L301.6 793.4L302.1 793.4L302.6 793.4L303.1 793.4L303.6 793.4L304.1 793.4L304.6 793.4L305.1 793.4L305.6 793.4L306.1 793.4L306.6 793.4L307.1 793.4L307.6 793.4L308.1 793.4L308.6 793.4L309.1 793.4L309.6 793.4L310.1 793.4L310.6 793.4L311.1 793.4L311.6 793.4L312.1 793.4L312.6 793.4L313.1 793.4L313.6 793.4L314.1 793.4L314.6 793.4L315.1 793.4L315.6 793.4L316.1 793.4L316.6 793.4L317.1 793.4L317.6 793.4L318.1 793.4L318.6 793.4L319.1 793.4L319.6 793.4L320.1 793.4L320.6 793.4L321.1 793.4L321.6 793.4L322.1 793.4L322.6 793.4L323.1 793.4L323.6 793.4L324.1 793.4L324.6 793.4L325.1 793.4L325.6 793.4L326.1 793.4L326.6 793.4L327.1 793.4L327.6 793.4L328.1 793.4L328.6 793.4L329.1 793.4L329.6 793.4L330.1 793.4L330.6 793.4L331.1 793.4L331.6 793.4L332.1 793.4L332.6 793.4L333.1 793.4L333.6 793.4L334.1 793.4L334.6 793.4L335.1 793.4L335.6 793.4L336.1 793.4L336.6 793.4L337.1 793.4L337.6 793.4L338.1 793.4L338.6 793.4L339.1 793.4L339.6 793.4L340.1 793.4L340.6 793.4L341.1 793.4L341.6 793.4L342.1 793.4L342.6 793.4L343.1 793.4L343.6 793.4L344.1 793.4L344.6 793.4L345.1 793.4L345.6 793.4L346.1 793.4L346.6 793.4L347.1 793.4L347.6 793.4L348.1 793.4L348.6 793.4L349.1 793.4L349.6 793.4L350.1 793.4L350.6 793.4L351.1 793.4L351.6 793.4L352.1 793.4L352.6 793.4L353.1 793.4L353.6 793.4L354.1 793.4L354.6 793.4L355.1 793.4L355.6 793.4L356.1 793.4L356.6 793.4L357.1 793.4L357.6 793.4L358.1 793.4L358.6 793.4L359.1 793.4L359.6 793.4L360.1 793.4L360.6 793.4L361.1 793.4L361.6 793.4L362.1 793.4L362.6 793.4L363.1 793.4L363.6 793.4L364.1 793.4L364.6 793.4L365.1 793.4L365.6 793.4L366.1 793.4L366.6 793.4L367.1 793.4L367.6 793.4L368.1 793.4L368.6 793.4L369.1 793.4L369.6 793.4L370.1 793.4L370.6 793.4L371.1 793.4L371.6 793.4L372.1 793.4L372.6 793.4L373.1 793.4L373.6 793.4L374.1 793.4L374.6 793.4L375.1 793.4L375.6 793.4L376.1 793.4L376.6 793.4L377.1 793.4L377.6 793.4L378.1 793.4L378.6 793.4L379.1 793.4L379.6 793.4L380.1 793.4L380.6 793.4L381.1 793.4L381.6 793.4L382.1 793.4L382.6 793.4L383.1 793.4L383.6 793.4L384.1 793.4L384.6 793.4L385.1 793.4L385.6 793.4L386.1 793.4L386.6 793.34L387.1 793.19L387.6 792.91L388.1 792.48L388.6 791.88L389.1 791.07L389.6 790.03L390.1 788.73L390.6 782.86L391.1 763.09L391.6 722.64L392.1 659.19L392.6 586.24L393.1 533.07L393.4 523.5L393.6 526.28L394.1 551.23L394.6 597.43L395.1 651.46L395.6 701.35L396.1 740.04L396.6 765.75L397.1 780.58L397.6 788.12L398.1 789.74L398.6 791.04L399.1 792.02L399.6 792.73L400.1 793.19L400.6 793.44L401.1 793.5L401.6 793.51L402.1 793.51L402.6 793.51L403.1 793.52L403.6 793.52L404.1 793.53L404.6 793.53L405.1 793.53L405.6 793.54L406.1 793.54L406.6 793.54L407.1 793.55L407.6 793.55L408.1 793.55L408.6 793.56L409.1 793.56L409.6 793.56L410.1 793.56L410.6 793.57L411.1 793.57L411.6 793.57L412.1 793.57L412.6 793.57L413.1 793.58L413.6 793.58L414.1 793.58L414.6 793.58L415.1 793.58L415.6 793.58L416.1 793.59L416.6 793.59L417.1 793.59L417.6 793.59L418.1 793.59L418.6 793.59L419.1 793.59L419.6 793.59L420.1 793.59L420.6 793.59L421.1 793.6L421.6 793.6L422.1 793.6L422.6 793.6L423.1 793.6L423.6 793.6L424.1 793.6L424.6 793.6L425.1 793.6L425.6 793.6L426.1 793.6L426.6 793.6L427.1 793.6L427.6 793.6L428.1 793.6L428.6 793.6L429.1 793.6L429.6 793.6L430.1 793.6L430.6 793.6L431.1 793.6L431.6 793.6L432.1 793.6L432.6 793.6L433.1 793.6L433.6 793.6L434.1 793.6L434.6 793.6L435.1 793.6L435.6 793.6L436.1 793.6L436.6 793.6L437.1 793.6L437.6 793.59L438.1 793.59L438.6 793.59L439.1 793.59L439.6 793.59L440.1 793.59L440.6 793.59L441.1 793.59L441.6 793.59L442.1 793.59L442.6 793.59L443.1 793.59L443.6 793.58L444.1 793.58L444.6 793.58L445.1 793.58L445.6 793.58L446.1 793.58L446.6 793.58L447.1 793.58L447.6 793.58L448.1 793.57L448.6 793.57L449.1 793.57L449.6 793.57L450.1 793.57L450.6 793.57L451.1 793.57L451.6 793.56L452.1 793.56L452.6 793.56L453.1 793.56L453.6 793.56L454.1 793.56L454.6 793.55L455.1 793.55L455.6 793.55L456.1 793.55L456.6 793.55L457.1 793.55L457.6 793.54L458.1 793.54L458.6 793.54L459.1 793.54L459.6 793.54L460.1 793.54L460.6 793.53L461.1 793.53L461.6 793.53L462.1 793.53L462.6 793.53L463.1 793.53L463.6 793.52L464.1 793.52L464.6 793.52L465.1 793.52L465.6 793.52L466.1 793.51L466.6 793.51L467.1 793.51L467.6 793.51L468.1 793.51L468.6 793.51L469.1 793.5L469.6 793.5L470.1 793.5L470.6 793.5L471.1 793.5L471.6 793.49L472.1 793.49L472.6 793.49L473.1 793.49L473.6 793.49L474.1 793.48L474.6 793.48L475.1 793.48L475.6 793.48L476.1 793.48L476.6 793.47L477.1 793.47L477.6 793.47L478.1 793.47L478.6 793.46L479.1 793.46L479.6 793.46L480.1 793.46L480.6 793.45L481.1 793.45L481.6 793.45L482.1 793.45L482.6 793.44L483.1 793.44L483.6 793.44L484.1 793.44L484.6 793.43L485.1 793.43L485.6 793.43L486.1 793.42L486.6 793.42L487.1 793.42L487.6 793.41L488.1 793.41L488.6 793.41L489.1 793.4L489.6 793.4L490.1 793.39L490.6 793.39L491.1 793.39L491.6 793.38L492.1 793.38L492.6 793.37L493.1 793.37L493.6 793.37L494.1 793.36L494.6 793.36L495.1 793.35L495.6 793.35L496.1 793.34L496.6 793.34L497.1 793.33L497.6 793.33L498.1 793.32L498.6 793.32L499.1 793.31L499.6 793.3L500.1 793.3L500.6 793.29L501.1 793.29L501.6 793.28L502.1 793.28L502.6 793.27L503.1 793.27L503.6 793.26L504.1 793.25L504.6 793.24L505.1 793.24L505.6 793.23L506.1 793.22L506.6 793.2L507.1 793.19L507.6 793.18L508.1 793.16L508.6 793.14L509.1 793.12L509.6 793.1L510.1 793.08L510.6 793.05L511.1 793.02L511.6 792.99L512.1 792.87L512.6 792.63L513.1 792.3L513.6 791.88L514.1 791.38L514.6 790.36L515.1 788.91L515.6 787.43L516.1 786.31L516.6 785.31L517.1 784.55L517.6 784.47L518.1 785.13L518.6 786.11L519.1 787.18L519.6 788.66L520.1 790.18L520.6 791.28L521.1 791.7L521.6 792L522.1 792.23L522.6 792.36L523.1 792.4L523.6 792.4L524.1 792.4L524.6 792.4L525.1 792.39L525.6 792.39L526.1 792.39L526.6 792.38L527.1 792.38L527.6 792.38L528.1 792.37L528.6 792.37L529.1 792.36L529.6 792.35L530.1 792.35L530.6 792.34L531.1 792.33L531.6 792.33L532.1 792.32L532.6 792.31L533.1 792.3L533.6 792.3L534.1 792.29L534.6 792.28L535.1 792.27L535.6 792.27L536.1 792.26L536.6 792.25L537.1 792.24L537.6 792.23L538.1 792.23L538.6 792.22L539.1 792.21L539.6 792.21L540.1 792.2L540.6 792.19L541.1 792.19L541.6 792.18L542.1 792.17L542.6 792.17L543.1 792.16L543.6 792.15L544.1 792.14L544.6 792.14L545.1 792.13L545.6 792.12L546.1 792.12L546.6 792.11L547.1 792.1L547.6 792.1L548.1 792.09L548.6 792.08L549.1 792.07L549.6 792.07L550.1 792.06L550.6 792.05L551.1 792.04L551.6 792.04L552.1 792.03L552.6 792.02L553.1 792.01L553.6 792.01L554.1 792L554.6 791.99L555.1 791.98L555.6 791.97L556.1 791.97L556.6 791.96L557.1 791.95L557.6 791.94L558.1 791.93L558.6 791.92L559.1 791.92L559.6 791.91L560.1 791.9L560.6 791.89L561.1 791.88L561.6 791.88L562.1 791.87L562.6 791.86L563.1 791.86L563.6 791.85L564.1 791.84L564.6 791.83L565.1 791.83L565.6 791.82L566.1 791.81L566.6 791.8L567.1 791.79L567.6 791.78L568.1 791.76L568.6 791.75L569.1 791.73L569.6 791.72L570.1 791.69L570.6 791.64L571.1 791.55L571.6 791.44L572.1 791.32L572.6 791.2L573.1 791.1L573.6 791.03L574.1 791L574.6 791.02L575.1 791.09L575.6 791.18L576.1 791.29L576.6 791.4L577.1 791.5L577.6 791.57L578.1 791.6L578.6 791.62L579.1 791.64L579.6 791.66L580.1 791.68L580.6 791.7L581.1 791.71L581.6 791.73L582.1 791.74L582.6 791.76L583.1 791.77L583.6 791.79L584.1 791.8L584.6 791.82L585.1 791.83L585.6 791.84L586.1 791.85L586.6 791.86L587.1 791.87L587.6 791.88L588.1 791.89L588.6 791.9L589.1 791.91L589.6 791.92L590.1 791.93L590.6 791.93L591.1 791.94L591.6 791.95L592.1 791.95L592.6 791.96L593.1 791.97L593.6 791.97L594.1 791.98L594.6 791.98L595.1 791.98L595.6 791.99L596.1 791.99L596.6 791.99L597.1 791.99L597.6 792L598.1 792L598.6 792L599.1 792L599.6 792L600.1 792L600.6 792L601.1 792L601.6 792L602.1 792L602.6 792L603.1 792L603.6 792L604.1 792L604.6 792L605.1 792L605.6 792L606.1 792L606.6 792L607.1 792L607.6 792L608.1 792L608.6 792L609.1 792L609.6 792L610.1 792L610.6 792L611.1 792L611.6 792L612.1 792L612.6 792L613.1 792L613.6 792L614.1 792L614.6 792L615.1 792L615.6 792L616.1 792L616.6 792L617.1 792L617.6 792L618.1 792L618.6 792L619.1 792L619.6 792L620.1 792L620.6 792L621.1 792L621.6 792L622.1 792L622.6 792L623.1 792L623.6 792L624.1 792L624.6 792L625.1 792L625.6 792L626.1 792L626.6 792L627.1 792L627.6 792L628.1 792L628.6 792L629.1 792L629.6 792L630.1 792L630.6 792L631.1 792L631.6 792L632.1 792L632.6 792L633.1 792L633.6 792L634.1 792L634.6 792L635.1 792L635.6 792L636.1 792L636.6 792L637.1 792L637.6 792L638.1 792L638.6 792L639.1 792L639.6 792" stroke="#1c1ce0" stroke-width="1.35" fill="none" stroke-linejoin="round"/>
<path d="M290.4 790.8L303.6 790.3M290.4 789.8v5M302.1 788.3l1.5 2.5l1.5 -2.5M313 772.5L325 780.1M313 771.5v5M323.5 778.1l1.5 2.5l1.5 -2.5M355.7 788.5L368.8 784.5M355.7 787.5v5M367.3 782.5l1.5 2.5l1.5 -2.5M389.6 790.6L398.5 790.3M389.6 789.6v5M397 788.3l1.5 2.5l1.5 -2.5M399.5 790.3L409.3 790M399.5 789.3v5M407.8 788l1.5 2.5l1.5 -2.5M140.6 786.3L146 784.5M140.6 785.3v5M144.5 782.5l1.5 2.5l1.5 -2.5M510 796L514 792.5M510 795v5M512.5 790.5l1.5 2.5l1.5 -2.5" stroke="#f02a1c" stroke-width="0.85" fill="none"/>
</svg>
</body></html>
